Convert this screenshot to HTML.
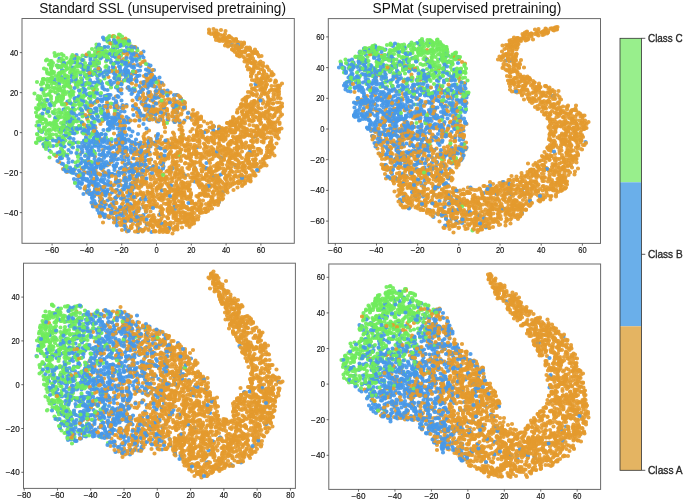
<!DOCTYPE html><html><head><meta charset="utf-8"><style>html,body{margin:0;padding:0;background:#fff;width:685px;height:500px;overflow:hidden}.w{position:relative;width:685px;height:500px}</style></head><body><div class="w"><svg width="685" height="500" viewBox="0 0 1370 1000" style="position:absolute;left:0;top:0"><style>.G{stroke:#70ec5c}.B{stroke:#4698e8}.O{stroke:#e49a2e}path{fill:none;stroke-linecap:round;stroke-width:8.4;stroke-opacity:0.92}</style><defs><clipPath id="cTL"><rect x="44" y="37" width="544.6" height="449.6"/></clipPath><clipPath id="cTR"><rect x="656.6" y="37.2" width="544.4" height="449.6"/></clipPath><clipPath id="cBL"><rect x="47" y="526.4" width="543.8" height="450.4"/></clipPath><clipPath id="cBR"><rect x="657.6" y="528" width="543.6" height="450.4"/></clipPath></defs><g clip-path="url(#cTL)">
<path class="O" d="M245 391h0M396 350h0M403 424h0M320 204h0M231 234h0M425 385h0M504 329h0M426 384h0M336 385h0M343 277h0M467 364h0M362 283h0M533 259h0M320 296h0M543 245h0M495 319h0M323 273h0M272 298h0M520 335h0M538 140h0M385 328h0M366 217h0M525 139h0M353 388h0M345 290h0M424 349h0M411 383h0M301 164h0M219 369h0M346 265h0M457 287h0M278 349h0M491 296h0M401 424h0M312 188h0M202 415h0M479 326h0M274 390h0M341 342h0M298 135h0M385 280h0M292 342h0M366 369h0M313 378h0M379 369h0M418 66h0M511 311h0M509 221h0M279 326h0M527 175h0M266 448h0M402 351h0M521 334h0M429 286h0M390 440h0M502 170h0M432 403h0M456 335h0M349 389h0M526 272h0M198 96h0M340 340h0M373 279h0M484 94h0M273 438h0M531 237h0M340 349h0M176 384h0M232 193h0M335 233h0M221 169h0M325 286h0M518 217h0M493 228h0M309 341h0M479 235h0M319 358h0M367 374h0M354 221h0M281 384h0M424 371h0M362 367h0M521 232h0M311 236h0M335 280h0M374 290h0M396 255h0M334 298h0M453 369h0M312 299h0M233 206h0M426 284h0M534 304h0M517 342h0M329 388h0M432 365h0M267 395h0M557 277h0M289 214h0M388 341h0M532 223h0M528 185h0M461 372h0M402 387h0M501 215h0M506 276h0M494 267h0M278 331h0M225 73h0M501 117h0M254 242h0M322 357h0M542 276h0M208 374h0M542 284h0M542 275h0M246 344h0M379 370h0M507 228h0M297 389h0M338 383h0M350 413h0M152 161h0M431 67h0M341 350h0M334 464h0M413 278h0M450 68h0M247 118h0M376 373h0M300 231h0M332 218h0M321 360h0M298 396h0M537 300h0M551 161h0M392 407h0M506 319h0"/>
<path class="G" d="M147 163h0M243 123h0M123 258h0M96 171h0M246 106h0M252 82h0M94 144h0M98 247h0M135 153h0M73 286h0M121 147h0M178 176h0M143 148h0M118 162h0M91 211h0M259 86h0M168 256h0M158 203h0M131 281h0M233 107h0M239 90h0M132 340h0M242 111h0M113 240h0M118 165h0M120 179h0M75 244h0M171 203h0M141 194h0M167 120h0M158 217h0M132 207h0M88 214h0M229 86h0M166 230h0M174 140h0M230 98h0M75 219h0M144 245h0M209 157h0M102 193h0M215 83h0M140 255h0M113 291h0M167 132h0M193 89h0M118 180h0M178 232h0M192 272h0M155 300h0M105 278h0M167 143h0"/>
<path class="B" d="M289 124h0M242 276h0M276 218h0M202 427h0M275 339h0M211 391h0M218 354h0M351 202h0M154 285h0M165 209h0M263 388h0M228 438h0M201 117h0M96 174h0M258 131h0M252 305h0M194 201h0M191 285h0M268 425h0M262 295h0M238 297h0M187 369h0M197 200h0M84 208h0M186 342h0M186 412h0M183 342h0M281 307h0M381 236h0M202 427h0M221 370h0M215 401h0M296 129h0M318 223h0M193 350h0M244 335h0M350 418h0M232 359h0M234 287h0M260 408h0M160 345h0M390 336h0M95 287h0M217 135h0M267 332h0M348 234h0M230 150h0M194 151h0M276 190h0M126 157h0M250 399h0M223 283h0M249 90h0M299 305h0M198 301h0M265 185h0M287 115h0M190 239h0M205 110h0M182 364h0"/>
<path class="O" d="M403 308h0M308 410h0M203 321h0M412 296h0M304 410h0M447 337h0M251 370h0M278 404h0M250 449h0M520 239h0M261 326h0M443 270h0M459 260h0M357 383h0M306 332h0M174 385h0M280 336h0M440 337h0M344 363h0M497 224h0M428 382h0M547 245h0M500 118h0M363 260h0M376 375h0M447 294h0M330 284h0M450 340h0M326 297h0M340 450h0M291 392h0M352 441h0M299 404h0M467 84h0M291 362h0M558 188h0M402 238h0M447 282h0M435 335h0M351 427h0M227 250h0M381 406h0M547 187h0M187 410h0M496 184h0M328 181h0M168 292h0M271 241h0M327 348h0M300 184h0M482 292h0M334 218h0M313 364h0M551 273h0M434 304h0M163 305h0M337 309h0M414 351h0M203 420h0M316 359h0M492 318h0M418 381h0M345 225h0M126 192h0M367 415h0M321 342h0M410 339h0M371 374h0M278 377h0M362 197h0M200 429h0M440 82h0M281 227h0M434 308h0M471 92h0M289 368h0M508 127h0M298 147h0M264 301h0M456 289h0M383 449h0M399 324h0M526 132h0M376 350h0M505 147h0M390 416h0M252 364h0M408 298h0M329 200h0M495 127h0M362 229h0M513 328h0M517 202h0M536 292h0M416 262h0M338 412h0M449 262h0M484 240h0M286 187h0M396 347h0M282 373h0M331 445h0M246 450h0M373 441h0M272 369h0M415 247h0M465 316h0M503 204h0M277 438h0M480 251h0M408 334h0M265 316h0M516 340h0M530 313h0M275 359h0M307 203h0M304 213h0M336 464h0M293 306h0M330 444h0M291 456h0M416 338h0M419 418h0M482 296h0M505 310h0M463 244h0M274 351h0M270 106h0M511 319h0M443 384h0M320 397h0M423 395h0M337 240h0M304 166h0M205 311h0M359 251h0M477 367h0M348 397h0M500 298h0M353 395h0M212 385h0M320 279h0M488 274h0M225 238h0M547 149h0M498 310h0M228 267h0M363 384h0M314 207h0M475 297h0M550 182h0M370 443h0M466 78h0M406 380h0"/>
<path class="G" d="M134 164h0M143 293h0M124 197h0M194 113h0M89 191h0M253 145h0M161 117h0M96 220h0M138 168h0M143 288h0M96 291h0M127 160h0M143 119h0M88 217h0M256 80h0M158 252h0M211 105h0M173 112h0M127 111h0M139 260h0M117 147h0M166 201h0M217 108h0M165 265h0M244 73h0M74 164h0M201 97h0M154 125h0M86 158h0M242 78h0M81 235h0M87 181h0M91 219h0M129 232h0"/>
<path class="B" d="M126 328h0M270 364h0M171 322h0M123 154h0M145 209h0M271 442h0M272 279h0M217 297h0M231 308h0M226 96h0M196 285h0M193 349h0M214 331h0M230 241h0M207 113h0M90 286h0M107 226h0M394 295h0M305 338h0M118 168h0M209 192h0M257 383h0M303 464h0M311 189h0M95 172h0M233 229h0M132 156h0M161 149h0M88 218h0M170 191h0M206 364h0M287 306h0M345 291h0M165 293h0M308 153h0M145 323h0M173 328h0M165 304h0M169 292h0M174 382h0M389 363h0M193 335h0M158 341h0M185 131h0M188 127h0M181 350h0M177 372h0M171 166h0M187 260h0M161 294h0M267 177h0M292 154h0M241 278h0M234 300h0M201 146h0M257 320h0M198 426h0M219 299h0M216 305h0M185 393h0M110 310h0M129 308h0"/>
<path class="B" d="M246 268h0M282 369h0M270 147h0M324 233h0M211 280h0M233 213h0M146 215h0M304 169h0M428 253h0M245 84h0M271 340h0M369 241h0M266 143h0M155 359h0M183 256h0M126 293h0M330 227h0M124 316h0M138 231h0M186 348h0M341 289h0M250 354h0M206 307h0M237 181h0M219 284h0M163 134h0M300 146h0M236 155h0M193 128h0M263 394h0M190 252h0M280 195h0M134 227h0M142 305h0M172 274h0M249 79h0M165 130h0M191 280h0M208 309h0M247 280h0M232 404h0M250 347h0M183 165h0M281 321h0M288 170h0M130 333h0M217 243h0M238 293h0M203 147h0M213 199h0M228 331h0M182 220h0M246 372h0M224 348h0M275 199h0M235 171h0M236 125h0M224 112h0M199 111h0M145 258h0M202 163h0M183 171h0M176 345h0M123 327h0M167 340h0M201 96h0M244 102h0M308 173h0M189 205h0M200 395h0M181 120h0"/>
<path class="G" d="M84 261h0M122 257h0M143 345h0M135 184h0M99 271h0M100 246h0M178 149h0M200 167h0M186 129h0M148 154h0M92 294h0M109 227h0M244 129h0M101 183h0M147 343h0M225 102h0M104 154h0M76 277h0M115 239h0M162 243h0M169 261h0M117 284h0M73 251h0M99 190h0M121 177h0M139 275h0M177 109h0M190 103h0M145 209h0M279 118h0M138 154h0M216 141h0M136 242h0M225 108h0M99 129h0M193 171h0M142 127h0"/>
<path class="O" d="M397 418h0M260 161h0M364 455h0M442 60h0M557 216h0M272 375h0M215 220h0M498 336h0M494 310h0M409 336h0M462 282h0M330 451h0M509 133h0M535 313h0M338 420h0M506 234h0M517 298h0M269 404h0M428 332h0M331 285h0M242 236h0M344 356h0M349 399h0M311 462h0M306 229h0M482 214h0M389 408h0M494 268h0M524 187h0M351 396h0M212 409h0M293 335h0M498 241h0M531 186h0M403 408h0M326 213h0M447 316h0M510 99h0M307 158h0M218 329h0M258 399h0M516 109h0M366 404h0M518 260h0M385 308h0M271 370h0M526 207h0M243 121h0M353 233h0M544 218h0M385 258h0M428 280h0M447 268h0M510 125h0M206 300h0M355 439h0M397 363h0M484 287h0M448 78h0M522 245h0M141 174h0M248 356h0M356 284h0M433 377h0M394 365h0M330 365h0M452 351h0M394 351h0M268 130h0M485 289h0M314 182h0M527 285h0M378 381h0M322 352h0M429 366h0M250 279h0M327 218h0M473 287h0M473 93h0M436 294h0M485 354h0M232 438h0M499 351h0M425 318h0M375 441h0M429 409h0M276 454h0M512 172h0M437 351h0M328 360h0M540 181h0M396 439h0M434 265h0M274 225h0M404 313h0M506 209h0M448 318h0M477 335h0M457 307h0M396 438h0M516 266h0M302 450h0M458 320h0M320 346h0M451 77h0M381 355h0M294 156h0M474 294h0M523 274h0M315 377h0M338 428h0M298 283h0M264 335h0M273 387h0M345 233h0M363 209h0M284 360h0M422 355h0M474 106h0M374 316h0M441 258h0M438 385h0M507 122h0M223 408h0M478 273h0M521 238h0M537 210h0M400 426h0M286 353h0M326 464h0M384 308h0M509 102h0M324 326h0M393 240h0M342 296h0M398 280h0M204 427h0M287 386h0M339 307h0M503 126h0M427 403h0M493 216h0"/>
<path class="G" d="M75 198h0M124 300h0M130 227h0M78 210h0M153 258h0M136 216h0M116 188h0M114 290h0M101 276h0M211 102h0M184 98h0M214 116h0M148 136h0M211 104h0M141 133h0M152 166h0M122 297h0M233 89h0M145 139h0M146 234h0M176 212h0M251 142h0M216 197h0M217 168h0M154 118h0M151 325h0M105 269h0"/>
<path class="B" d="M302 144h0M167 388h0M135 255h0M196 240h0M186 361h0M255 141h0M189 402h0M207 302h0M248 379h0M224 371h0M173 326h0M233 160h0M173 361h0M235 278h0M216 208h0M140 228h0M292 139h0M176 318h0M208 430h0M217 348h0M230 227h0M287 430h0M189 303h0M163 286h0M235 106h0M289 394h0M184 386h0M158 192h0M246 432h0M239 363h0M197 135h0M231 333h0M190 140h0M132 238h0M232 445h0M206 283h0M237 318h0M270 430h0M204 398h0M190 273h0M261 241h0M201 289h0M272 111h0M187 344h0M279 294h0M286 462h0M128 173h0M200 402h0M176 385h0M177 168h0M275 423h0M463 90h0M308 157h0M205 173h0M184 235h0M137 275h0M251 285h0M243 201h0M323 189h0M446 384h0M110 165h0M209 179h0M273 108h0M239 264h0M205 199h0M205 351h0M213 79h0M146 259h0M257 237h0M231 381h0M137 318h0M278 115h0M318 373h0M153 242h0M216 259h0M208 316h0M216 248h0M173 297h0"/>
<path class="O" d="M361 425h0M448 78h0M311 183h0M126 338h0M479 113h0M347 428h0M543 280h0M374 398h0M319 451h0M368 425h0M512 106h0M368 391h0M429 370h0M217 154h0M484 316h0M419 63h0M293 412h0M313 241h0M264 93h0M473 279h0M244 290h0M241 150h0M418 311h0M138 341h0M535 226h0M418 309h0M252 454h0M244 284h0M551 245h0M179 384h0M336 391h0M433 329h0M364 376h0M543 299h0M384 240h0M542 301h0M347 408h0M361 404h0M446 71h0M461 261h0M469 238h0M348 330h0M477 323h0M506 178h0M367 347h0M323 188h0M464 282h0M346 226h0M454 246h0M285 409h0M348 197h0M329 247h0M500 240h0M174 254h0M374 375h0M514 257h0M315 185h0M304 385h0M504 160h0M331 360h0M328 227h0M559 205h0M460 318h0M457 350h0M147 342h0M532 230h0M401 327h0M534 209h0M403 268h0M358 387h0M559 258h0M284 362h0M480 95h0M134 344h0M288 359h0M417 345h0M307 389h0M543 149h0M518 113h0M521 248h0M333 353h0M270 111h0M443 392h0M244 164h0M324 369h0M351 206h0M422 401h0M485 326h0M306 288h0M307 441h0M394 271h0M379 293h0M330 380h0M465 246h0M486 294h0M370 352h0M244 428h0M450 356h0M557 192h0M403 410h0M494 95h0M410 374h0M490 338h0M438 286h0M301 415h0M309 365h0M481 354h0M396 393h0M401 261h0M442 78h0M216 432h0M251 341h0M316 314h0M513 104h0M285 308h0M533 331h0M381 320h0M429 287h0M337 186h0M509 207h0M376 293h0M290 357h0M336 437h0M308 463h0M476 298h0M463 333h0M403 263h0M522 163h0M322 219h0M501 125h0M459 333h0M240 268h0M351 454h0M554 269h0M348 372h0M439 372h0M328 398h0M504 304h0M506 117h0M447 316h0M331 294h0M539 232h0M474 258h0M312 286h0M377 381h0"/>
<path class="G" d="M130 131h0M87 288h0M154 265h0M143 142h0M190 188h0M208 230h0M157 285h0M109 207h0M112 176h0M170 126h0M75 218h0M111 185h0M121 288h0M189 261h0M133 229h0M152 170h0M139 205h0M216 261h0M209 103h0M86 210h0M79 236h0M198 124h0M226 92h0M203 104h0M150 203h0M86 167h0M124 124h0M79 242h0M203 111h0M87 259h0"/>
<path class="O" d="M325 459h0M304 149h0M381 394h0M205 279h0M468 312h0M501 184h0M459 345h0M415 392h0M532 171h0M451 358h0M328 407h0M246 399h0M520 230h0M555 242h0M518 262h0M219 396h0M345 325h0M490 333h0M553 222h0M478 362h0M350 432h0M271 337h0M335 418h0M488 235h0M297 276h0M296 305h0M422 393h0M521 123h0M506 333h0M437 312h0M385 277h0M367 245h0M513 131h0M438 256h0M384 435h0M384 362h0M325 235h0M379 316h0M471 319h0M293 448h0M353 206h0M413 421h0M388 338h0M495 262h0M340 305h0M284 397h0M253 442h0M517 136h0M296 375h0M353 335h0M339 346h0M444 269h0M348 268h0M272 428h0M385 434h0M461 358h0M538 256h0M451 276h0M483 105h0M319 464h0M307 222h0M352 328h0M317 310h0M335 384h0M375 336h0M519 226h0M335 283h0M555 196h0M452 382h0M378 419h0M555 274h0M314 394h0M451 62h0M332 408h0M296 446h0M405 332h0M543 249h0M431 275h0M475 292h0M247 438h0M393 305h0M288 152h0M454 299h0M418 364h0M468 80h0M349 214h0M453 265h0M430 306h0M390 249h0M411 278h0M469 265h0M266 219h0M414 416h0M435 388h0M394 268h0M274 304h0M417 309h0M454 81h0M329 318h0M247 239h0M378 309h0M497 293h0M336 406h0M217 348h0M368 311h0M232 332h0M318 295h0M447 390h0M320 430h0M455 385h0M189 390h0M502 260h0M411 293h0M439 364h0M327 170h0M516 172h0M518 146h0M421 280h0M520 262h0M355 383h0M402 264h0M345 311h0M372 301h0M382 442h0M319 448h0M283 346h0M353 238h0M164 355h0M377 225h0M339 408h0M351 329h0M418 59h0M190 313h0M271 432h0M528 233h0M144 341h0M331 356h0M535 204h0"/>
<path class="B" d="M115 131h0M328 207h0M221 291h0M243 415h0M259 149h0M199 309h0M252 300h0M184 305h0M118 307h0M190 377h0M243 272h0M370 433h0M356 378h0M295 198h0M192 263h0M185 176h0M177 107h0M150 338h0M245 210h0M291 163h0M295 176h0M148 358h0M189 290h0M121 225h0M293 302h0M301 167h0M227 404h0M181 116h0M119 117h0M223 86h0M275 450h0M139 343h0M211 349h0M140 335h0M160 354h0M285 345h0M262 305h0M197 380h0M184 150h0M314 195h0M269 360h0M302 319h0M186 302h0M289 332h0M224 372h0M178 188h0M202 222h0M178 258h0M208 344h0M170 287h0M190 413h0M213 191h0M187 256h0M244 427h0M246 149h0M261 116h0M301 142h0M176 335h0M201 191h0M134 334h0M216 235h0M208 293h0M157 194h0M310 159h0M173 216h0M165 321h0M164 299h0M238 246h0M252 155h0M206 307h0M230 238h0M197 295h0M255 131h0M220 349h0M204 203h0M182 294h0M174 235h0M248 160h0M280 226h0M349 414h0M335 239h0M236 289h0"/>
<path class="B" d="M210 331h0M160 228h0M206 240h0M214 198h0M175 216h0M267 375h0M145 218h0M261 356h0M253 270h0M235 306h0M307 238h0M125 281h0M132 341h0M198 371h0M263 111h0M162 197h0M186 341h0M150 365h0M275 152h0M221 243h0M124 132h0M205 384h0M187 409h0M210 107h0M190 348h0M181 113h0M232 115h0M226 208h0M307 333h0M278 184h0M184 296h0M335 229h0M227 146h0M164 246h0M214 215h0M231 214h0M300 169h0M171 267h0M170 376h0M316 294h0M218 81h0M177 347h0M209 358h0M87 289h0M231 142h0M231 349h0M280 132h0M198 89h0M252 427h0M290 232h0M194 278h0M160 309h0M197 368h0M129 257h0M189 318h0M290 314h0M281 132h0M216 379h0M153 110h0M181 223h0M216 190h0M121 282h0M237 109h0M237 194h0M187 307h0M270 301h0M292 149h0M214 230h0M203 97h0M217 190h0M236 229h0M234 159h0M221 120h0M268 317h0M144 149h0"/>
<path class="O" d="M233 380h0M353 340h0M458 72h0M558 177h0M416 294h0M384 422h0M316 351h0M524 165h0M296 187h0M542 244h0M195 389h0M536 194h0M537 222h0M399 400h0M419 372h0M488 198h0M149 113h0M477 331h0M326 392h0M287 404h0M320 415h0M382 386h0M492 208h0M430 265h0M280 128h0M384 426h0M384 229h0M370 213h0M284 181h0M343 420h0M535 236h0M336 436h0M206 389h0M423 309h0M460 325h0M401 413h0M504 243h0M530 277h0M318 344h0M304 171h0M550 251h0M250 283h0M351 217h0M231 144h0M369 444h0M481 364h0M543 179h0M330 388h0M371 301h0M529 257h0M498 335h0M526 132h0M506 284h0M332 315h0M412 348h0M556 260h0M313 329h0M361 417h0M313 376h0M393 315h0M314 221h0M318 430h0M404 370h0M309 435h0M294 333h0M445 276h0M352 314h0M317 195h0M369 389h0M527 320h0M477 259h0M455 306h0M546 207h0M497 237h0M350 406h0M310 193h0M292 234h0M320 233h0M472 90h0M369 211h0M281 386h0M263 454h0M312 412h0M474 365h0M537 153h0M295 305h0M271 407h0M366 408h0M483 91h0M322 308h0M372 315h0M360 386h0M413 294h0M369 437h0M118 324h0M469 263h0M343 344h0M563 257h0M276 111h0M396 394h0M270 439h0M450 299h0M368 290h0M509 132h0M228 445h0M524 157h0M289 268h0M527 282h0M529 269h0M174 268h0M461 289h0M431 74h0M258 104h0M441 275h0M513 136h0M307 400h0M250 426h0M475 375h0M245 306h0M359 349h0M465 243h0M528 142h0M505 216h0M435 333h0M203 398h0M242 282h0M488 85h0M531 161h0M506 285h0M488 342h0M486 360h0M475 295h0"/>
<path class="G" d="M130 152h0M94 119h0M118 308h0M191 205h0M155 122h0M121 255h0M113 241h0M164 121h0M126 250h0M153 260h0M193 128h0M255 123h0M123 108h0M76 219h0M74 268h0M107 147h0M203 268h0M127 173h0M197 106h0M83 279h0M84 177h0M77 210h0M87 186h0M165 245h0M96 224h0M95 172h0M103 142h0M235 119h0M106 163h0M112 152h0M79 199h0M188 143h0M110 220h0M364 271h0M190 109h0M91 178h0M222 207h0M165 248h0M144 188h0M238 81h0M137 237h0M99 315h0M119 273h0"/>
<path class="G" d="M162 196h0M123 262h0M141 120h0M217 109h0M270 118h0M190 118h0M189 225h0M170 323h0M167 141h0M117 275h0M113 248h0M77 280h0M158 332h0M175 165h0M108 256h0M112 204h0M183 131h0M112 244h0M234 82h0M138 206h0M85 238h0M171 190h0M113 242h0M252 127h0M184 235h0M228 80h0M123 308h0M134 227h0M126 197h0M103 205h0M74 233h0M360 305h0M133 134h0M140 145h0M243 167h0M199 100h0"/>
<path class="B" d="M228 165h0M264 386h0M272 156h0M267 133h0M186 252h0M207 284h0M353 241h0M190 292h0M239 288h0M297 282h0M203 424h0M240 92h0M259 180h0M281 232h0M188 262h0M211 296h0M193 329h0M181 195h0M145 343h0M147 256h0M259 355h0M229 335h0M287 103h0M428 354h0M161 327h0M207 415h0M99 301h0M255 107h0M324 166h0M118 233h0M191 347h0M222 421h0M179 253h0M281 285h0M195 378h0M256 327h0M287 248h0M213 324h0M247 307h0M205 282h0M155 256h0M188 276h0M239 301h0M413 336h0M164 245h0M235 257h0M249 321h0M196 103h0M174 345h0M246 262h0M238 104h0M296 141h0M233 319h0M209 375h0M209 347h0M261 165h0M203 268h0M301 293h0M229 127h0M171 112h0M206 75h0M377 406h0M176 261h0M280 310h0M273 328h0M146 135h0"/>
<path class="O" d="M456 323h0M350 406h0M547 193h0M354 312h0M248 350h0M321 395h0M385 415h0M447 375h0M461 338h0M487 220h0M500 223h0M244 444h0M263 304h0M410 263h0M365 261h0M507 143h0M425 257h0M319 286h0M508 322h0M218 286h0M447 378h0M450 373h0M311 463h0M558 259h0M493 260h0M544 147h0M438 253h0M252 440h0M349 295h0M533 149h0M373 376h0M259 127h0M424 397h0M336 399h0M547 219h0M277 445h0M474 309h0M245 325h0M458 74h0M390 324h0M337 372h0M486 369h0M296 320h0M519 197h0M279 401h0M476 363h0M321 371h0M378 429h0M312 272h0M394 292h0M519 298h0M364 336h0M451 272h0M540 289h0M486 326h0M484 90h0M344 232h0M261 128h0M495 100h0M495 310h0M398 253h0M321 388h0M467 264h0M408 243h0M363 445h0M391 338h0M489 331h0M384 347h0M359 356h0M226 306h0M405 425h0M185 209h0M263 432h0M447 343h0M441 278h0M262 369h0M501 361h0M521 272h0M211 346h0M261 383h0M550 179h0M482 209h0M486 209h0M226 435h0M302 386h0M535 135h0M505 127h0M531 257h0M324 358h0M451 279h0M297 458h0M255 375h0M521 139h0M324 328h0M480 351h0M507 240h0M461 358h0M353 414h0M386 439h0M336 285h0M449 74h0M326 241h0M504 350h0M336 341h0M487 331h0M230 397h0M235 305h0M300 451h0M498 119h0M341 445h0M469 367h0M300 449h0M513 253h0M501 270h0M504 282h0M545 180h0M266 393h0M336 314h0M508 263h0M525 149h0M458 289h0M401 425h0M398 275h0M244 460h0M398 238h0M323 167h0M441 70h0M448 320h0M394 420h0M502 146h0M545 235h0M227 72h0M506 106h0M506 343h0M469 297h0M323 380h0M363 363h0M347 220h0M447 78h0M357 212h0M291 215h0M236 425h0M324 417h0M388 247h0M444 256h0M342 337h0M352 386h0M489 365h0"/>
<path class="G" d="M147 184h0M156 115h0M142 235h0M104 175h0M130 141h0M127 311h0M120 203h0M106 246h0M128 277h0M250 121h0M104 132h0M93 203h0M102 260h0M150 197h0M134 138h0M167 177h0M85 247h0M133 170h0M174 206h0M166 348h0M172 215h0M110 248h0M101 148h0M196 233h0M88 255h0M93 262h0M129 174h0M141 264h0M301 234h0M154 146h0M88 293h0M155 174h0M169 148h0M105 224h0M81 193h0"/>
<path class="O" d="M545 296h0M549 232h0M356 216h0M402 233h0M471 96h0M285 124h0M432 351h0M285 344h0M308 413h0M375 278h0M289 287h0M355 411h0M116 283h0M436 410h0M328 244h0M363 289h0M440 380h0M514 309h0M341 451h0M486 269h0M454 353h0M288 239h0M539 248h0M426 298h0M230 136h0M437 356h0M532 164h0M175 239h0M543 172h0M353 438h0M363 394h0M177 327h0M392 302h0M541 284h0M529 326h0M394 247h0M232 218h0M504 291h0M446 77h0M548 295h0M364 385h0M499 296h0M308 450h0M347 432h0M337 387h0M470 352h0M185 408h0M499 310h0M385 433h0M389 355h0M404 272h0M273 340h0M422 338h0M210 232h0M188 371h0M339 201h0M363 354h0M521 323h0M286 390h0M171 373h0M460 317h0M334 368h0M276 448h0M321 423h0M494 133h0M364 204h0M528 168h0M405 331h0M550 171h0M560 224h0M381 331h0M407 333h0M504 177h0M500 110h0M370 206h0M260 439h0M251 147h0M520 233h0M425 396h0M339 455h0M471 335h0M498 136h0M389 426h0M521 178h0M498 193h0M520 128h0M298 158h0M238 278h0M506 138h0M201 278h0M504 310h0M515 253h0M495 193h0M370 217h0M401 331h0M276 345h0M331 455h0M498 292h0M352 283h0M292 413h0M291 211h0M330 255h0M522 326h0M267 416h0M311 444h0M381 289h0M451 375h0M240 361h0M393 325h0M482 85h0M552 189h0M277 422h0M509 202h0M490 242h0M516 158h0M514 255h0M402 252h0M538 239h0M413 304h0M537 220h0M441 315h0M315 341h0M255 411h0M437 330h0M224 291h0M366 365h0M330 445h0M361 379h0M503 229h0M427 403h0M360 345h0M388 280h0M244 386h0M380 379h0M231 396h0M514 223h0M298 261h0M436 339h0M443 324h0M361 431h0M302 282h0M550 165h0M438 378h0"/>
<path class="B" d="M331 281h0M368 204h0M275 152h0M193 410h0M242 303h0M257 338h0M186 413h0M204 228h0M245 82h0M296 295h0M238 159h0M189 175h0M251 418h0M128 271h0M293 150h0M172 333h0M180 323h0M167 203h0M289 209h0M245 379h0M248 254h0M267 109h0M266 146h0M230 242h0M236 177h0M198 318h0M413 326h0M229 156h0M147 278h0M470 330h0M210 429h0M197 329h0M195 157h0M188 264h0M264 370h0M230 213h0M369 351h0M156 258h0M164 366h0M226 427h0M258 146h0M79 281h0M157 238h0M317 336h0M179 388h0M200 282h0M287 414h0M245 417h0M193 335h0M235 95h0M225 252h0M184 149h0M205 329h0M185 398h0M195 291h0M180 143h0M256 313h0M235 219h0M166 351h0M137 300h0M137 325h0M204 167h0M217 280h0M153 349h0M193 355h0M306 169h0M185 304h0M327 333h0M240 337h0M190 113h0M177 280h0M237 285h0"/>
<path class="B" d="M276 464h0M187 340h0M79 262h0M203 220h0M198 386h0M295 310h0M255 87h0M279 417h0M239 256h0M220 251h0M226 139h0M262 353h0M182 270h0M262 93h0M279 444h0M214 227h0M243 215h0M427 261h0M256 415h0M257 244h0M245 143h0M185 388h0M195 386h0M180 219h0M242 397h0M226 132h0M164 159h0M265 118h0M269 211h0M229 246h0M245 246h0M318 194h0M178 141h0M194 268h0M297 190h0M78 251h0M135 203h0M149 117h0M218 436h0M201 361h0M262 272h0M128 251h0M129 293h0M165 264h0M254 298h0M162 326h0M307 213h0M139 165h0M248 241h0M357 214h0M147 346h0M291 203h0M261 382h0M193 360h0M192 345h0M185 306h0M192 373h0M252 126h0M231 395h0M192 369h0M229 332h0M202 408h0M241 290h0M321 165h0M251 335h0M310 285h0M202 199h0M109 159h0M94 294h0M246 143h0M302 229h0M256 102h0M229 216h0M181 301h0M201 349h0M185 340h0M175 359h0M121 311h0M219 351h0M187 186h0"/>
<path class="O" d="M232 360h0M240 427h0M485 200h0M295 228h0M371 374h0M509 333h0M477 295h0M497 316h0M452 265h0M274 325h0M378 437h0M548 199h0M379 451h0M358 425h0M307 204h0M507 178h0M509 351h0M540 229h0M457 375h0M294 212h0M194 415h0M277 332h0M393 260h0M421 405h0M483 111h0M436 67h0M492 231h0M326 459h0M452 358h0M313 306h0M358 313h0M402 235h0M368 380h0M475 225h0M520 130h0M347 313h0M355 225h0M314 243h0M241 382h0M291 349h0M427 306h0M407 387h0M456 93h0M368 383h0M378 281h0M476 306h0M548 268h0M432 311h0M408 287h0M301 216h0M432 359h0M509 261h0M241 370h0M503 307h0M508 212h0M490 105h0M433 67h0M430 374h0M340 295h0M345 467h0M316 316h0M509 206h0M264 350h0M465 98h0M532 174h0M248 277h0M362 322h0M528 145h0M408 355h0M498 225h0M177 312h0M516 214h0M390 279h0M281 440h0M275 360h0M368 216h0M509 178h0M269 341h0M363 227h0M412 354h0M433 336h0M543 256h0M509 303h0M339 447h0M488 263h0M481 363h0M259 422h0M268 306h0M492 344h0M288 414h0M202 410h0M503 340h0M452 381h0M250 298h0M348 392h0M378 305h0M426 386h0M461 326h0M419 340h0M430 73h0M557 237h0M236 227h0M282 320h0M329 445h0M365 279h0M340 199h0M285 330h0M347 209h0M355 440h0M529 188h0M275 232h0M468 276h0M438 351h0M462 327h0M472 330h0M322 341h0M297 385h0M483 208h0M510 263h0M327 390h0M435 337h0M422 68h0M214 205h0M416 389h0M483 110h0M474 300h0M249 314h0M273 418h0M331 356h0M335 407h0M318 398h0M447 368h0M322 362h0"/>
<path class="G" d="M186 192h0M103 122h0M80 204h0M165 225h0M95 158h0M126 125h0M177 132h0M116 180h0M150 210h0M131 216h0M134 152h0M155 309h0M140 138h0M77 280h0M93 139h0M156 133h0M210 94h0M114 253h0M116 236h0M108 144h0M88 137h0M195 142h0M223 278h0M134 272h0M222 175h0M131 244h0M117 122h0M125 185h0M193 166h0M187 183h0M156 322h0M136 172h0M124 286h0M238 69h0M138 124h0M227 86h0M164 192h0"/>
<path class="G" d="M357 310h0M269 177h0M150 201h0M119 235h0M196 151h0M230 141h0M135 309h0M219 86h0M133 127h0M178 196h0M236 85h0M107 248h0M74 232h0M138 287h0M84 164h0M152 156h0M109 106h0M207 105h0M200 115h0M121 180h0M126 255h0M246 91h0M132 162h0M169 181h0M334 246h0M69 187h0M160 186h0M95 287h0M253 86h0M185 189h0M124 157h0M167 267h0M177 291h0M148 150h0M178 153h0M80 216h0M238 159h0M122 246h0M133 237h0M119 263h0M129 237h0M160 211h0M247 86h0"/>
<path class="B" d="M187 263h0M240 245h0M283 206h0M256 104h0M293 357h0M301 131h0M239 182h0M187 279h0M202 293h0M234 432h0M275 327h0M243 178h0M292 173h0M320 179h0M280 312h0M438 404h0M192 203h0M251 459h0M251 413h0M183 247h0M177 363h0M173 136h0M84 264h0M245 299h0M117 191h0M244 273h0M202 362h0M143 251h0M320 239h0M276 348h0M249 279h0M169 282h0M162 167h0M269 329h0M348 190h0M134 312h0M274 97h0M309 160h0M240 134h0M221 399h0M177 315h0M254 404h0M265 330h0M287 341h0M263 441h0M353 225h0M203 415h0M194 230h0M195 198h0M511 168h0M224 246h0M235 214h0M173 233h0M153 306h0M321 313h0M283 204h0M141 237h0M282 296h0M168 185h0M220 412h0M263 159h0M155 351h0M228 80h0M265 379h0M190 367h0M216 387h0M106 281h0M257 245h0M215 295h0M284 353h0M282 177h0M141 185h0M243 284h0"/>
<path class="O" d="M348 222h0M260 382h0M466 273h0M507 241h0M268 144h0M502 282h0M311 207h0M239 237h0M409 304h0M517 302h0M293 265h0M474 300h0M465 369h0M385 232h0M357 420h0M450 91h0M504 112h0M459 314h0M517 239h0M187 179h0M347 396h0M338 425h0M223 422h0M298 411h0M391 409h0M173 109h0M203 376h0M350 350h0M554 182h0M375 279h0M337 236h0M472 307h0M492 202h0M546 217h0M241 419h0M259 439h0M287 390h0M429 408h0M338 386h0M314 281h0M393 392h0M305 338h0M400 294h0M236 344h0M317 219h0M342 395h0M444 386h0M419 305h0M546 295h0M301 201h0M270 159h0M431 404h0M252 356h0M501 356h0M265 387h0M496 232h0M508 202h0M289 365h0M458 91h0M467 380h0M552 225h0M535 154h0M497 322h0M347 424h0M364 277h0M320 373h0M503 265h0M528 277h0M216 225h0M347 380h0M470 265h0M422 275h0M439 279h0M479 112h0M310 289h0M291 209h0M372 426h0M235 391h0M266 438h0M313 340h0M492 285h0M236 75h0M552 163h0M366 269h0M302 400h0M325 311h0M313 347h0M334 206h0M317 222h0M348 313h0M499 210h0M210 434h0M518 268h0M534 133h0M475 220h0M491 195h0M502 221h0M414 377h0M317 453h0M399 388h0M361 247h0M480 274h0M372 414h0M399 282h0M379 454h0M489 354h0M407 373h0M401 371h0M342 415h0M315 441h0M301 354h0M304 438h0M288 284h0M471 249h0M211 370h0M454 353h0M474 244h0M352 225h0M258 460h0M388 415h0M357 441h0M514 235h0M310 289h0M445 329h0M244 409h0M222 377h0M267 357h0M352 366h0M511 351h0M426 282h0M503 268h0M451 257h0M431 351h0M378 300h0"/>
<path class="B" d="M200 328h0M240 245h0M242 168h0M209 94h0M203 388h0M244 123h0M258 413h0M241 430h0M326 337h0M259 359h0M165 359h0M260 439h0M232 215h0M207 260h0M207 145h0M191 370h0M296 219h0M250 246h0M252 146h0M180 160h0M204 280h0M324 381h0M291 196h0M249 303h0M182 326h0M268 136h0M251 282h0M296 287h0M115 322h0M200 328h0M171 180h0M282 398h0M146 295h0M221 190h0M208 226h0M235 228h0M232 288h0M312 174h0M210 351h0M243 277h0M218 196h0M261 157h0M197 139h0M314 277h0M115 306h0M298 223h0M193 184h0M205 430h0M135 245h0M225 416h0M293 257h0M297 184h0M160 253h0M264 411h0M143 161h0M162 367h0M162 218h0M152 333h0M281 184h0M277 350h0M188 363h0M124 140h0M188 123h0M106 292h0M141 206h0M299 240h0M208 282h0M234 152h0M255 360h0M255 176h0"/>
<path class="O" d="M451 341h0M306 455h0M466 265h0M454 330h0M361 411h0M544 290h0M305 219h0M445 365h0M421 370h0M199 379h0M180 345h0M526 267h0M339 404h0M329 380h0M327 324h0M289 122h0M323 437h0M492 96h0M426 359h0M277 415h0M346 321h0M397 433h0M355 448h0M394 432h0M466 234h0M307 352h0M391 229h0M378 428h0M418 305h0M301 386h0M351 454h0M480 312h0M288 232h0M353 380h0M533 313h0M556 183h0M452 311h0M446 397h0M453 256h0M421 374h0M322 321h0M461 311h0M517 126h0M344 287h0M218 434h0M301 404h0M523 283h0M277 462h0M473 311h0M404 343h0M394 362h0M201 393h0M443 363h0M298 192h0M323 418h0M542 266h0M534 209h0M401 320h0M253 419h0M527 272h0M438 261h0M326 193h0M371 326h0M426 251h0M457 294h0M351 287h0M251 416h0M476 276h0M132 208h0M526 318h0M290 289h0M471 250h0M391 435h0M490 213h0M355 237h0M270 290h0M405 275h0M534 169h0M264 149h0M262 452h0M408 390h0M456 327h0M499 250h0M331 459h0M356 372h0M504 186h0M347 241h0M488 88h0M265 399h0M288 277h0M539 305h0M351 327h0M298 214h0M247 212h0M266 349h0M545 298h0M471 350h0M412 261h0M354 370h0M524 178h0M411 424h0M534 157h0M430 342h0M315 226h0M454 380h0M319 223h0M371 435h0M491 101h0M263 456h0M533 224h0M254 385h0M337 229h0M400 375h0M378 328h0M432 80h0M481 280h0M423 349h0M502 152h0M239 419h0M420 411h0M452 369h0M266 348h0M397 412h0M365 424h0M425 302h0M495 231h0M283 339h0M522 192h0M313 382h0M265 415h0M523 217h0M320 441h0M440 277h0M499 326h0M477 99h0M396 236h0M360 341h0M308 439h0M427 299h0M406 380h0M301 223h0M347 382h0M280 308h0M521 160h0M428 69h0"/>
<path class="G" d="M128 209h0M196 101h0M103 127h0M143 243h0M86 210h0M137 251h0M125 164h0M103 130h0M102 304h0M120 145h0M79 236h0M100 249h0M133 332h0M127 121h0M139 190h0M139 174h0M193 228h0M269 94h0M213 145h0M104 157h0M119 264h0M182 131h0M177 243h0M140 175h0M139 232h0M115 201h0M112 269h0M168 171h0M201 99h0M194 121h0M219 72h0M120 308h0M201 215h0M102 135h0M98 277h0"/>
<path class="G" d="M120 161h0M102 137h0M155 128h0M145 184h0M92 121h0M94 170h0M124 200h0M211 79h0M186 302h0M116 234h0M125 121h0M171 169h0M87 159h0M199 100h0M92 245h0M86 165h0M131 337h0M128 304h0M86 278h0M130 131h0M97 261h0M175 132h0M193 220h0M150 124h0M146 244h0M145 266h0M147 224h0M112 241h0M80 243h0M126 193h0M230 102h0M187 267h0M183 144h0M95 147h0M125 289h0M101 163h0M110 237h0M141 220h0M133 116h0M88 208h0M173 137h0M86 238h0M78 278h0M236 83h0M119 148h0"/>
<path class="B" d="M232 86h0M203 358h0M210 409h0M189 360h0M226 134h0M253 210h0M259 259h0M511 273h0M442 349h0M227 197h0M250 295h0M149 267h0M202 269h0M148 285h0M213 383h0M197 271h0M190 217h0M278 331h0M268 146h0M122 290h0M168 261h0M326 327h0M266 212h0M166 230h0M167 177h0M154 165h0M227 331h0M249 342h0M219 164h0M220 256h0M206 403h0M291 219h0M261 301h0M280 291h0M235 392h0M252 367h0M227 85h0M166 348h0M158 168h0M111 235h0M204 98h0M272 364h0M122 259h0M209 415h0M167 139h0M269 285h0M175 251h0M229 424h0M305 285h0M253 420h0M317 243h0M219 107h0M160 354h0M288 291h0M185 266h0M264 134h0M328 215h0M189 326h0M183 361h0"/>
<path class="O" d="M435 356h0M279 432h0M370 367h0M328 449h0M446 261h0M363 346h0M385 420h0M512 181h0M493 224h0M495 210h0M499 223h0M418 321h0M322 400h0M453 306h0M317 168h0M414 282h0M263 375h0M283 293h0M456 368h0M347 446h0M527 254h0M198 411h0M467 101h0M471 262h0M248 106h0M383 438h0M434 68h0M469 286h0M553 262h0M479 108h0M535 275h0M525 258h0M429 374h0M291 419h0M313 343h0M171 230h0M350 244h0M339 335h0M255 108h0M222 398h0M379 331h0M350 293h0M302 359h0M485 255h0M364 312h0M339 413h0M489 103h0M337 186h0M296 449h0M462 265h0M437 264h0M512 281h0M456 271h0M459 284h0M527 232h0M357 377h0M479 309h0M290 196h0M504 273h0M319 368h0M322 309h0M454 263h0M309 358h0M484 303h0M413 264h0M275 303h0M276 217h0M395 240h0M338 460h0M482 104h0M495 194h0M380 393h0M357 402h0M325 331h0M247 442h0M293 365h0M556 171h0M392 309h0M471 352h0M439 335h0M470 245h0M293 217h0M323 391h0M475 336h0M263 441h0M561 232h0M455 75h0M480 247h0M509 134h0M363 254h0M513 151h0M459 73h0M196 283h0M559 248h0M488 211h0M505 293h0M536 243h0M392 340h0M315 389h0M485 262h0M439 255h0M471 285h0M513 333h0M183 368h0M530 251h0M232 285h0M324 401h0M419 409h0M257 379h0M261 456h0M377 370h0M474 239h0M475 243h0M491 258h0M389 338h0M336 418h0M221 87h0M442 322h0M437 81h0M180 228h0M333 343h0M284 432h0M461 243h0M354 238h0M451 297h0M293 212h0M477 256h0M300 168h0M356 339h0M300 348h0M361 274h0M474 84h0M288 325h0M490 265h0M274 450h0M239 157h0M270 94h0M233 366h0M469 329h0M479 216h0M370 294h0M291 217h0M555 176h0M385 324h0M409 358h0M310 366h0"/>
<path class="O" d="M356 204h0M178 324h0M205 242h0M462 341h0M535 191h0M528 253h0M253 329h0M478 100h0M290 436h0M497 111h0M289 443h0M515 309h0M434 70h0M240 251h0M531 214h0M465 326h0M335 189h0M461 261h0M358 390h0M493 313h0M475 294h0M344 288h0M388 447h0M532 254h0M497 355h0M475 354h0M391 236h0M239 301h0M262 391h0M490 235h0M437 402h0M564 207h0M397 269h0M488 230h0M411 309h0M421 300h0M371 430h0M530 177h0M221 214h0M254 431h0M345 315h0M506 190h0M223 410h0M265 396h0M265 201h0M274 434h0M485 333h0M302 441h0M169 345h0M545 254h0M354 354h0M538 303h0M290 279h0M288 460h0M514 105h0M291 220h0M316 373h0M290 438h0M481 252h0M557 173h0M382 417h0M412 424h0M370 327h0M305 436h0M556 221h0M387 442h0M375 446h0M420 344h0M514 284h0M284 313h0M496 361h0M206 445h0M308 172h0M287 273h0M353 431h0M539 251h0M465 313h0M412 351h0M539 206h0M492 268h0M191 341h0M553 287h0M251 303h0M383 322h0M408 312h0M269 410h0M509 161h0M356 203h0M191 256h0M525 179h0M296 433h0M384 406h0M187 357h0M245 80h0M261 426h0M426 344h0M518 165h0M441 279h0M343 332h0M459 252h0M403 368h0M345 417h0M388 231h0M360 275h0M381 436h0M484 357h0M483 213h0M258 341h0M417 338h0M457 246h0M420 326h0M346 457h0M455 246h0M537 198h0M197 106h0M447 345h0M466 344h0M365 220h0M483 244h0M321 182h0M244 252h0M403 339h0M294 418h0M330 264h0M260 442h0M290 172h0M523 176h0M334 434h0M473 286h0M388 303h0M349 279h0M341 403h0M342 303h0M472 93h0M436 367h0M440 306h0M508 106h0M201 403h0M291 412h0M515 225h0M355 453h0M542 199h0M253 113h0"/>
<path class="G" d="M211 111h0M153 161h0M180 209h0M185 111h0M165 111h0M179 252h0M160 255h0M90 239h0M135 267h0M88 201h0M172 309h0M243 85h0M72 225h0M136 159h0M97 188h0M207 108h0M213 132h0M178 105h0M116 135h0M149 237h0M175 149h0M124 301h0M101 146h0M152 334h0M83 263h0M366 202h0M113 281h0M81 230h0M156 167h0M155 141h0M140 126h0M160 350h0M115 273h0M122 134h0M143 181h0M254 152h0M76 192h0M191 286h0M114 200h0"/>
<path class="B" d="M127 219h0M222 235h0M272 423h0M121 317h0M211 269h0M229 231h0M294 449h0M261 342h0M233 239h0M244 292h0M209 434h0M232 175h0M193 279h0M193 331h0M200 413h0M276 268h0M256 142h0M217 75h0M249 223h0M321 428h0M202 320h0M438 259h0M300 336h0M216 259h0M234 380h0M303 162h0M192 217h0M215 180h0M149 176h0M235 192h0M219 144h0M262 153h0M148 125h0M181 302h0M246 216h0M232 332h0M152 202h0M280 305h0M234 249h0M308 194h0M195 126h0M189 336h0M191 263h0M204 378h0M335 181h0M204 335h0M368 215h0M162 317h0M227 256h0M441 315h0M264 123h0M262 441h0M141 266h0M83 179h0M267 230h0M184 395h0M190 146h0M260 130h0M239 115h0M219 249h0M188 311h0M299 213h0M257 279h0M160 256h0M250 375h0M144 245h0M301 278h0M214 383h0"/>
<path class="G" d="M212 123h0M116 153h0M137 164h0M130 167h0M119 194h0M234 173h0M188 111h0M137 246h0M169 191h0M229 73h0M230 222h0M159 252h0M115 232h0M150 256h0M94 250h0M115 159h0M72 285h0M92 199h0M105 156h0M234 93h0M158 163h0M99 286h0M189 194h0M214 103h0M130 166h0M95 163h0M181 199h0M250 161h0M153 152h0M162 180h0M121 197h0M97 175h0M142 124h0M108 166h0M85 231h0M194 179h0M326 350h0M180 138h0M124 206h0M117 153h0M238 152h0M208 153h0M200 163h0M124 261h0M230 156h0M113 131h0M87 213h0M222 125h0M140 188h0M192 173h0"/>
<path class="O" d="M363 299h0M401 390h0M322 212h0M377 434h0M244 439h0M337 387h0M445 308h0M390 295h0M476 97h0M479 366h0M544 247h0M465 91h0M445 301h0M265 96h0M483 349h0M345 425h0M476 84h0M370 356h0M492 203h0M260 413h0M322 458h0M520 180h0M427 253h0M337 358h0M249 395h0M112 312h0M409 374h0M284 370h0M484 224h0M483 241h0M461 247h0M308 394h0M288 210h0M164 337h0M358 281h0M401 420h0M363 432h0M473 274h0M400 315h0M285 460h0M549 260h0M437 313h0M478 102h0M384 402h0M435 327h0M353 190h0M336 188h0M315 451h0M223 142h0M446 82h0M545 306h0M330 210h0M271 208h0M299 326h0M355 307h0M564 167h0M272 412h0M500 219h0M485 103h0M277 287h0M508 304h0M275 390h0M541 263h0M404 343h0M521 231h0M271 440h0M232 354h0M369 204h0M320 174h0M539 314h0M356 232h0M363 283h0M387 347h0M399 405h0M513 254h0M312 218h0M361 385h0M314 305h0M320 372h0M468 353h0M324 289h0M366 372h0M472 253h0M494 258h0M286 396h0M283 176h0M496 213h0M431 403h0M250 252h0M466 239h0M266 342h0M495 111h0M398 403h0M446 277h0M335 448h0M322 461h0M276 459h0M424 344h0M369 386h0M437 406h0M236 215h0M441 292h0M398 252h0M518 199h0M305 379h0M507 105h0M367 245h0M195 203h0M274 355h0M191 412h0M411 278h0M416 302h0M509 346h0M473 245h0M349 391h0M321 212h0M502 153h0M483 286h0M261 385h0M326 206h0M362 436h0M454 363h0M337 317h0M428 65h0M474 110h0M489 123h0M497 122h0M373 393h0M368 411h0M321 191h0M396 357h0M514 328h0M439 398h0M448 306h0M513 252h0M448 345h0M532 310h0M223 314h0M447 274h0M285 294h0M474 225h0M295 383h0M391 243h0M220 389h0M410 418h0"/>
<path class="B" d="M195 267h0M188 286h0M170 378h0M168 281h0M254 95h0M239 230h0M219 347h0M194 285h0M340 205h0M176 150h0M174 188h0M253 295h0M196 325h0M241 91h0M280 141h0M209 382h0M345 337h0M155 372h0M315 271h0M476 90h0M225 348h0M259 282h0M296 239h0M224 385h0M207 324h0M180 191h0M186 337h0M304 346h0M261 97h0M275 130h0M246 286h0M227 426h0M188 265h0M191 324h0M186 365h0M304 158h0M232 205h0M182 302h0M182 330h0M322 328h0M231 365h0M273 353h0M434 303h0M311 196h0M237 372h0M260 387h0M243 187h0M234 420h0M218 327h0M178 308h0M279 172h0M255 401h0M198 275h0M249 257h0M213 212h0"/>
<path class="B" d="M259 352h0M201 333h0M218 367h0M210 367h0M247 394h0M338 456h0M209 389h0M223 125h0M262 290h0M176 135h0M295 162h0M209 384h0M179 368h0M290 321h0M248 361h0M224 310h0M330 302h0M177 372h0M298 292h0M205 387h0M204 405h0M176 141h0M130 262h0M153 257h0M264 338h0M199 138h0M144 154h0M184 233h0M187 251h0M303 165h0M223 169h0M261 368h0M191 381h0M250 128h0M376 226h0M183 282h0M205 363h0M274 434h0M118 133h0M216 245h0M229 156h0M205 428h0M218 190h0M135 257h0M289 211h0M361 197h0M172 278h0M248 286h0M253 314h0M327 186h0M179 346h0M207 335h0M142 339h0M252 135h0M308 140h0M112 282h0M408 265h0M240 236h0M237 362h0M260 384h0M195 187h0M199 211h0M229 294h0M258 327h0M249 277h0M210 230h0M305 200h0M175 285h0M178 380h0M233 395h0M179 288h0"/>
<path class="G" d="M87 158h0M141 221h0M111 260h0M133 170h0M156 314h0M94 226h0M148 227h0M198 108h0M92 277h0M163 221h0M128 181h0M99 267h0M194 277h0M179 167h0M128 185h0M72 216h0M119 157h0M115 259h0M170 134h0M180 186h0M169 335h0M104 143h0M235 121h0M118 219h0M171 215h0M240 70h0M292 128h0M117 179h0M114 195h0M137 225h0M125 143h0M275 101h0M91 286h0M190 307h0M243 101h0M136 238h0M127 244h0M136 271h0"/>
<path class="O" d="M384 446h0M493 121h0M368 443h0M534 298h0M314 225h0M324 317h0M335 422h0M346 294h0M222 428h0M531 156h0M318 240h0M231 384h0M374 414h0M396 307h0M426 309h0M367 367h0M498 111h0M227 411h0M513 157h0M498 323h0M497 270h0M341 185h0M303 190h0M274 423h0M419 354h0M352 336h0M450 311h0M295 386h0M302 194h0M369 292h0M351 309h0M406 272h0M514 271h0M287 200h0M358 286h0M387 271h0M324 424h0M303 150h0M336 198h0M478 328h0M157 352h0M349 274h0M353 388h0M399 287h0M351 348h0M360 194h0M300 292h0M500 208h0M336 291h0M522 170h0M465 260h0M296 340h0M248 339h0M374 430h0M355 304h0M285 319h0M345 283h0M479 343h0M461 366h0M523 264h0M309 220h0M477 237h0M205 340h0M342 382h0M475 92h0M471 316h0M561 213h0M201 248h0M483 360h0M542 309h0M249 422h0M307 430h0M387 444h0M347 436h0M280 447h0M384 404h0M297 403h0M386 220h0M281 317h0M463 343h0M246 217h0M462 251h0M541 302h0M229 228h0M490 247h0M361 300h0M490 272h0M537 248h0M275 406h0M559 245h0M394 269h0M253 213h0M297 299h0M514 164h0M299 239h0M523 112h0M327 448h0M318 342h0M447 346h0M354 323h0M501 363h0M507 177h0M389 290h0M281 300h0M303 392h0M539 161h0M469 251h0M398 371h0M378 419h0M264 167h0M341 377h0M353 314h0M348 460h0M424 266h0M225 380h0M506 208h0M283 363h0M515 298h0M534 295h0M556 216h0M540 285h0M377 373h0M536 207h0M527 327h0M487 332h0M412 408h0M521 229h0M413 370h0M269 241h0M495 326h0M298 431h0M310 324h0M394 232h0M282 329h0M444 329h0M528 228h0M481 269h0M449 298h0M412 316h0M540 216h0M344 358h0"/>
<path class="O" d="M501 139h0M464 265h0M256 159h0M272 364h0M522 301h0M538 292h0M229 315h0M312 335h0M334 458h0M440 263h0M426 402h0M259 433h0M291 292h0M527 262h0M422 412h0M355 389h0M231 438h0M326 226h0M427 272h0M284 364h0M320 460h0M468 306h0M316 162h0M513 192h0M265 365h0M542 291h0M527 203h0M374 417h0M358 216h0M416 422h0M279 197h0M426 357h0M422 319h0M244 260h0M272 170h0M549 311h0M491 321h0M473 281h0M331 357h0M383 430h0M434 402h0M460 299h0M301 373h0M409 386h0M301 423h0M465 302h0M302 232h0M467 358h0M555 181h0M484 223h0M353 362h0M424 417h0M525 200h0M347 202h0M487 114h0M500 97h0M437 326h0M450 80h0M494 357h0M368 276h0M324 428h0M423 294h0M230 426h0M440 360h0M427 403h0M247 417h0M323 372h0M242 180h0M543 144h0M400 308h0M530 179h0M397 421h0M536 206h0M461 306h0M490 362h0M438 78h0M475 111h0M261 336h0M564 229h0M277 408h0M302 414h0M442 279h0M338 366h0M254 463h0M340 369h0M382 314h0M437 394h0M358 295h0M262 382h0M434 381h0M301 278h0M395 283h0M255 310h0M418 405h0M305 140h0M378 338h0M393 359h0M454 85h0M376 299h0M493 353h0M472 79h0M460 84h0M348 206h0M538 304h0M309 307h0M355 459h0M399 416h0M322 412h0M386 228h0M355 292h0M344 421h0M473 278h0M427 58h0M395 226h0M494 225h0M424 275h0M330 392h0M294 172h0M363 416h0M348 401h0M473 343h0M246 420h0M451 382h0M375 235h0M351 345h0M381 263h0M238 114h0M279 238h0M363 344h0M379 394h0M314 448h0M301 319h0M304 432h0M301 368h0M265 375h0M247 391h0M551 217h0M552 262h0"/>
<path class="G" d="M203 97h0M134 258h0M132 133h0M221 100h0M161 169h0M108 309h0M353 212h0M184 147h0M89 159h0M240 81h0M96 217h0M75 269h0M183 324h0M212 194h0M121 134h0M163 170h0M124 209h0M122 227h0M100 122h0M109 176h0M124 257h0M94 281h0M130 221h0M173 264h0M216 117h0M153 161h0M238 102h0M141 222h0M150 144h0M125 276h0M113 111h0M145 124h0M101 157h0M82 263h0M121 180h0M198 127h0"/>
<path class="B" d="M199 150h0M226 322h0M208 79h0M147 339h0M128 126h0M244 319h0M230 146h0M250 356h0M146 266h0M223 318h0M275 142h0M231 125h0M151 159h0M124 281h0M323 447h0M279 151h0M265 263h0M236 126h0M214 311h0M194 368h0M282 436h0M147 227h0M251 371h0M146 241h0M222 426h0M273 308h0M182 354h0M514 340h0M292 424h0M127 284h0M211 142h0M176 293h0M164 164h0M187 237h0M258 257h0M280 458h0M204 334h0M186 225h0M239 270h0M231 311h0M180 224h0M179 338h0M283 329h0M240 139h0M249 423h0M193 217h0M244 266h0M139 288h0M164 200h0M205 237h0M140 276h0M253 116h0M184 245h0M273 195h0M359 244h0M215 236h0M242 90h0M257 462h0M183 405h0M279 241h0M234 327h0M243 313h0M202 310h0M132 270h0M120 316h0M283 301h0M200 165h0M181 149h0M222 314h0M238 351h0M250 329h0M263 188h0M172 328h0M189 165h0M268 95h0M303 171h0"/>
<path class="O" d="M297 460h0M179 146h0M221 365h0M512 271h0M406 357h0M222 324h0M327 432h0M328 452h0M445 79h0M556 172h0M302 444h0M304 286h0M355 412h0M521 246h0M295 371h0M320 453h0M541 200h0M554 205h0M510 322h0M498 328h0M352 425h0M390 229h0M363 387h0M418 359h0M537 185h0M228 370h0M436 266h0M314 408h0M501 101h0M364 398h0M373 450h0M300 309h0M507 140h0M333 186h0M535 265h0M460 258h0M480 250h0M482 263h0M318 444h0M285 209h0M386 354h0M369 430h0M270 182h0M283 437h0M308 406h0M298 403h0M348 395h0M420 372h0M442 299h0M441 316h0M428 313h0M277 373h0M560 218h0M447 259h0M360 305h0M419 255h0M429 269h0M515 256h0M436 270h0M251 438h0M333 448h0M246 406h0M558 264h0M496 139h0M232 406h0M358 358h0M561 197h0M355 348h0M282 460h0M365 342h0M325 397h0M424 361h0M498 271h0M357 441h0M522 306h0M237 391h0M352 280h0M437 287h0M364 372h0M538 305h0M331 319h0M371 396h0M382 389h0M277 419h0M391 351h0M239 294h0M527 331h0M438 361h0M531 316h0M415 389h0M448 301h0M271 395h0M441 375h0M350 325h0M460 351h0M528 251h0M270 405h0M455 336h0M393 310h0M352 295h0M231 416h0M196 326h0M433 264h0M347 425h0M484 336h0M261 241h0M334 221h0M442 390h0M433 341h0M224 352h0M428 390h0M326 230h0M507 328h0M410 392h0M364 412h0M518 146h0M394 265h0M457 83h0M305 384h0M441 291h0M376 445h0M319 376h0M433 61h0M313 292h0"/>
<path class="G" d="M104 252h0M151 134h0M200 142h0M152 200h0M257 99h0M153 132h0M98 129h0M143 114h0M122 266h0M192 124h0M99 217h0M212 275h0M137 170h0M100 274h0M101 292h0M124 145h0M186 125h0M102 198h0M89 277h0M192 96h0M129 148h0M118 192h0M146 190h0M139 201h0M147 244h0M202 226h0M108 211h0M106 126h0M136 236h0M239 146h0M82 197h0M142 251h0M204 239h0M132 265h0M145 248h0M112 168h0M128 183h0M334 189h0M150 219h0M78 257h0M165 233h0M148 138h0M206 112h0M118 173h0"/>
<path class="B" d="M182 388h0M163 368h0M273 161h0M484 356h0M209 197h0M273 122h0M245 258h0M217 342h0M252 145h0M94 279h0M214 120h0M354 190h0M521 201h0M210 329h0M194 272h0M177 255h0M249 102h0M182 285h0M217 229h0M269 180h0M211 269h0M159 364h0M253 234h0M258 344h0M228 317h0M250 442h0M189 343h0M173 218h0M244 283h0M352 211h0M219 259h0M211 212h0M297 172h0M293 439h0M286 167h0M169 357h0M195 233h0M85 227h0M96 223h0M180 308h0M175 303h0M144 286h0M272 288h0M193 265h0M302 166h0M241 285h0M268 394h0M149 197h0M235 212h0M207 212h0M216 370h0M295 166h0M221 162h0M180 127h0M209 234h0M311 163h0M194 386h0M170 312h0M189 257h0M128 339h0M184 331h0M205 176h0M90 293h0M312 182h0M269 297h0M235 438h0M319 155h0M188 393h0M311 229h0M238 234h0M207 153h0M322 225h0M160 376h0M263 333h0M499 304h0M180 388h0M101 211h0M258 82h0M264 305h0M291 329h0M161 257h0M198 272h0"/>
<path class="B" d="M232 202h0M210 312h0M211 238h0M184 207h0M256 392h0M266 345h0M164 221h0M216 94h0M297 211h0M284 111h0M167 348h0M239 386h0M99 208h0M194 357h0M234 451h0M230 108h0M215 197h0M193 222h0M166 335h0M417 372h0M229 340h0M165 120h0M196 321h0M242 223h0M335 191h0M251 127h0M204 374h0M175 296h0M243 169h0M174 358h0M170 153h0M265 119h0M139 243h0M273 163h0M178 327h0M169 260h0M349 244h0M311 157h0M312 207h0M143 224h0M249 452h0M206 219h0M296 339h0M278 221h0M229 407h0M266 106h0M342 371h0M190 381h0M239 144h0M272 217h0M152 196h0M214 149h0M202 336h0M244 285h0M347 214h0M243 346h0M95 200h0M340 392h0M238 158h0M195 95h0M181 204h0M216 362h0M171 332h0M225 238h0M200 139h0M257 159h0M280 110h0"/>
<path class="O" d="M353 457h0M404 265h0M402 418h0M394 263h0M205 388h0M361 318h0M414 379h0M290 303h0M484 372h0M507 251h0M387 294h0M310 402h0M541 160h0M472 78h0M177 222h0M496 317h0M303 339h0M383 309h0M546 207h0M327 212h0M385 356h0M381 332h0M544 151h0M342 377h0M549 229h0M357 331h0M511 272h0M391 309h0M253 437h0M169 377h0M410 290h0M511 318h0M379 365h0M255 409h0M509 330h0M547 261h0M282 106h0M501 334h0M305 453h0M272 342h0M351 348h0M403 358h0M476 275h0M511 234h0M233 406h0M422 245h0M302 441h0M197 137h0M503 188h0M440 276h0M334 221h0M168 249h0M397 369h0M367 351h0M290 164h0M472 257h0M563 213h0M359 259h0M464 251h0M539 241h0M295 448h0M534 315h0M520 169h0M485 340h0M437 399h0M425 405h0M314 413h0M298 321h0M487 245h0M437 387h0M331 463h0M319 353h0M405 316h0M433 338h0M324 183h0M391 273h0M382 428h0M353 438h0M234 143h0M301 154h0M442 265h0M265 418h0M328 249h0M250 339h0M515 279h0M463 282h0M380 399h0M518 241h0M492 346h0M462 302h0M415 275h0M308 224h0M460 83h0M560 171h0M527 152h0M464 285h0M491 290h0M474 279h0M233 212h0M389 296h0M359 241h0M409 390h0M306 371h0M485 229h0M437 402h0M526 126h0M388 330h0M298 321h0M412 374h0M470 104h0M285 463h0M502 224h0M523 156h0M256 438h0M433 361h0M558 183h0M522 333h0M393 344h0M399 362h0M211 213h0M504 104h0M464 99h0M309 443h0M251 77h0M366 436h0M504 216h0M375 365h0M401 389h0M481 95h0M312 308h0M484 351h0M378 299h0M507 189h0M339 376h0M345 211h0M360 207h0M503 141h0"/>
<path class="G" d="M248 82h0M108 258h0M199 162h0M197 97h0M172 151h0M145 110h0M110 253h0M162 156h0M154 243h0M134 137h0M181 111h0M96 276h0M127 286h0M127 130h0M227 85h0M257 89h0M123 117h0M225 102h0M105 145h0M123 192h0M92 268h0M82 169h0M151 242h0M103 168h0M140 284h0M81 276h0M146 112h0M235 105h0M117 132h0M131 188h0M157 208h0M323 201h0M90 255h0M128 131h0M180 274h0M125 274h0M179 187h0M215 115h0M109 242h0M116 225h0M183 269h0M149 145h0M185 265h0M107 182h0M214 166h0M174 157h0"/>
<path class="O" d="M197 347h0M457 301h0M302 374h0M417 411h0M526 156h0M488 255h0M548 231h0M200 349h0M240 243h0M336 422h0M475 320h0M204 419h0M268 309h0M238 436h0M465 310h0M542 293h0M462 75h0M493 119h0M200 433h0M274 318h0M454 297h0M262 429h0M526 226h0M389 336h0M284 355h0M500 241h0M270 463h0M435 298h0M250 264h0M421 334h0M193 379h0M513 266h0M250 423h0M463 249h0M439 302h0M482 284h0M364 283h0M236 166h0M351 241h0M511 224h0M244 233h0M520 269h0M499 95h0M493 197h0M406 401h0M490 367h0M182 211h0M435 74h0M292 423h0M363 266h0M308 462h0M445 270h0M353 295h0M264 286h0M357 191h0M525 181h0M237 364h0M433 375h0M245 285h0M320 325h0M350 312h0M272 463h0M209 404h0M541 215h0M295 161h0M388 297h0M514 188h0M360 445h0M471 98h0M278 252h0M381 390h0M491 271h0M239 445h0M534 255h0M423 255h0M282 389h0M354 378h0M321 441h0M375 287h0M349 355h0M304 223h0M286 192h0M530 256h0M514 205h0M564 213h0M337 311h0M274 308h0M305 393h0M490 117h0M516 209h0M365 391h0M291 209h0M443 260h0M272 210h0M395 244h0M427 267h0M349 379h0M423 346h0M510 220h0M389 356h0M271 144h0M294 342h0M216 419h0M359 441h0M317 283h0M417 285h0M256 175h0M374 313h0M365 406h0M259 419h0M499 308h0M539 265h0M280 364h0M483 274h0M367 353h0M507 295h0M416 281h0M286 439h0M343 337h0M551 257h0M385 296h0M449 345h0M477 282h0M241 450h0M378 274h0M282 165h0M337 372h0M503 219h0M444 399h0M483 250h0"/>
<path class="B" d="M238 345h0M316 268h0M226 295h0M256 162h0M245 270h0M157 366h0M118 277h0M209 276h0M263 341h0M230 310h0M218 246h0M196 163h0M223 244h0M301 164h0M287 231h0M202 337h0M214 286h0M329 311h0M172 262h0M250 139h0M286 179h0M285 341h0M268 343h0M210 386h0M229 113h0M179 302h0M257 174h0M218 142h0M251 125h0M132 343h0M236 271h0M169 335h0M219 306h0M279 289h0M261 105h0M183 310h0M165 169h0M142 339h0M191 407h0M155 331h0M222 321h0M321 297h0M177 267h0M231 237h0M161 128h0M188 384h0M202 115h0M306 416h0M272 119h0M262 179h0M176 264h0M156 293h0M238 133h0M171 212h0M292 211h0M170 324h0M158 181h0M231 280h0M287 164h0M195 420h0M119 304h0M219 412h0M198 242h0M236 363h0M181 337h0M324 183h0M144 345h0M166 357h0M264 284h0M185 309h0M257 374h0M222 297h0M291 399h0"/>
<path class="G" d="M134 233h0M248 88h0M99 232h0M150 366h0M99 148h0M162 164h0M188 148h0M227 128h0M153 169h0M101 161h0M160 132h0M139 268h0M101 182h0M203 222h0M119 149h0M92 298h0M114 198h0M143 185h0M181 222h0M148 155h0M93 190h0M185 177h0M214 77h0M100 159h0M232 109h0M161 145h0M189 244h0M264 101h0M122 234h0M146 287h0M313 165h0M200 112h0M155 199h0M80 275h0M163 208h0M98 259h0M110 112h0M191 132h0M166 195h0M128 252h0M123 132h0M217 75h0M114 254h0M211 134h0M123 234h0M266 143h0M92 241h0"/>
<path class="O" d="M305 239h0M414 361h0M510 123h0M496 307h0M410 417h0M326 419h0M355 375h0M188 262h0M207 374h0M437 274h0M452 87h0M325 358h0"/>
<path class="G" d="M92 292h0M123 225h0M202 186h0M172 281h0M117 109h0"/>
<path class="B" d="M240 414h0M153 231h0M168 359h0M230 84h0M252 151h0"/>
</g>
<g clip-path="url(#cTR)">
<path class="G" d="M887 184h0M758 95h0M784 101h0M841 82h0M913 169h0M754 102h0M811 97h0M838 110h0M813 109h0M787 146h0M907 116h0M744 107h0M743 103h0M766 136h0M960 410h0M749 114h0M848 154h0M893 145h0M917 148h0M863 139h0M805 103h0M824 162h0M786 122h0M907 110h0M757 109h0M774 173h0M781 87h0M843 81h0M856 106h0"/>
<path class="B" d="M807 100h0M781 278h0M753 221h0M768 131h0M903 127h0M798 189h0M892 226h0M860 227h0M843 224h0M897 195h0M773 283h0M758 126h0M715 114h0M839 278h0M862 194h0M811 235h0M877 162h0M874 180h0M742 227h0M734 199h0M896 370h0M833 198h0M824 247h0M809 94h0M823 270h0M702 164h0M755 287h0M1023 389h0M825 277h0M787 227h0M736 178h0M763 250h0M735 225h0M802 277h0M777 313h0M713 208h0M854 293h0M889 186h0M927 261h0M759 307h0M774 238h0M842 288h0M861 225h0M787 193h0M867 133h0M764 223h0M730 194h0M890 187h0M727 219h0M760 247h0M752 162h0M930 246h0M817 255h0M798 229h0M742 185h0M874 353h0M779 137h0M738 229h0M799 123h0M748 208h0M804 252h0M734 227h0M754 260h0M732 204h0M828 293h0M918 156h0M762 265h0"/>
<path class="O" d="M1022 110h0M816 374h0M1137 302h0M1050 354h0M889 404h0M1035 370h0M1053 367h0M1120 368h0M1097 358h0M854 233h0M902 407h0M791 317h0M1093 386h0M1026 379h0M906 378h0M1029 170h0M900 443h0M803 365h0M1124 249h0M1107 267h0M1011 444h0M940 386h0M888 347h0M847 420h0M873 297h0M1023 436h0M1106 269h0M1160 227h0M852 340h0M824 393h0M1049 393h0M838 409h0M889 329h0M1127 317h0M954 380h0M1057 78h0M1005 371h0M1012 404h0M885 308h0M1031 93h0M1050 395h0M977 421h0M787 361h0M1102 302h0M921 202h0M799 389h0M818 302h0M1024 380h0M1065 376h0M915 237h0M818 203h0M1152 311h0M881 345h0M927 192h0M901 443h0M1032 411h0M910 377h0M1131 341h0M790 290h0M774 203h0M1088 202h0M986 400h0M829 254h0M894 372h0M1024 183h0M855 397h0M1116 295h0M1128 257h0M985 419h0M803 181h0M1123 284h0M935 429h0M1125 364h0M874 395h0M1115 206h0M1036 413h0M800 351h0M747 219h0M831 381h0M825 390h0M1112 290h0M883 356h0M855 405h0M906 386h0M801 329h0M842 269h0M1102 248h0M895 449h0M800 356h0M1150 343h0M847 294h0M925 196h0M867 375h0M1044 191h0M806 188h0M962 397h0M850 184h0M805 377h0M1088 229h0M1087 185h0M1121 363h0M845 305h0M936 375h0M864 340h0M842 406h0M971 419h0M1005 364h0M899 458h0M1036 429h0M1028 129h0M865 352h0M1101 399h0M1020 386h0M1050 408h0M825 275h0M1177 244h0M1114 250h0M921 420h0M1137 350h0M1035 153h0M1113 226h0M1106 293h0M1094 67h0M754 286h0M1095 237h0M980 428h0M1091 227h0M939 413h0M1108 317h0M1100 227h0M821 373h0M986 386h0M808 397h0M912 382h0M921 409h0M784 326h0M931 299h0M868 236h0M808 362h0M977 449h0M1086 314h0M765 199h0M840 243h0M918 455h0M744 272h0M1146 320h0M1036 153h0M1074 67h0M1085 381h0M897 194h0M1033 143h0M1109 239h0M799 258h0M1127 334h0"/>
<path class="G" d="M888 105h0M732 121h0M850 115h0M804 177h0M907 113h0M706 127h0M918 158h0M749 103h0M835 168h0M691 119h0M740 140h0M850 114h0M914 187h0M935 161h0M837 101h0M825 106h0M904 171h0M844 107h0M843 98h0M795 103h0M798 112h0M741 104h0M876 119h0M768 118h0M893 112h0M781 90h0M889 144h0M928 181h0M878 86h0M823 139h0"/>
<path class="O" d="M1126 213h0M1020 377h0M1087 320h0M802 313h0M1145 317h0M1113 234h0M741 226h0M1058 348h0M1148 255h0M892 433h0M830 342h0M853 390h0M1055 380h0M800 358h0M864 384h0M1168 251h0M801 306h0M1141 288h0M1051 81h0M879 315h0M1071 383h0M889 308h0M927 253h0M1019 120h0M1163 246h0M919 396h0M794 217h0M875 313h0M956 430h0M1125 359h0M767 268h0M1166 250h0M1130 330h0M1017 360h0M1067 166h0M834 277h0M810 368h0M1019 133h0M1109 253h0M872 281h0M898 419h0M874 358h0M1077 335h0M892 409h0M993 389h0M864 274h0M967 372h0M860 267h0M1023 369h0M1047 72h0M914 395h0M976 405h0M789 354h0M1109 350h0M824 132h0M1141 274h0M769 332h0M850 400h0M1032 121h0M1048 199h0M977 429h0M1093 336h0M1075 333h0M1030 419h0M1134 306h0M1094 316h0M809 387h0M913 422h0M893 184h0M885 417h0M1103 392h0M1039 394h0M892 341h0M1024 92h0M735 236h0M821 357h0M1069 68h0M894 374h0M1043 390h0M986 418h0M906 376h0M832 330h0M1009 387h0M793 310h0M805 379h0M1164 255h0M1084 223h0M1124 315h0M811 317h0M1026 408h0M1054 63h0M1015 91h0M1045 179h0M994 372h0M890 328h0M1165 231h0M1027 162h0M992 388h0M928 388h0M1100 267h0M903 428h0M1147 220h0M899 425h0M877 348h0M852 277h0M893 352h0M1042 416h0M763 329h0M1116 384h0M1154 273h0M1046 400h0M935 386h0M1008 400h0M1136 234h0M884 379h0M893 426h0M1124 267h0M1114 365h0M1122 253h0M987 418h0M969 429h0M771 339h0M1110 216h0M1038 78h0M1101 341h0M868 257h0M1157 292h0M1114 234h0M1132 278h0M1018 109h0M1030 434h0M1132 332h0M1013 108h0M1034 182h0M1097 61h0M1036 420h0M795 299h0"/>
<path class="B" d="M760 143h0M757 260h0M863 215h0M1012 121h0M746 250h0M782 324h0M772 227h0M763 168h0M879 290h0M723 176h0M777 188h0M903 264h0M817 226h0M784 244h0M847 292h0M870 354h0M889 244h0M768 115h0M925 316h0M714 159h0M806 367h0M802 278h0M873 174h0M770 243h0M864 315h0M767 138h0M871 144h0M1007 364h0M784 182h0M798 327h0M910 274h0M815 203h0M776 205h0M771 309h0M863 204h0M798 207h0M916 126h0M761 147h0M849 356h0M715 152h0M887 136h0M839 262h0M724 232h0M712 165h0M845 83h0M906 247h0M774 163h0M746 183h0M867 434h0M708 231h0M814 162h0M848 371h0M817 307h0M736 200h0M856 283h0M932 220h0M761 281h0M858 237h0M931 213h0M879 402h0M896 195h0M720 103h0M854 186h0M817 220h0M782 139h0M864 198h0M811 193h0M968 386h0M823 255h0M1171 284h0M815 171h0M813 352h0M850 208h0M764 199h0M749 286h0M726 165h0M813 339h0M783 285h0M804 351h0M691 179h0M894 214h0M891 265h0M862 187h0"/>
<path class="B" d="M883 272h0M785 264h0M831 393h0M858 86h0M784 256h0M930 167h0M687 137h0M844 146h0M847 155h0M857 248h0M923 217h0M740 242h0M867 224h0M726 238h0M782 115h0M746 187h0M828 190h0M793 147h0M823 203h0M923 301h0M779 271h0M688 138h0M730 126h0M701 183h0M914 181h0M789 242h0M857 205h0M846 393h0M905 198h0M742 262h0M758 266h0M858 265h0M877 202h0M872 200h0M759 125h0M761 221h0M839 309h0M903 220h0M722 136h0M932 204h0M766 292h0M753 165h0M752 155h0M847 375h0M914 409h0M912 210h0M759 189h0M888 248h0M861 237h0M727 125h0M858 241h0M779 223h0M806 139h0M796 240h0M763 311h0M829 98h0M742 193h0M914 231h0M724 175h0M772 176h0M729 234h0M888 161h0M801 238h0M794 260h0M775 305h0M891 349h0M800 304h0M803 319h0M893 272h0"/>
<path class="G" d="M852 161h0M809 175h0M878 97h0M887 122h0M866 100h0M749 94h0M879 108h0M741 100h0M910 143h0M834 135h0M918 115h0M918 118h0M904 140h0M837 107h0M823 160h0M911 144h0M740 103h0M892 94h0M912 117h0M916 116h0M861 162h0M875 99h0M905 127h0M906 152h0M845 141h0M818 106h0M875 79h0M861 151h0M777 133h0M864 83h0M871 140h0"/>
<path class="O" d="M843 325h0M892 437h0M854 354h0M1036 418h0M761 312h0M928 166h0M1065 196h0M1119 196h0M1140 276h0M828 382h0M946 458h0M1059 71h0M999 404h0M853 256h0M1060 159h0M1134 219h0M785 268h0M1094 203h0M1029 405h0M1021 398h0M975 427h0M811 325h0M947 443h0M847 340h0M1115 365h0M1113 336h0M1041 182h0M909 327h0M1028 165h0M1031 156h0M824 310h0M1011 426h0M933 248h0M754 240h0M716 202h0M825 345h0M1021 93h0M969 436h0M926 296h0M928 420h0M844 326h0M1125 279h0M905 252h0M962 448h0M880 408h0M1027 419h0M1004 103h0M818 403h0M906 420h0M1099 319h0M1119 194h0M953 449h0M924 303h0M866 336h0M1022 89h0M1044 157h0M1129 287h0M836 324h0M852 279h0M837 308h0M948 416h0M1147 301h0M1024 162h0M794 362h0M1029 95h0M1020 153h0M1084 312h0M1111 316h0M769 260h0M923 426h0M806 415h0M956 405h0M1125 351h0M820 335h0M1101 393h0M1149 279h0M811 332h0M1105 379h0M998 422h0M1140 226h0M1156 258h0M1095 296h0M1122 370h0M976 443h0M1154 252h0M1156 292h0M804 355h0M1135 283h0M906 247h0M966 443h0M1090 229h0M827 353h0M816 326h0M1057 388h0M867 383h0M1040 364h0M1024 410h0M1019 360h0M1135 298h0M857 290h0M910 452h0M815 355h0M813 400h0M786 219h0M927 379h0M1073 356h0M891 347h0M913 297h0M921 296h0M1061 343h0M817 416h0M755 297h0M810 328h0M980 424h0M810 413h0M903 343h0M821 284h0M1071 345h0M842 386h0M850 411h0M1069 165h0M1056 77h0M1058 198h0M1064 370h0M1049 163h0M1136 262h0M1117 334h0M1087 207h0M1043 154h0M770 348h0M917 423h0M1033 401h0M1109 189h0M938 386h0M852 247h0M1062 70h0M839 325h0M938 428h0M1110 210h0M1042 156h0M1054 407h0M1121 227h0M966 409h0M1153 318h0M1149 316h0M926 258h0M1075 372h0M1044 380h0M949 445h0M804 251h0"/>
<path class="O" d="M851 379h0M930 127h0M1121 252h0M929 443h0M877 421h0M920 381h0M929 452h0M1113 55h0M864 406h0M833 413h0M814 318h0M1030 120h0M804 196h0M1020 430h0M1076 391h0M867 359h0M1127 235h0M1085 362h0M1096 233h0M896 452h0M895 260h0M1130 280h0M998 450h0M1000 449h0M1090 379h0M1136 332h0M1107 272h0M1049 69h0M1019 81h0M861 292h0M841 346h0M772 275h0M811 355h0M1119 272h0M1134 245h0M984 444h0M907 465h0M991 375h0M1051 181h0M1065 169h0M888 320h0M1025 106h0M799 331h0M965 433h0M1132 375h0M817 396h0M1152 221h0M992 400h0M797 335h0M891 385h0M766 337h0M1043 182h0M1130 377h0M1111 259h0M1072 388h0M1085 373h0M806 351h0M1125 339h0M1050 419h0M805 371h0M934 401h0M880 250h0M1107 372h0M1053 65h0M826 369h0M997 434h0M1152 295h0M1100 226h0M1018 139h0M1069 351h0M1098 342h0M833 366h0M832 357h0M890 333h0M836 384h0M1035 144h0M889 383h0M1073 65h0M1001 380h0M1152 211h0M823 349h0M1133 261h0M1015 368h0M907 425h0M870 412h0M789 259h0M1055 181h0M1076 342h0M1054 166h0M1144 237h0M1042 392h0M931 436h0M1047 157h0M1041 380h0M831 382h0M1162 279h0M901 404h0M926 272h0M1104 57h0M1080 378h0M1130 226h0M910 280h0M1112 393h0M1117 357h0M1152 318h0M855 301h0M1075 333h0M905 432h0M988 380h0M950 395h0M1142 225h0M899 408h0M1074 69h0M1093 312h0M1142 248h0M1047 187h0M1036 172h0M1041 381h0M799 262h0M963 434h0M825 377h0M872 408h0M921 405h0M1024 93h0M1011 110h0M771 176h0M1129 248h0M1017 120h0M779 297h0M1044 188h0M777 354h0M1071 179h0M1120 360h0M787 228h0M1100 290h0M1152 268h0M774 280h0M795 321h0M1103 312h0M1023 162h0M1100 238h0M1134 369h0M963 384h0M808 399h0"/>
<path class="B" d="M852 163h0M898 270h0M720 240h0M746 203h0M815 204h0M751 293h0M791 208h0M838 389h0M745 137h0M793 155h0M742 141h0M784 342h0M837 222h0M930 224h0M696 182h0M834 227h0M832 229h0M781 297h0M994 388h0M900 230h0M916 419h0M844 158h0M743 142h0M808 266h0M821 226h0M882 209h0M813 188h0M824 232h0M750 137h0M764 189h0M752 99h0M880 203h0M836 305h0M905 181h0M731 120h0M868 390h0M809 137h0M778 242h0M715 232h0M972 455h0M817 265h0M740 249h0M766 165h0M799 280h0M850 242h0M832 321h0M936 188h0M732 140h0M798 229h0M800 228h0M746 259h0M772 196h0M828 268h0M791 191h0M763 158h0M717 142h0M782 133h0M810 221h0M848 223h0M733 124h0M727 180h0M707 125h0M919 223h0M880 194h0M784 134h0M907 219h0M834 184h0M718 205h0M863 298h0M835 168h0M923 319h0M800 181h0M729 202h0"/>
<path class="G" d="M733 168h0M734 136h0M778 117h0M860 80h0M907 152h0M882 88h0M750 158h0M916 217h0M750 104h0M733 102h0M929 132h0M736 151h0M710 160h0M747 110h0M770 110h0M688 145h0M846 130h0M782 132h0M782 118h0M877 141h0M848 94h0M924 165h0M823 117h0M878 170h0M810 139h0M911 219h0M718 133h0M879 145h0M851 246h0M862 101h0M841 99h0M784 115h0M833 246h0"/>
<path class="O" d="M1020 179h0M892 264h0M1118 204h0M1140 237h0M1033 129h0M1076 383h0M844 344h0M1099 379h0M1044 362h0M1021 439h0M865 432h0M1051 168h0M1161 248h0M1018 120h0M996 389h0M1042 407h0M1008 390h0M999 366h0M764 111h0M1001 416h0M781 358h0M1149 349h0M835 368h0M805 259h0M1093 225h0M1054 179h0M765 309h0M1113 254h0M1000 385h0M1040 80h0M1020 173h0M1164 245h0M1034 185h0M1106 380h0M1017 141h0M1066 349h0M1005 91h0M825 252h0M1096 294h0M923 307h0M838 340h0M1021 447h0M1029 400h0M1086 187h0M932 285h0M904 218h0M1095 295h0M898 357h0M1042 355h0M1078 197h0M1118 214h0M1151 265h0M1033 402h0M1034 435h0M1074 349h0M813 261h0M997 378h0M992 409h0M831 389h0M1027 127h0M996 119h0M1058 197h0M1028 116h0M1090 226h0M944 446h0M1025 85h0M839 383h0M977 412h0M1110 198h0M1153 284h0M885 249h0M806 316h0M1063 73h0M995 444h0M1075 218h0M782 340h0M1010 379h0M882 283h0M1039 393h0M801 198h0M844 346h0M1021 375h0M1026 143h0M1080 403h0M1048 75h0M837 360h0M930 286h0M1127 316h0M1095 205h0M1019 88h0M796 336h0M885 379h0M1039 409h0M1071 346h0M1064 206h0M1035 77h0M773 214h0M1121 372h0M898 410h0M810 414h0M825 156h0M892 264h0M1102 300h0M1145 277h0M921 235h0M959 377h0M1022 84h0M1165 235h0M1027 424h0M963 458h0M1028 75h0M1127 281h0M941 439h0M1052 389h0M831 195h0M1033 108h0M826 359h0M855 289h0M1109 183h0M723 199h0M884 432h0M979 424h0M830 338h0M799 286h0M772 357h0M981 436h0M765 282h0M878 428h0M1114 219h0M757 307h0M828 378h0M981 377h0M752 161h0"/>
<path class="G" d="M863 107h0M805 115h0M718 121h0M804 116h0M784 110h0M840 82h0M902 155h0M899 208h0M848 89h0M891 129h0M877 158h0M898 122h0M859 145h0M824 135h0M700 176h0M874 89h0M711 114h0M780 100h0M770 165h0M797 109h0M833 120h0M885 114h0M914 137h0M863 120h0M733 97h0M798 95h0M846 186h0M798 91h0M814 118h0M904 159h0M772 117h0M747 136h0M796 89h0M905 113h0"/>
<path class="B" d="M752 243h0M911 227h0M811 272h0M897 252h0M710 176h0M800 263h0M767 265h0M716 196h0M809 263h0M752 145h0M919 266h0M837 322h0M920 242h0M804 273h0M728 193h0M891 399h0M837 270h0M875 249h0M727 185h0M921 232h0M754 211h0M888 165h0M771 260h0M844 155h0M834 338h0M748 153h0M755 278h0M865 191h0M919 273h0M1044 426h0M813 287h0M877 235h0M831 233h0M821 290h0M707 128h0M791 226h0M715 197h0M842 259h0M781 231h0M900 398h0M776 259h0M808 160h0M716 166h0M899 304h0M857 281h0M837 224h0M895 237h0M797 277h0M800 207h0M808 120h0M833 123h0M775 229h0M780 356h0M702 169h0M806 213h0M909 276h0M814 267h0M873 193h0M769 232h0M828 173h0M791 223h0M875 250h0M916 245h0M819 186h0M766 129h0M813 184h0M824 384h0M820 202h0M723 137h0M909 139h0M718 181h0M902 394h0M824 247h0M856 191h0M780 144h0M889 414h0M807 238h0M921 259h0M889 333h0M927 197h0M922 320h0M775 336h0M794 315h0"/>
<path class="G" d="M887 99h0M864 123h0M765 172h0M690 143h0M932 218h0M836 154h0M841 209h0M865 89h0M806 98h0M798 214h0M818 121h0M880 177h0M922 137h0M750 91h0M867 156h0M837 97h0M794 127h0M857 125h0M702 139h0M848 148h0M849 106h0M839 91h0M916 117h0M876 124h0M799 148h0M908 146h0M854 86h0M864 116h0M874 97h0M844 104h0M891 115h0M862 99h0M751 150h0M739 151h0M864 132h0M776 136h0M853 105h0M874 85h0M892 267h0M817 134h0M873 102h0"/>
<path class="O" d="M1050 158h0M984 409h0M918 118h0M1135 214h0M750 191h0M1118 366h0M1078 323h0M862 403h0M1154 258h0M1031 380h0M827 329h0M792 182h0M957 437h0M1067 340h0M1114 228h0M835 315h0M1131 240h0M1070 59h0M840 240h0M1121 378h0M1065 186h0M1085 191h0M1004 372h0M774 297h0M1109 291h0M874 373h0M1092 58h0M1054 80h0M1089 304h0M913 393h0M854 342h0M1038 135h0M809 358h0M977 438h0M798 306h0M867 373h0M816 273h0M1023 109h0M1108 267h0M845 410h0M1111 264h0M1108 270h0M763 199h0M1056 327h0M1095 65h0M1133 227h0M1063 67h0M822 323h0M1066 348h0M1009 392h0M1039 433h0M734 192h0M982 394h0M764 318h0M878 417h0M868 377h0M804 308h0M1097 203h0M1156 311h0M803 289h0M1061 367h0M831 360h0M1121 278h0M956 417h0M811 389h0M866 307h0M808 313h0M1007 382h0M1045 172h0M1076 382h0M901 422h0M1004 115h0M1054 382h0M875 412h0M1144 220h0M1104 222h0M952 438h0M1019 162h0M898 348h0M808 293h0M1059 396h0M908 256h0M1044 428h0M986 368h0M969 441h0M1077 401h0M1142 292h0M1137 331h0M879 421h0M1100 374h0M879 389h0M1082 65h0M817 404h0M805 403h0M890 338h0M1034 414h0M850 354h0M846 382h0M1071 348h0M806 250h0M1062 171h0M1173 256h0M1151 233h0M980 364h0M1130 289h0M1017 418h0M761 283h0M1094 338h0M1076 62h0M1112 59h0M791 355h0M1139 282h0M1105 328h0M1130 377h0M1103 183h0M1117 342h0M1163 281h0M981 428h0M1078 181h0M921 419h0M854 423h0M799 386h0M898 325h0M1075 352h0M898 424h0M1155 297h0M865 394h0M920 163h0M870 406h0M979 456h0"/>
<path class="B" d="M746 105h0M876 309h0M885 267h0M816 333h0M723 208h0M894 124h0M795 163h0M743 177h0M846 290h0M790 319h0M755 249h0M714 153h0M764 168h0M786 287h0M820 291h0M807 175h0M718 165h0M904 296h0M781 320h0M781 181h0M870 219h0M905 190h0M880 261h0M825 302h0M770 118h0M730 228h0M688 171h0M745 272h0M913 400h0M726 225h0M784 232h0M793 357h0M883 111h0M734 255h0M849 362h0M739 256h0M790 100h0M796 210h0M718 155h0M882 176h0M927 289h0M769 141h0M732 230h0M772 176h0M735 143h0M703 147h0M776 339h0M756 143h0M910 258h0M818 212h0M777 139h0M763 224h0M754 196h0M678 135h0M692 174h0M803 294h0M864 252h0M804 170h0M834 292h0M806 268h0M775 117h0M716 162h0M885 236h0M784 348h0M892 203h0M830 183h0M787 118h0M900 178h0M806 290h0M918 205h0M918 237h0M860 250h0M700 131h0M757 142h0M813 233h0M800 399h0M923 165h0M859 189h0M806 214h0"/>
<path class="O" d="M869 409h0M996 382h0M1048 386h0M857 331h0M815 376h0M910 320h0M892 395h0M882 395h0M828 384h0M835 267h0M834 311h0M915 427h0M1022 144h0M962 448h0M1040 185h0M1074 176h0M1066 162h0M1105 243h0M850 401h0M793 155h0M1050 170h0M833 306h0M889 456h0M878 136h0M856 378h0M1069 351h0M775 289h0M1030 387h0M1119 318h0M1153 281h0M780 235h0M1136 229h0M1091 315h0M1017 428h0M829 318h0M1082 193h0M847 348h0M1078 171h0M837 398h0M1122 362h0M881 356h0M1121 222h0M1090 395h0M891 371h0M1020 423h0M1073 202h0M1040 149h0M881 304h0M996 435h0M1063 376h0M1136 211h0M1011 139h0M980 378h0M1077 335h0M1092 217h0M837 311h0M1028 138h0M973 452h0M913 201h0M1161 285h0M880 356h0M888 456h0M1045 68h0M862 347h0M810 415h0M1097 299h0M1150 262h0M1083 65h0M1123 301h0M1035 165h0M773 314h0M922 296h0M1106 209h0M924 124h0M821 398h0M1027 168h0M812 338h0M923 268h0M1019 120h0M1001 371h0M780 251h0M1099 231h0M899 160h0M820 265h0M814 369h0M947 412h0M886 251h0M1133 305h0M801 386h0M772 336h0M1085 70h0M904 343h0M1003 115h0M949 452h0M845 316h0M1109 225h0M917 409h0M881 174h0M1111 342h0M851 410h0M798 370h0M1057 410h0M867 373h0M1036 76h0M818 373h0M786 362h0M1020 421h0M1053 74h0M810 353h0M1099 175h0M1132 326h0M1115 190h0M1114 59h0M1052 72h0M990 413h0M795 237h0M1060 159h0M1153 325h0M789 323h0M781 318h0M903 361h0M1016 161h0M848 300h0M1060 400h0M869 426h0M1085 214h0M1053 386h0M817 406h0M808 279h0M986 412h0"/>
<path class="B" d="M735 142h0M797 236h0M856 148h0M884 258h0M933 195h0M895 192h0M715 175h0M909 150h0M812 232h0M749 257h0M830 303h0M890 430h0M703 158h0M692 143h0M732 150h0M831 237h0M704 159h0M762 285h0M803 238h0M765 202h0M863 242h0M724 184h0M743 180h0M858 303h0M844 304h0M781 225h0M732 110h0M716 234h0M685 134h0M886 145h0M913 252h0M968 437h0M913 186h0M798 231h0M777 195h0M744 166h0M890 451h0M886 202h0M810 188h0M792 135h0M767 226h0M839 269h0M803 215h0M805 199h0M750 263h0M836 178h0M816 178h0M770 242h0M711 223h0M817 274h0M889 269h0M860 420h0M864 325h0M922 239h0M910 161h0M802 156h0M1047 377h0M698 121h0M858 220h0M751 163h0M873 325h0M780 228h0M769 281h0M756 225h0M841 89h0M823 215h0M833 160h0M721 208h0M802 232h0M893 106h0M821 269h0M855 291h0M742 245h0M805 208h0M741 130h0M834 328h0M970 452h0M750 181h0M900 271h0M728 188h0M838 237h0M726 232h0M842 203h0M826 116h0M853 235h0M903 437h0M800 222h0M897 304h0M763 285h0"/>
<path class="G" d="M867 102h0M911 115h0M865 215h0M856 156h0M817 92h0M854 118h0M778 106h0M803 90h0M682 126h0M884 137h0M903 206h0M843 100h0M806 141h0M926 299h0M711 131h0M890 132h0M910 119h0M840 152h0M916 150h0M718 112h0M796 90h0M862 82h0M789 99h0M887 125h0M786 127h0M765 97h0M855 105h0M894 99h0M875 98h0M807 104h0M931 146h0"/>
<path class="O" d="M1014 141h0M821 223h0M933 206h0M861 250h0M1005 421h0M1031 110h0M1034 360h0M925 311h0M1155 288h0M906 384h0M1109 196h0M1048 373h0M728 208h0M771 220h0M948 404h0M1026 430h0M834 399h0M800 371h0M870 274h0M998 436h0M1166 274h0M872 344h0M917 456h0M782 345h0M766 303h0M1111 366h0M802 379h0M821 414h0M1032 387h0M945 398h0M905 417h0M1014 439h0M1093 374h0M1027 79h0M1028 124h0M806 336h0M1072 363h0M1098 300h0M798 313h0M1141 311h0M860 338h0M869 197h0M1003 416h0M1153 247h0M832 318h0M910 113h0M1061 342h0M967 443h0M894 383h0M774 340h0M984 377h0M821 372h0M919 444h0M860 422h0M884 206h0M915 175h0M832 303h0M1091 229h0M862 384h0M1069 165h0M1032 82h0M869 375h0M1012 378h0M992 439h0M1084 185h0M870 229h0M1047 388h0M1092 172h0M1037 172h0M837 390h0M762 310h0M961 411h0M995 396h0M966 423h0M1034 383h0M811 311h0M806 277h0M863 277h0M1055 153h0M762 269h0M900 384h0M943 439h0M1107 365h0M1117 363h0M913 403h0M1144 245h0M862 313h0M873 330h0M1061 410h0M1040 418h0M1072 344h0M839 394h0M998 400h0M1093 337h0M1045 363h0M824 404h0M1020 146h0M1118 350h0M799 324h0M823 335h0M1044 414h0M1170 246h0M1098 341h0M1009 98h0M936 439h0M840 160h0M899 391h0M1122 221h0M984 418h0M1072 367h0M770 330h0M800 316h0M1156 308h0M1096 391h0M1137 321h0M889 301h0M938 413h0M928 389h0M1056 69h0M888 229h0M1028 359h0M1137 310h0M853 393h0M918 258h0M830 276h0M1061 384h0M992 399h0M1150 220h0M1078 177h0M1035 359h0M893 332h0M862 349h0M1074 178h0M1090 376h0M893 220h0M911 307h0M794 271h0M1101 57h0M892 307h0M782 297h0M843 280h0M1132 271h0M1007 128h0M988 396h0M901 272h0M1077 71h0M799 345h0M996 429h0M1023 80h0M1039 386h0M1167 253h0M1128 324h0"/>
<path class="B" d="M922 187h0M884 328h0M836 312h0M721 123h0M781 242h0M856 203h0M790 87h0M741 150h0M755 181h0M876 268h0M773 161h0M704 150h0M804 271h0M772 204h0M722 178h0M874 313h0M774 207h0M766 239h0M719 105h0M882 209h0M715 172h0M934 186h0M777 180h0M724 201h0M829 276h0M737 166h0M750 207h0M812 243h0M843 229h0M697 136h0M875 277h0M922 268h0M720 213h0M750 137h0M787 269h0M896 390h0M975 379h0M760 268h0M726 117h0M853 190h0M735 256h0M941 375h0M868 184h0M919 280h0M731 156h0M896 111h0M820 89h0M826 191h0M831 301h0M815 132h0M730 195h0M799 158h0M885 262h0M768 207h0M835 235h0M786 177h0M771 99h0M786 219h0M745 181h0M737 203h0M820 253h0M816 157h0M800 200h0M921 172h0M751 287h0M925 208h0M874 161h0M826 138h0M818 270h0M749 246h0M772 294h0M810 175h0M827 254h0M854 241h0M691 170h0M690 167h0M838 228h0M785 202h0"/>
<path class="G" d="M814 113h0M753 108h0M905 129h0M885 93h0M802 226h0M852 118h0M705 137h0M926 144h0M779 143h0M805 114h0M822 160h0M901 134h0M761 174h0M907 189h0M859 287h0M928 289h0M891 186h0M853 87h0M936 186h0M895 178h0"/>
<path class="G" d="M744 142h0M865 98h0M801 197h0M737 122h0M746 102h0M876 109h0M865 150h0M724 121h0M800 127h0M749 91h0M886 152h0M903 216h0M761 115h0M907 184h0M879 156h0M855 149h0M864 141h0M783 161h0M790 252h0M793 97h0M809 159h0M694 164h0M836 104h0M795 147h0M729 141h0M869 86h0M797 92h0M753 141h0M771 158h0M788 150h0M861 251h0M911 107h0"/>
<path class="O" d="M824 265h0M982 409h0M1048 135h0M1085 204h0M855 298h0M995 398h0M1035 411h0M1143 319h0M1024 166h0M866 421h0M950 436h0M1007 398h0M760 151h0M847 390h0M889 367h0M1038 172h0M852 324h0M1003 422h0M843 229h0M825 265h0M1055 344h0M1070 173h0M1013 386h0M955 464h0M857 226h0M797 319h0M845 342h0M844 405h0M954 411h0M900 290h0M1004 376h0M813 331h0M1097 178h0M1016 374h0M1124 356h0M1063 343h0M1097 254h0M837 346h0M980 388h0M1134 292h0M865 382h0M1146 324h0M972 438h0M924 304h0M925 269h0M864 301h0M1040 433h0M1122 382h0M1125 288h0M1040 81h0M1063 200h0M1016 376h0M962 455h0M931 430h0M1082 354h0M1031 111h0M1001 411h0M1020 380h0M785 308h0M894 394h0M1051 352h0M1040 129h0M1142 326h0M964 459h0M1091 191h0M850 409h0M1123 271h0M1103 295h0M748 208h0M929 409h0M876 312h0M863 367h0M1007 392h0M1107 377h0M1056 366h0M1143 291h0M817 324h0M789 356h0M819 326h0M1102 191h0M1003 416h0M1020 395h0M909 318h0M1006 368h0M1112 55h0M1113 345h0M865 368h0M968 451h0M775 336h0M1100 310h0M1013 96h0M1108 281h0M907 452h0M1161 233h0M754 222h0M1159 280h0M957 461h0M836 298h0M1147 313h0M935 448h0M1141 268h0M1080 390h0M1058 186h0M818 407h0M1096 377h0M1162 272h0M1020 378h0M857 346h0M903 431h0M943 404h0M1105 344h0M1008 372h0M1172 286h0M1164 270h0M918 155h0M886 409h0M1010 396h0M919 293h0M922 251h0M895 293h0M884 324h0M908 310h0M843 371h0M875 375h0M766 332h0M1114 372h0M1137 254h0M791 254h0M1124 310h0M877 393h0M920 242h0M983 438h0M1044 351h0M816 257h0M917 327h0M830 392h0M916 261h0"/>
<path class="B" d="M889 314h0M928 237h0M892 181h0M844 282h0M851 235h0M814 262h0M867 272h0M919 322h0M932 206h0M842 269h0M755 234h0M850 191h0M799 209h0M788 151h0M819 251h0M911 250h0M844 143h0M764 185h0M773 310h0M859 334h0M826 194h0M852 277h0M749 148h0M835 209h0M922 299h0M935 424h0M694 172h0M872 335h0M768 247h0M800 213h0M885 182h0M854 175h0M884 173h0M762 138h0M829 330h0M805 316h0M793 252h0M746 152h0M799 182h0M688 135h0M870 256h0M855 255h0M839 301h0M740 147h0M740 250h0M822 202h0M922 404h0M912 216h0M793 132h0M793 152h0M919 201h0M792 240h0M806 172h0M928 188h0M887 258h0M840 326h0M785 131h0M753 169h0M786 92h0M770 270h0M760 133h0M751 198h0M731 150h0M864 281h0M894 305h0M751 93h0M750 167h0M754 121h0M796 144h0M709 175h0M872 237h0M723 202h0M894 160h0M821 311h0M778 237h0M723 229h0M729 201h0M736 213h0M710 234h0M737 208h0M876 286h0"/>
<path class="O" d="M1142 231h0M897 444h0M1053 78h0M817 307h0M944 411h0M1126 334h0M849 306h0M997 420h0M913 208h0M819 136h0M1101 268h0M1022 167h0M1062 405h0M981 431h0M805 285h0M909 282h0M1090 62h0M776 266h0M1086 214h0M1116 246h0M920 412h0M908 391h0M1033 353h0M950 406h0M1102 377h0M901 210h0M1029 142h0M1016 109h0M1106 349h0M1154 229h0M1077 175h0M1027 159h0M1037 88h0M936 407h0M884 332h0M1024 387h0M846 263h0M1088 65h0M1020 83h0M1145 232h0M924 429h0M1034 360h0M1159 241h0M860 422h0M1110 284h0M1019 123h0M1001 432h0M1045 359h0M1055 386h0M742 176h0M815 277h0M880 329h0M925 407h0M1134 363h0M1017 387h0M913 329h0M1128 321h0M874 338h0M1139 273h0M810 131h0M860 283h0M1031 405h0M878 312h0M1161 265h0M789 217h0M797 403h0M1029 84h0M817 339h0M1068 203h0M1041 431h0M834 401h0M901 195h0M901 432h0M1105 180h0M878 193h0M910 436h0M1022 377h0M822 156h0M951 422h0M920 321h0M835 381h0M917 251h0M1054 78h0M1030 410h0M1100 187h0M1061 391h0M866 204h0M1016 378h0M1031 80h0M1133 311h0M1053 402h0M1141 294h0M993 419h0M1071 326h0M854 313h0M1006 111h0M917 324h0M885 379h0M777 190h0M825 356h0M1012 90h0M1099 354h0M984 414h0M1125 337h0M859 252h0M883 388h0M1084 330h0M1042 120h0M809 220h0M1150 243h0M962 455h0M850 341h0M1072 382h0M843 355h0M931 458h0M1025 116h0M1127 222h0M1084 357h0M782 308h0M1117 207h0M901 282h0M866 332h0M768 338h0M901 317h0M844 175h0M1099 314h0M1014 152h0M905 415h0M781 295h0M1099 203h0M1101 280h0M851 367h0M1025 429h0M821 349h0M936 424h0M836 288h0M753 290h0M781 284h0M1053 157h0M850 272h0M854 119h0M768 330h0M915 300h0M1046 411h0M1096 65h0"/>
<path class="B" d="M858 239h0M913 220h0M868 250h0M904 327h0M933 295h0M739 218h0M719 172h0M850 266h0M1024 121h0M791 243h0M892 310h0M724 148h0M755 201h0M910 307h0M839 271h0M875 428h0M799 306h0M803 129h0M762 242h0M863 219h0M818 143h0M798 315h0M705 135h0M931 298h0M830 224h0M709 215h0M849 226h0M911 221h0M888 139h0M900 355h0M867 232h0M796 202h0M759 245h0M859 205h0M773 212h0M704 140h0M777 110h0M858 311h0M899 338h0M799 126h0M750 231h0M808 249h0M794 141h0M958 430h0M874 171h0M796 215h0M724 127h0M818 276h0M797 198h0M691 145h0M1017 385h0M909 258h0M833 237h0M726 207h0M843 219h0M843 262h0M906 421h0M744 227h0M906 171h0M884 233h0M980 371h0M1060 402h0M800 149h0"/>
<path class="G" d="M711 113h0M804 102h0M773 131h0M878 94h0M875 93h0M924 413h0M837 87h0M840 100h0M792 97h0M723 109h0M886 138h0M901 287h0M807 124h0M764 153h0M919 176h0M871 134h0M831 113h0M827 188h0M857 124h0M806 135h0M784 138h0M843 110h0M847 165h0M870 153h0M937 185h0M867 92h0M844 87h0M811 134h0M855 80h0M836 140h0M718 166h0M755 125h0M757 98h0M858 81h0M699 137h0M833 120h0M788 108h0M895 104h0M771 149h0M739 96h0M798 92h0M774 118h0"/>
<path class="O" d="M905 453h0M807 305h0M1127 276h0M1095 339h0M835 345h0M826 236h0M789 383h0M1053 376h0M1084 396h0M1038 164h0M1137 263h0M879 387h0M898 406h0M1099 340h0M955 407h0M973 446h0M996 427h0M1152 240h0M973 404h0M1033 99h0M1029 156h0M952 436h0M1138 343h0M883 419h0M1042 163h0M821 288h0M891 211h0M1164 232h0M854 100h0M753 150h0M862 402h0M1025 100h0M1142 299h0M1088 332h0M1112 389h0M757 287h0M955 451h0M906 345h0M1113 382h0M761 196h0M1129 362h0M994 419h0M811 266h0M1086 355h0M905 407h0M1129 348h0M1054 350h0M1125 352h0M909 212h0M1002 438h0M814 404h0M817 315h0M884 312h0M888 269h0M1003 420h0M1106 194h0M1153 266h0M1108 247h0M1048 376h0M805 199h0M1032 113h0M1059 156h0M782 305h0M1091 57h0M1169 231h0M828 294h0M789 293h0M1067 330h0M803 320h0M954 440h0M1100 296h0M857 364h0M834 382h0M1110 256h0M877 429h0M1103 263h0M1140 345h0M819 368h0M970 402h0M825 352h0M1114 253h0M908 401h0M810 317h0M877 279h0M900 396h0M1028 402h0M842 323h0M1062 339h0M1057 194h0M911 439h0M981 397h0M979 456h0M1036 132h0M1147 256h0M924 178h0M974 386h0M818 251h0M1020 430h0M914 265h0M906 232h0M1034 377h0M910 420h0M1119 306h0M818 276h0M1029 183h0M1056 195h0M830 137h0M1109 255h0M1126 270h0M873 253h0M869 352h0M1119 345h0M1122 199h0M950 447h0M1042 370h0M1032 140h0M994 384h0M965 445h0M1032 91h0M835 271h0M726 221h0M1112 382h0M1030 129h0M916 383h0M785 228h0M1094 185h0M855 389h0M808 320h0M978 420h0M1072 343h0M743 259h0M836 231h0M979 448h0M1131 354h0M865 269h0M803 267h0M1108 208h0M1072 191h0M1031 177h0M885 366h0M822 286h0M804 403h0M1129 345h0M1133 214h0M927 310h0M1168 258h0M1087 337h0M1034 76h0M799 371h0M1093 381h0M787 241h0M1059 190h0"/>
<path class="B" d="M704 119h0M812 160h0M824 258h0M707 132h0M902 316h0M871 146h0M818 417h0M824 226h0M748 176h0M771 149h0M916 185h0M767 184h0M853 289h0M894 159h0M732 238h0M881 309h0M798 240h0M924 221h0M783 122h0M922 300h0M887 220h0M727 149h0M728 97h0M748 273h0M927 186h0M744 168h0M882 346h0M874 200h0M825 290h0M927 311h0M817 331h0M740 205h0M810 253h0M807 394h0M716 196h0M794 284h0M880 253h0M883 430h0M797 296h0M724 203h0M755 198h0M767 215h0M807 313h0M742 146h0M924 446h0M830 141h0M803 237h0M782 241h0M916 114h0M864 192h0M840 157h0M909 169h0M852 153h0M897 255h0M740 100h0M906 221h0M752 151h0M783 273h0M895 309h0M871 216h0M731 149h0M801 274h0M1107 192h0M903 161h0M856 183h0M922 203h0"/>
<path class="G" d="M841 145h0M827 96h0M851 129h0M868 168h0M913 140h0M753 124h0M893 98h0M787 149h0M814 162h0M929 129h0M874 80h0M823 85h0M705 125h0M863 114h0M858 103h0M920 215h0M886 91h0M735 114h0M905 109h0M754 130h0M727 101h0M845 84h0M945 461h0M871 114h0M927 194h0M824 103h0M850 103h0M700 132h0M913 241h0M704 159h0M814 180h0M877 151h0"/>
<path class="G" d="M822 98h0M737 145h0M916 140h0M844 151h0M768 140h0M866 90h0M787 127h0M869 130h0M926 188h0M844 93h0M893 125h0M699 162h0M892 124h0M897 187h0M914 147h0M856 92h0M880 89h0M855 150h0M841 128h0M782 89h0M925 156h0M782 103h0M774 90h0M846 145h0M745 94h0M835 120h0M872 130h0"/>
<path class="B" d="M804 286h0M796 197h0M933 191h0M783 196h0M708 205h0M800 281h0M805 402h0M914 199h0M848 228h0M789 239h0M822 158h0M737 212h0M886 425h0M736 159h0M782 314h0M812 231h0M757 267h0M763 199h0M856 298h0M882 118h0M718 127h0M688 138h0M924 200h0M885 281h0M720 177h0M718 241h0M863 208h0M921 177h0M721 204h0M874 324h0M839 302h0M789 178h0M820 108h0M770 188h0M863 228h0M710 175h0M809 322h0M803 260h0M931 177h0M710 227h0M742 218h0M859 258h0M737 230h0M775 224h0M738 205h0M880 261h0M911 191h0M878 373h0M930 212h0M848 153h0M810 332h0M758 285h0M738 173h0M927 208h0M759 283h0M790 253h0M821 305h0M766 173h0M779 267h0M741 229h0M695 128h0M772 155h0M797 358h0M738 239h0M853 319h0M898 150h0M824 193h0M875 215h0M889 213h0M803 276h0M868 227h0M781 161h0M852 300h0M779 210h0M722 139h0M700 152h0M882 300h0M747 260h0M926 303h0M814 108h0"/>
<path class="O" d="M871 405h0M1088 191h0M825 410h0M1099 195h0M1035 95h0M1121 340h0M1107 381h0M1115 358h0M1106 290h0M1028 404h0M1017 378h0M928 272h0M911 292h0M882 417h0M892 433h0M804 307h0M946 392h0M1054 189h0M1099 269h0M932 410h0M950 399h0M860 251h0M865 352h0M935 403h0M1146 260h0M941 430h0M1145 239h0M1048 77h0M1159 269h0M809 244h0M798 336h0M1028 90h0M983 387h0M1024 417h0M1052 367h0M1074 178h0M904 275h0M1042 425h0M905 449h0M884 274h0M1086 330h0M820 404h0M969 372h0M842 290h0M1067 184h0M801 351h0M986 454h0M887 455h0M1099 320h0M903 355h0M988 383h0M789 287h0M1011 451h0M1150 272h0M1119 277h0M1073 365h0M820 346h0M869 222h0M1018 103h0M1080 186h0M1149 313h0M879 363h0M866 227h0M815 253h0M864 400h0M1014 416h0M1049 174h0M1027 114h0M1023 161h0M884 268h0M882 179h0M779 301h0M1002 120h0M1156 337h0M1006 398h0M1088 391h0M856 319h0M902 341h0M1082 186h0M962 441h0M1135 301h0M869 374h0M768 246h0M1032 132h0M885 361h0M760 250h0M910 407h0M773 282h0M857 360h0M1017 131h0M802 373h0M1163 272h0M1090 172h0M1097 201h0M1107 288h0M848 408h0M1013 426h0M952 429h0M917 412h0M1035 86h0M922 443h0M1097 185h0M949 398h0M820 213h0M839 340h0M886 424h0M1084 204h0M817 335h0M965 396h0M930 202h0M1102 369h0M1138 284h0M931 295h0M1099 357h0M1125 225h0M919 402h0M828 364h0M804 281h0M1064 339h0M914 306h0M855 419h0M900 271h0M799 279h0M751 264h0M808 400h0M822 272h0M815 265h0M820 327h0M900 245h0M898 322h0M1076 351h0M852 405h0M883 390h0M1091 324h0M1067 339h0M984 381h0M816 401h0M709 184h0M910 283h0M1064 380h0M1086 390h0M1080 209h0M1169 290h0"/>
<path class="O" d="M805 273h0M1115 275h0M1110 263h0M1150 263h0M1108 287h0M917 446h0M1108 292h0M879 443h0M1042 381h0M905 358h0M950 394h0M953 446h0M977 397h0M1077 58h0M933 402h0M956 403h0M913 425h0M1141 311h0M1081 204h0M1090 215h0M985 440h0M874 309h0M1139 287h0M1113 320h0M1138 254h0M1004 391h0M887 423h0M862 298h0M1145 278h0M957 460h0M801 333h0M949 390h0M1016 117h0M1019 97h0M950 417h0M1127 364h0M777 196h0M1068 363h0M1088 331h0M834 391h0M950 451h0M1042 419h0M981 431h0M822 377h0M1086 189h0M861 429h0M1122 290h0M1007 114h0M844 338h0M1144 335h0M1044 416h0M1013 129h0M858 281h0M811 352h0M1103 312h0M770 318h0M1120 227h0M879 355h0M1031 118h0M988 406h0M1032 431h0M814 362h0M842 417h0M854 426h0M773 282h0M882 332h0M1153 247h0M1120 356h0M1074 329h0M1086 398h0M1051 164h0M1164 299h0M917 330h0M876 341h0M775 230h0M1128 243h0M950 415h0M1104 360h0M1137 246h0M1045 385h0M838 199h0M1121 216h0M1090 355h0M961 417h0M1007 417h0M1104 213h0M837 304h0M844 384h0M1061 341h0M1060 203h0M1066 176h0M973 382h0M706 168h0M1115 318h0M761 277h0M965 394h0M935 457h0M1038 136h0M811 340h0M821 368h0M1110 343h0M908 239h0M1162 298h0M800 365h0M1066 79h0M1016 365h0M1042 82h0M923 400h0M1080 396h0M848 310h0M1072 182h0M989 442h0M1026 392h0M1126 363h0M1045 176h0M829 354h0M1117 182h0M892 387h0M1099 239h0M914 408h0M1162 281h0M874 257h0M955 460h0M1131 366h0M1052 155h0M1079 198h0M1018 380h0M850 348h0M814 413h0M926 387h0M1045 412h0M1015 423h0M1123 325h0M1047 71h0M1026 412h0M1028 371h0M975 374h0M1163 260h0M871 378h0M1036 377h0M1048 153h0M926 441h0M1146 238h0M1018 99h0M974 384h0M924 438h0M913 335h0M1061 364h0M1013 388h0M1170 241h0M1042 77h0M1093 192h0"/>
<path class="B" d="M843 249h0M796 291h0M883 250h0M840 289h0M865 407h0M918 175h0M874 231h0M810 313h0M791 248h0M816 159h0M774 234h0M835 279h0M762 200h0M753 178h0M793 220h0M812 138h0M845 318h0M718 174h0M820 233h0M765 209h0M835 263h0M708 156h0M921 256h0M854 254h0M888 369h0M912 438h0M857 348h0M715 134h0M837 296h0M870 235h0M728 216h0M816 185h0M845 211h0M870 248h0M828 293h0M816 306h0M778 187h0M905 224h0M855 171h0M913 445h0M751 260h0M824 231h0M745 212h0M874 237h0M901 313h0M783 204h0M791 269h0M749 114h0M906 206h0M907 301h0M857 158h0M797 157h0M793 301h0M860 134h0M883 342h0M890 111h0M837 147h0M720 114h0M910 305h0M740 222h0M902 209h0M790 235h0M787 153h0M860 224h0M763 211h0M811 256h0M730 133h0"/>
<path class="G" d="M868 106h0M829 209h0M866 88h0M930 143h0M934 185h0M807 126h0M867 148h0M788 101h0M877 135h0M912 105h0M748 101h0M745 152h0M879 99h0M808 89h0M922 184h0M819 91h0M880 84h0M778 121h0M720 152h0M930 145h0M809 115h0M756 148h0M820 133h0M869 125h0M769 100h0M878 181h0M833 99h0M818 128h0M745 107h0M921 149h0M887 115h0"/>
<path class="B" d="M1094 338h0M919 177h0M760 149h0M916 251h0M793 298h0M856 125h0M767 230h0M769 144h0M794 326h0M711 206h0M887 194h0M840 168h0M750 250h0M864 194h0M806 347h0M802 200h0M812 165h0M869 215h0M729 139h0M731 195h0M898 197h0M764 153h0M932 247h0M730 103h0M913 381h0M896 357h0M861 192h0M741 210h0M866 337h0M735 168h0M848 157h0M869 300h0M810 134h0M838 254h0M779 227h0M783 268h0M841 168h0M753 162h0M758 274h0M752 186h0M776 300h0M905 247h0M885 214h0M883 255h0M812 218h0M929 172h0M1080 392h0M786 263h0M705 148h0M905 212h0M856 190h0M719 171h0M828 169h0M803 126h0M776 189h0M1006 417h0M747 276h0M849 335h0M899 174h0M788 221h0M750 142h0M813 304h0M693 165h0M843 202h0M905 218h0M841 214h0M843 181h0M817 200h0M824 183h0M895 183h0M714 229h0M924 273h0M796 173h0"/>
<path class="O" d="M892 306h0M947 426h0M1027 412h0M1039 164h0M1110 308h0M1026 123h0M1065 388h0M1078 217h0M788 333h0M1039 126h0M980 404h0M889 393h0M980 429h0M796 302h0M1052 420h0M770 241h0M1088 69h0M1141 311h0M1120 243h0M1128 251h0M1173 248h0M1041 365h0M800 355h0M1080 400h0M1130 283h0M1158 227h0M1043 415h0M1107 294h0M830 233h0M1115 54h0M1104 290h0M836 341h0M865 424h0M877 360h0M970 453h0M1114 218h0M954 440h0M1028 165h0M907 404h0M820 407h0M1042 379h0M794 316h0M1101 208h0M912 319h0M796 203h0M959 407h0M1168 258h0M814 393h0M1084 339h0M1123 282h0M841 254h0M1072 180h0M1075 212h0M1150 280h0M919 252h0M1004 372h0M899 451h0M914 435h0M1043 346h0M1108 291h0M856 283h0M1088 354h0M788 267h0M906 308h0M1157 225h0M787 281h0M863 298h0M828 399h0M1103 239h0M1034 82h0M1092 210h0M1032 90h0M882 333h0M747 273h0M956 395h0M1133 256h0M992 375h0M1088 62h0M820 342h0M999 113h0M938 451h0M841 302h0M1050 65h0M1149 273h0M920 416h0M1058 165h0M774 280h0M876 426h0M1029 93h0M803 385h0M1142 303h0M912 251h0M1107 332h0M996 444h0M946 398h0M922 271h0M1036 438h0M941 378h0M1102 363h0M734 208h0M1023 352h0M1146 266h0M1035 90h0M1120 371h0M1105 376h0M879 356h0M1139 316h0M851 412h0M999 426h0M978 385h0M734 214h0M993 381h0M1113 58h0M1119 327h0M938 419h0M1142 222h0M841 420h0M850 277h0M829 371h0M1017 401h0M988 444h0M1077 369h0M1038 406h0M1126 234h0M1029 82h0M1098 279h0M948 459h0M936 384h0M1057 198h0M1034 158h0M762 290h0M930 428h0M920 185h0M1099 185h0M1016 117h0M749 274h0M1088 340h0M1142 257h0M1066 371h0"/>
<path class="G" d="M885 172h0M752 108h0M769 117h0M746 94h0M883 240h0M805 96h0M931 191h0M761 96h0M904 123h0M826 131h0M848 101h0M763 114h0M844 78h0M921 138h0M800 130h0M744 97h0M741 108h0M829 99h0M787 120h0M824 91h0M791 135h0M850 119h0M861 128h0M758 96h0M856 181h0M819 184h0M827 117h0M799 146h0M862 102h0M889 109h0M839 98h0M912 316h0M887 112h0M681 123h0M727 127h0M754 133h0M915 139h0M854 230h0"/>
<path class="G" d="M884 121h0M798 92h0M915 256h0M714 145h0M742 107h0M898 146h0M894 144h0M885 110h0M882 102h0M763 143h0M779 111h0M720 114h0M926 144h0M719 119h0M828 188h0M884 318h0M853 122h0M866 110h0M881 103h0M834 114h0M812 138h0M910 106h0M813 167h0M862 102h0M854 138h0M898 124h0M798 183h0M738 130h0M905 324h0M814 105h0M914 113h0M797 96h0M857 91h0M859 159h0M825 183h0"/>
<path class="B" d="M798 237h0M926 279h0M896 189h0M788 270h0M746 204h0M755 228h0M719 219h0M812 260h0M885 256h0M752 255h0M793 184h0M892 366h0M884 284h0M842 294h0M833 219h0M834 196h0M755 239h0M876 186h0M879 253h0M761 281h0M744 192h0M816 250h0M770 251h0M743 132h0M792 263h0M871 374h0M797 171h0M884 185h0M811 236h0M843 253h0M930 243h0M841 236h0M890 225h0M735 204h0M810 240h0M870 186h0M774 211h0M838 220h0M811 107h0M782 275h0M780 218h0M847 179h0M772 203h0M785 172h0M812 215h0M785 211h0M905 308h0M758 119h0M793 244h0M847 277h0M790 331h0M707 135h0M822 213h0M840 190h0M728 129h0M811 210h0M909 235h0M743 199h0M1019 368h0M849 180h0M889 129h0M851 155h0M759 168h0M786 158h0M739 257h0M698 163h0M909 158h0M917 297h0M772 330h0M758 219h0M772 192h0M692 146h0M789 133h0M718 226h0"/>
<path class="O" d="M928 423h0M1116 227h0M1054 372h0M1048 171h0M929 429h0M969 401h0M1057 355h0M961 431h0M1062 392h0M931 405h0M902 307h0M1129 355h0M795 392h0M827 357h0M1099 349h0M910 323h0M1125 380h0M876 279h0M1033 108h0M951 404h0M1132 245h0M962 424h0M1024 402h0M803 295h0M985 417h0M955 438h0M912 447h0M1087 347h0M890 424h0M1111 325h0M1149 247h0M1112 244h0M1010 418h0M866 213h0M892 272h0M813 244h0M1068 363h0M1023 369h0M838 351h0M860 329h0M1012 108h0M960 379h0M856 394h0M794 347h0M831 375h0M910 298h0M911 236h0M1021 95h0M808 370h0M808 397h0M1154 251h0M860 262h0M1021 417h0M924 388h0M1069 376h0M1130 286h0M1050 362h0M1027 133h0M895 304h0M1107 215h0M921 251h0M1018 167h0M911 271h0M937 405h0M1118 335h0M1081 174h0M1025 371h0M1004 413h0M1110 321h0M1064 406h0M956 399h0M1051 171h0M809 321h0M992 408h0M1084 347h0M907 316h0M989 438h0M782 319h0M922 260h0M765 236h0M1011 367h0M908 428h0M1152 274h0M1021 118h0M915 222h0M777 262h0M798 362h0M1130 271h0M1077 332h0M1062 361h0M1005 136h0M974 424h0M774 333h0M1018 398h0M928 397h0M1133 319h0M1062 67h0M781 325h0M807 163h0M1108 57h0M867 353h0M1151 217h0M965 390h0M1052 419h0M1129 233h0M774 316h0M1088 342h0M900 311h0M1101 280h0M765 297h0M887 350h0M1044 421h0M879 242h0M851 204h0M808 400h0M808 314h0M840 404h0M893 385h0M1111 327h0M825 338h0M902 343h0M842 357h0M878 369h0M836 417h0M1070 199h0M1065 351h0M1018 421h0M1104 57h0M1103 283h0M827 178h0M1100 243h0M875 409h0M871 337h0M1082 321h0M1093 309h0M896 424h0M904 399h0M911 436h0M937 430h0M1108 61h0M1026 364h0"/>
<path class="O" d="M1045 77h0M1060 378h0M1017 410h0M1057 159h0M969 396h0M1073 380h0M866 320h0M1104 368h0M1060 390h0M817 261h0M1037 374h0M1024 84h0M857 420h0M740 109h0M981 381h0M854 359h0M954 426h0M1101 229h0M799 287h0M851 351h0M1130 324h0M881 338h0M1118 232h0M1008 109h0M1154 304h0M1035 181h0M1021 153h0M950 439h0M1011 430h0M883 359h0M757 257h0M828 305h0M973 407h0M1024 412h0M1131 248h0M1015 386h0M1014 441h0M780 193h0M1020 384h0M810 344h0M1166 290h0M801 261h0M801 409h0M1158 256h0M1012 110h0M975 386h0M834 291h0M1009 122h0M964 388h0M872 324h0M884 261h0M945 379h0M846 270h0M823 309h0M816 404h0M768 336h0M1106 60h0M986 377h0M805 388h0M987 427h0M926 402h0M806 318h0M928 270h0M1157 276h0M817 319h0M831 415h0M886 315h0M887 359h0M1017 404h0M1108 192h0M1092 173h0M786 355h0M1105 255h0M1131 267h0M870 317h0M1139 304h0M1088 362h0M1130 268h0M1072 186h0M868 389h0M1112 329h0M849 344h0M896 257h0M927 275h0M900 419h0M895 348h0M1098 256h0M740 230h0M823 149h0M1132 364h0M1111 369h0M1123 246h0M1029 419h0M908 305h0M1062 354h0M901 243h0M949 380h0M757 270h0M848 347h0M789 322h0M942 405h0M1012 421h0M922 389h0M823 246h0M797 358h0M783 335h0M1024 406h0M1008 399h0M1031 401h0M872 348h0M938 405h0M1035 147h0M1144 241h0M1101 261h0M861 337h0M1079 338h0M1106 339h0M1060 367h0M1027 428h0M1126 335h0M829 362h0M902 300h0M1130 246h0M875 359h0M998 413h0M856 389h0M1138 291h0M1028 118h0M1093 316h0M858 359h0M1003 408h0M1007 133h0"/>
<path class="B" d="M759 269h0M1108 303h0M894 133h0M739 150h0M747 161h0M788 229h0M940 424h0M794 164h0M786 339h0M902 181h0M825 253h0M825 279h0M908 192h0M736 258h0M960 447h0M756 112h0M731 162h0M904 154h0M738 241h0M794 242h0M775 353h0M899 206h0M898 407h0M708 232h0M717 161h0M916 307h0M849 149h0M922 182h0M761 184h0M823 346h0M887 226h0M852 119h0M826 182h0M912 175h0M847 141h0M836 254h0M834 86h0M840 189h0M904 171h0M757 195h0M775 285h0M730 235h0M827 277h0M783 113h0M786 249h0M748 116h0M743 103h0M881 155h0M894 147h0M799 218h0M751 217h0M768 194h0M815 124h0M708 230h0M842 366h0M777 268h0M861 175h0M796 304h0M872 275h0M815 252h0M786 235h0M682 129h0M826 170h0M701 140h0M792 201h0M795 224h0M801 327h0M828 370h0M750 156h0M806 179h0M772 270h0M852 156h0M814 199h0M857 153h0M1032 183h0M714 221h0M784 172h0"/>
<path class="G" d="M866 130h0M883 97h0M864 186h0M737 104h0M780 105h0M901 114h0M916 143h0M887 200h0M790 132h0M759 98h0M932 137h0M879 131h0M847 118h0M785 172h0M914 153h0M885 151h0M717 161h0M917 232h0M841 156h0M752 109h0M913 193h0M741 103h0M828 96h0M744 96h0M848 177h0M882 110h0M761 127h0M890 118h0M920 114h0M893 94h0M884 201h0M888 102h0M829 88h0M864 90h0M894 160h0M835 161h0M824 155h0M773 138h0M901 124h0M728 106h0M839 174h0"/>
<path class="O" d="M868 302h0M1139 257h0M1043 160h0M902 326h0M1142 276h0M1020 360h0M781 336h0M942 428h0M1099 275h0M803 411h0M828 313h0M873 390h0M840 365h0M1132 367h0M1087 218h0M1133 306h0M976 398h0M1100 214h0M1042 411h0M905 437h0M1013 437h0M1119 351h0M846 420h0M1078 167h0M950 424h0M1060 340h0M896 442h0M1043 153h0M775 135h0M849 291h0M878 358h0M879 349h0M1110 55h0M1055 374h0M896 223h0M982 416h0M897 169h0M1086 399h0M1087 372h0M1049 178h0M896 396h0M1165 241h0M925 435h0M1101 182h0M1142 331h0M1112 379h0M1096 363h0M846 336h0M788 367h0M1069 349h0M888 295h0M908 314h0M935 439h0M934 383h0M781 294h0M949 425h0M940 448h0M1070 373h0M1108 378h0M1126 373h0M1070 364h0M808 351h0M872 362h0M1100 250h0M895 354h0M860 423h0M1119 301h0M1104 210h0M1020 153h0M797 380h0M1016 113h0M1129 337h0M1075 333h0M1074 174h0M767 285h0M1104 334h0M1052 157h0M905 404h0M1130 358h0M1110 330h0M1068 197h0M1138 325h0M887 386h0M916 394h0M1086 63h0M834 217h0M1131 260h0M848 212h0M1122 379h0M1059 412h0M1080 175h0M890 375h0M848 375h0M837 411h0M872 410h0M862 175h0M1060 68h0M1106 198h0M856 340h0M1122 295h0M1018 90h0M900 268h0M974 397h0M745 279h0M965 395h0M1171 256h0M897 298h0M882 186h0M848 384h0M784 206h0M891 398h0M922 318h0M1057 156h0M973 409h0M847 293h0M1132 267h0M895 193h0M1127 281h0M898 373h0M920 271h0M1136 341h0M1023 139h0M1025 101h0M1047 372h0M1070 214h0"/>
<path class="B" d="M870 377h0M853 239h0M716 154h0M801 262h0M850 299h0M844 408h0M717 123h0M814 119h0M777 203h0M863 194h0M836 359h0M794 272h0M734 201h0M859 132h0M813 271h0M923 288h0M697 155h0M703 129h0M815 195h0M801 211h0M763 104h0M781 257h0M975 378h0M847 168h0M740 138h0M768 156h0M891 273h0M865 255h0M850 327h0M827 209h0M767 255h0M893 229h0M788 290h0M759 142h0M734 229h0M920 144h0M832 123h0M731 207h0M909 170h0M841 205h0M824 175h0M892 270h0M882 224h0M815 245h0M798 104h0M925 439h0M908 244h0M755 145h0M841 177h0M892 438h0M851 259h0M731 135h0M820 255h0"/>
<path class="G" d="M921 225h0M848 345h0M748 102h0M702 155h0M685 136h0M930 155h0M797 97h0M753 106h0M884 116h0M895 110h0M769 110h0M730 96h0M765 122h0M745 92h0M738 163h0M692 126h0M720 104h0M858 188h0M725 115h0M912 117h0M760 147h0M725 137h0M818 122h0M810 147h0M819 119h0M896 180h0M740 181h0M793 119h0M781 166h0M726 118h0M857 122h0"/>
</g>
<g clip-path="url(#cBL)">
<path class="B" d="M190 631h0M226 829h0M151 687h0M299 722h0M132 643h0M258 648h0M218 699h0M397 746h0M312 718h0M283 751h0M157 707h0M292 736h0M221 730h0M138 805h0M186 696h0M143 763h0M201 667h0M258 794h0M124 829h0M88 728h0M295 776h0M176 804h0M259 739h0M291 713h0M328 807h0M159 636h0M157 726h0M149 627h0M125 754h0M194 661h0M277 768h0M216 636h0M186 629h0M212 825h0M252 649h0M164 835h0M211 621h0M129 831h0M356 686h0M195 695h0M301 732h0M322 706h0M182 707h0M73 712h0M240 866h0M163 640h0M153 769h0M167 855h0M98 763h0M141 756h0M339 878h0M199 731h0M247 901h0M166 714h0M233 692h0M258 732h0M253 667h0M187 649h0M369 750h0M159 868h0M236 707h0M198 855h0M189 730h0M149 868h0M262 659h0M173 693h0M203 710h0M127 747h0M287 850h0M203 851h0M142 831h0M239 842h0"/>
<path class="G" d="M121 642h0M160 730h0M168 867h0M79 683h0M85 688h0M133 753h0M156 863h0M134 742h0M121 772h0M116 798h0M195 812h0M119 790h0M282 707h0M116 839h0M173 822h0M88 769h0M197 656h0M79 663h0M89 683h0M106 768h0M177 644h0M113 774h0M95 767h0M149 754h0M159 812h0M137 792h0M113 662h0M80 691h0"/>
<path class="O" d="M404 814h0M503 730h0M496 689h0M540 731h0M542 847h0M502 778h0M361 712h0M358 720h0M489 876h0M509 806h0M195 747h0M386 734h0M470 895h0M523 770h0M530 849h0M477 796h0M477 612h0M446 843h0M360 836h0M542 828h0M213 799h0M412 769h0M364 712h0M397 753h0M446 895h0M556 786h0M304 743h0M436 922h0M330 781h0M374 741h0M531 789h0M424 910h0M287 730h0M332 719h0M299 737h0M302 766h0M362 765h0M485 698h0M400 768h0M486 816h0M535 799h0M283 898h0M515 847h0M438 866h0M427 900h0M427 915h0M513 695h0M472 822h0M318 835h0M398 807h0M517 675h0M309 873h0M407 758h0M364 904h0M392 863h0M361 699h0M370 809h0M360 727h0M422 851h0M390 896h0M283 689h0M286 890h0M345 733h0M369 912h0M360 715h0M512 822h0M337 837h0M249 624h0M356 772h0M322 705h0M361 759h0M381 918h0M452 562h0M310 679h0M234 835h0M488 868h0M468 831h0M496 868h0M296 840h0M508 866h0M501 640h0M413 793h0M477 808h0M385 897h0M460 651h0M508 755h0M408 920h0M227 823h0M366 858h0M452 609h0M282 670h0M472 890h0M483 864h0M454 897h0M213 823h0M493 654h0M408 932h0M330 731h0M332 807h0M296 681h0M405 914h0M492 908h0M415 870h0M312 697h0M409 762h0M337 841h0M315 846h0M337 779h0M245 914h0M323 798h0M267 668h0M469 804h0M514 717h0M254 805h0M365 915h0M473 889h0M511 808h0M273 784h0M336 731h0M291 669h0M227 884h0M506 646h0M406 779h0M392 728h0M411 909h0M433 579h0M350 791h0M377 724h0M242 629h0M480 616h0M525 758h0M262 662h0M540 837h0M384 897h0M340 733h0M476 801h0M363 913h0M508 791h0M379 851h0M491 787h0M347 902h0M533 782h0M341 884h0M404 849h0M386 810h0M383 791h0M489 672h0M482 852h0M286 707h0M246 646h0"/>
<path class="O" d="M491 704h0M483 640h0M443 918h0M422 855h0M336 797h0M513 826h0M410 785h0M333 822h0M417 924h0M441 875h0M274 816h0M306 705h0M197 741h0M336 862h0M508 854h0M482 673h0M158 802h0M433 551h0M512 814h0M509 803h0M305 779h0M359 879h0M369 883h0M375 776h0M491 816h0M371 760h0M513 655h0M276 686h0M544 825h0M315 857h0M370 732h0M286 766h0M300 860h0M420 790h0M533 784h0M334 734h0M412 773h0M408 829h0M333 829h0M373 802h0M414 867h0M387 906h0M437 575h0M415 814h0M217 671h0M470 881h0M265 700h0M360 833h0M474 613h0M539 777h0M435 901h0M269 899h0M440 924h0M355 691h0M469 921h0M273 744h0M345 856h0M463 884h0M394 947h0M306 846h0M384 856h0M529 689h0M462 889h0M256 839h0M372 712h0M254 867h0M300 673h0M293 764h0M364 890h0M520 756h0M314 815h0M346 899h0M510 791h0M420 865h0M378 931h0M295 837h0M285 857h0M474 814h0M390 812h0M302 808h0M453 844h0M318 737h0M436 813h0M351 770h0M400 748h0M311 856h0M461 911h0M350 708h0M306 712h0M342 815h0M493 838h0M387 789h0M390 917h0M214 665h0M371 878h0M541 845h0M358 871h0M265 691h0M469 869h0M365 709h0M504 767h0M227 750h0M483 808h0M401 783h0M258 844h0M343 682h0M510 881h0M433 863h0M470 618h0M291 861h0M514 792h0M345 829h0M300 787h0M503 694h0M374 713h0M505 737h0M534 752h0M509 719h0M332 699h0M341 745h0M319 829h0M340 694h0M365 881h0M531 796h0M502 638h0M403 769h0M280 751h0M526 836h0M190 683h0M475 873h0M469 839h0M382 914h0M471 668h0M421 839h0M394 782h0M524 773h0M327 754h0M369 717h0M382 801h0M339 746h0M407 941h0"/>
<path class="G" d="M124 781h0M90 657h0M128 664h0M91 793h0M84 681h0M140 631h0M138 660h0M126 779h0M149 874h0M157 800h0M91 623h0M115 839h0M137 643h0M123 642h0M82 659h0M209 812h0M105 801h0M83 656h0M101 701h0M150 653h0M147 775h0M144 679h0M151 656h0M78 676h0M143 619h0M136 869h0M195 621h0M95 640h0M136 863h0M159 653h0M97 741h0M112 652h0M79 747h0M177 801h0M112 837h0M97 731h0M187 757h0M110 655h0M105 815h0M219 696h0M87 648h0M120 852h0M144 863h0M186 648h0"/>
<path class="B" d="M190 839h0M189 736h0M224 746h0M123 816h0M209 719h0M94 716h0M284 728h0M289 846h0M290 823h0M129 724h0M279 676h0M253 701h0M96 757h0M266 669h0M283 723h0M260 909h0M362 736h0M233 839h0M411 915h0M147 679h0M331 849h0M157 746h0M192 695h0M166 866h0M248 653h0M255 741h0M229 842h0M259 815h0M266 771h0M127 692h0M219 730h0M248 639h0M180 776h0M203 677h0M108 807h0M152 813h0M167 630h0M152 714h0M171 794h0M220 862h0M206 801h0M129 851h0M154 713h0M219 685h0M302 747h0M176 863h0M217 679h0M218 658h0M179 697h0M172 741h0M205 678h0M219 768h0M248 792h0M274 631h0M183 735h0M256 717h0M190 833h0M326 745h0M183 661h0M257 782h0M117 816h0M143 632h0M176 835h0M82 706h0M207 633h0"/>
<path class="B" d="M214 781h0M211 661h0M171 814h0M397 805h0M177 802h0M174 832h0M167 761h0M153 840h0M101 667h0M170 746h0M255 799h0M278 704h0M173 726h0M201 728h0M248 828h0M153 882h0M156 657h0M177 795h0M312 752h0M284 835h0M304 879h0M195 744h0M132 808h0M279 781h0M193 683h0M142 800h0M165 808h0M205 707h0M165 830h0M245 733h0M250 705h0M349 754h0M321 663h0M168 758h0M149 796h0M183 630h0M245 796h0M182 739h0M255 719h0M166 793h0M259 767h0M161 862h0M204 867h0M103 778h0M202 827h0M260 694h0M151 855h0M314 668h0M215 649h0M142 758h0M275 782h0M218 644h0M179 645h0M202 702h0M234 709h0M145 698h0M114 702h0M231 741h0M135 874h0M219 796h0M195 797h0M219 833h0M206 797h0M251 870h0M247 834h0M224 822h0M192 741h0M241 841h0M246 683h0M94 699h0M265 849h0M181 723h0M293 789h0"/>
<path class="O" d="M339 819h0M397 927h0M304 690h0M452 862h0M257 638h0M311 731h0M530 814h0M388 865h0M474 901h0M489 905h0M407 884h0M417 834h0M257 803h0M312 853h0M262 686h0M250 660h0M453 618h0M504 644h0M487 890h0M427 553h0M368 784h0M461 928h0M310 869h0M382 903h0M459 601h0M503 665h0M338 767h0M437 575h0M503 908h0M254 741h0M206 818h0M465 916h0M470 822h0M367 819h0M420 577h0M233 635h0M454 586h0M409 780h0M319 737h0M455 894h0M274 671h0M381 853h0M140 776h0M423 804h0M281 866h0M393 859h0M319 689h0M371 851h0M462 880h0M285 801h0M459 889h0M483 790h0M287 859h0M357 857h0M480 915h0M358 695h0M543 730h0M539 826h0M496 881h0M301 834h0M477 923h0M451 639h0M565 763h0M300 660h0M302 867h0M424 935h0M442 576h0M468 817h0M506 714h0M272 862h0M346 894h0M276 901h0M272 884h0M511 842h0M165 867h0M211 782h0M371 775h0M404 852h0M311 842h0M318 770h0M336 864h0M220 805h0M174 770h0M287 869h0M351 759h0M425 870h0M352 899h0M406 850h0M530 833h0M461 605h0M329 743h0M467 878h0M458 930h0M490 870h0M488 833h0M447 847h0M350 752h0M252 821h0M485 796h0M527 795h0M414 930h0M493 897h0M529 788h0M396 775h0M373 811h0M538 786h0M486 867h0M380 891h0M350 782h0M541 797h0M220 666h0M512 694h0M545 833h0M473 613h0M337 833h0M296 869h0M423 900h0M387 729h0M284 861h0M394 947h0M467 643h0M496 683h0M559 777h0M237 777h0M360 886h0M482 843h0M434 851h0M548 822h0M516 683h0M258 732h0M524 723h0M520 682h0M391 931h0M486 673h0M520 853h0M503 792h0M293 773h0M449 902h0M444 910h0M483 798h0M331 817h0M467 619h0M316 809h0M461 882h0"/>
<path class="G" d="M175 768h0M95 680h0M142 800h0M93 646h0M117 817h0M108 740h0M91 659h0M164 636h0M79 698h0M123 861h0M94 821h0M226 859h0M132 790h0M88 632h0M154 776h0M146 688h0M135 807h0M172 655h0M136 810h0M142 795h0M113 789h0M106 635h0M121 630h0M138 796h0M141 618h0M84 664h0M130 845h0M187 675h0M164 635h0M95 820h0M224 818h0M88 759h0M136 876h0"/>
<path class="B" d="M231 773h0M208 834h0M214 624h0M325 855h0M225 816h0M251 723h0M224 701h0M206 706h0M245 768h0M311 679h0M143 703h0M194 674h0M529 693h0M230 651h0M309 750h0M136 880h0M193 722h0M315 896h0M224 865h0M155 733h0M191 703h0M249 830h0M198 688h0M183 830h0M237 719h0M242 715h0M201 870h0M131 698h0M157 734h0M173 853h0M249 743h0M378 760h0M279 658h0M236 862h0M138 787h0M221 778h0M275 644h0M115 779h0M214 819h0M213 688h0M175 768h0M136 853h0M347 820h0M150 882h0M115 839h0M220 826h0M251 642h0M283 885h0M132 677h0M236 718h0M224 659h0M275 654h0M200 770h0M210 749h0M257 670h0M188 777h0M243 790h0M253 858h0M308 814h0M249 681h0M175 839h0M204 706h0M199 771h0M207 718h0M160 876h0M209 836h0M113 716h0M312 834h0M248 890h0M255 852h0"/>
<path class="G" d="M93 675h0M138 688h0M108 748h0M243 732h0M271 674h0M163 672h0M162 704h0M174 847h0M87 646h0M105 746h0M158 611h0M126 687h0M110 686h0M86 682h0M221 625h0M116 691h0M170 854h0M91 649h0M103 663h0M116 623h0M199 633h0M101 729h0M191 645h0M145 628h0M177 850h0M200 874h0"/>
<path class="O" d="M446 604h0M291 661h0M523 712h0M333 673h0M312 731h0M412 888h0M546 809h0M366 919h0M543 764h0M313 693h0M446 896h0M490 810h0M431 870h0M492 885h0M490 852h0M266 718h0M294 685h0M449 843h0M238 840h0M221 892h0M388 779h0M379 816h0M531 856h0M428 797h0M515 821h0M355 773h0M457 878h0M449 936h0M279 806h0M436 938h0M507 676h0M463 931h0M456 848h0M319 792h0M385 917h0M269 743h0M513 825h0M410 879h0M356 760h0M466 663h0M288 747h0M508 756h0M266 694h0M506 759h0M466 807h0M351 783h0M525 795h0M166 840h0M371 737h0M226 730h0M380 706h0M489 634h0M225 829h0M353 749h0M316 662h0M208 621h0M497 734h0M412 785h0M485 645h0M329 778h0M321 732h0M485 831h0M503 766h0M314 871h0M449 851h0M462 844h0M416 817h0M310 695h0M327 770h0M475 885h0M180 732h0M329 885h0M361 878h0M486 911h0M504 745h0M513 806h0M491 819h0M430 570h0M503 749h0M385 844h0M369 761h0M409 873h0M410 823h0M363 719h0M413 936h0M468 818h0M335 704h0M435 837h0M509 823h0M275 777h0M243 658h0M314 888h0M545 777h0M284 698h0M421 844h0M451 842h0M346 750h0M335 695h0M499 635h0M316 898h0M502 747h0M317 790h0M522 893h0M371 919h0M311 837h0M391 893h0M132 820h0M380 939h0M290 889h0M348 763h0M373 798h0M485 923h0M448 934h0M552 794h0M246 815h0M253 872h0M381 800h0M293 827h0M254 718h0M519 674h0M339 789h0M516 880h0M303 856h0M536 742h0M488 803h0M308 672h0M488 663h0M410 928h0M262 655h0M363 726h0M437 936h0M467 822h0M462 630h0M349 711h0M398 865h0M417 949h0M306 727h0M387 847h0M316 776h0M523 695h0M544 782h0M255 907h0M389 843h0M517 804h0M492 853h0M352 848h0M212 651h0M204 833h0M398 789h0M428 934h0M366 823h0M534 795h0M392 772h0M386 838h0"/>
<path class="B" d="M270 699h0M157 696h0M302 727h0M262 657h0M218 853h0M232 732h0M172 736h0M298 735h0M245 782h0M117 617h0M172 645h0M266 882h0M291 714h0M210 857h0M170 862h0M179 853h0M293 764h0M245 784h0M196 779h0M181 796h0M345 809h0M390 773h0M131 739h0M167 757h0M161 765h0M168 872h0M123 734h0M137 797h0M172 639h0M163 672h0M147 878h0M176 793h0M208 814h0M231 850h0M279 847h0M104 699h0M262 789h0M181 674h0M227 761h0M376 849h0M199 798h0M322 715h0M243 889h0M152 708h0M186 805h0M164 685h0M217 744h0M207 748h0M210 779h0M204 778h0M258 741h0M128 780h0M204 778h0M176 644h0M104 737h0M294 728h0M215 865h0M210 824h0M163 793h0M224 857h0M197 641h0M317 734h0M146 644h0M188 717h0M249 732h0M178 850h0M253 652h0M175 645h0M239 658h0M188 761h0M232 667h0M235 817h0M245 813h0M237 684h0M191 633h0M224 826h0M218 812h0M332 672h0"/>
<path class="O" d="M340 879h0M459 868h0M445 595h0M361 828h0M475 609h0M505 870h0M197 691h0M431 571h0M404 873h0M483 687h0M349 888h0M478 624h0M317 861h0M218 693h0M444 590h0M550 813h0M245 900h0M374 932h0M395 926h0M407 882h0M189 732h0M184 810h0M416 800h0M361 740h0M474 797h0M335 843h0M486 644h0M405 944h0M353 784h0M380 736h0M480 908h0M397 934h0M445 607h0M338 819h0M422 800h0M494 721h0M537 730h0M293 652h0M337 691h0M379 809h0M275 760h0M476 614h0M413 946h0M523 784h0M544 779h0M456 913h0M336 871h0M327 888h0M523 889h0M366 792h0M436 842h0M405 763h0M189 786h0M476 838h0M387 745h0M446 883h0M328 732h0M412 911h0M377 780h0M223 821h0M369 829h0M399 841h0M385 815h0M437 563h0M392 914h0M213 873h0M516 863h0M370 810h0M242 703h0M511 697h0M436 831h0M557 755h0M318 808h0M312 885h0M318 709h0M495 693h0M379 738h0M427 566h0M420 880h0M247 801h0M363 751h0M351 813h0M480 643h0M239 723h0M462 870h0M330 682h0M243 867h0M399 791h0M442 600h0M331 873h0M500 716h0M527 872h0M512 865h0M381 866h0M552 759h0M399 913h0M192 710h0M395 893h0M387 899h0M510 861h0M415 871h0M552 793h0M250 640h0M390 724h0M398 827h0M438 592h0M276 681h0M360 853h0M474 830h0M476 800h0M372 876h0M273 879h0M504 895h0M439 847h0M312 876h0M300 731h0M411 811h0M393 866h0M292 872h0M505 776h0M289 873h0M274 886h0M387 912h0M317 784h0M197 628h0M284 884h0M499 699h0M414 841h0M298 858h0M542 781h0M361 832h0M485 613h0"/>
<path class="G" d="M80 677h0M99 807h0M143 649h0M96 743h0M111 665h0M99 661h0M91 666h0M150 829h0M120 801h0M99 694h0M88 676h0M128 829h0M122 684h0M137 805h0M130 734h0M151 670h0M134 742h0M87 691h0M107 661h0M100 671h0M149 679h0M148 653h0M144 887h0M94 719h0M110 784h0M94 762h0M139 823h0M163 826h0M135 788h0M99 637h0M151 798h0M82 689h0M135 705h0M175 837h0M90 673h0M119 628h0M146 679h0M135 636h0M140 717h0M99 669h0"/>
<path class="O" d="M485 877h0M397 947h0M285 734h0M407 896h0M98 646h0M460 648h0M433 568h0M431 855h0M528 821h0M434 795h0M341 825h0M330 774h0M198 838h0M306 840h0M407 901h0M267 647h0M547 779h0M531 739h0M306 797h0M405 820h0M289 707h0M482 790h0M369 902h0M464 601h0M522 704h0M533 809h0M230 890h0M359 707h0M487 686h0M519 859h0M427 933h0M298 774h0M355 877h0M442 922h0M340 688h0M485 639h0M328 790h0M369 925h0M525 700h0M437 847h0M531 780h0M420 813h0M175 743h0M493 689h0M474 651h0M260 652h0M274 854h0M451 932h0M333 751h0M368 822h0M484 910h0M437 920h0M225 770h0M498 860h0M499 809h0M278 875h0M502 720h0M524 725h0M449 856h0M289 846h0M482 669h0M457 909h0M502 829h0M504 805h0M492 856h0M353 860h0M387 824h0M439 585h0M354 848h0M228 795h0M505 795h0M477 815h0M241 626h0M268 725h0M357 770h0M341 788h0M429 575h0M237 903h0M489 853h0M335 724h0M257 785h0M386 883h0M187 807h0M327 679h0M363 874h0M308 732h0M464 854h0M480 673h0M496 822h0M517 889h0M404 879h0M461 633h0M254 829h0M385 747h0M351 791h0M394 801h0M299 758h0M407 805h0M481 903h0M519 821h0M153 623h0M543 783h0M310 889h0M478 799h0M406 936h0M498 710h0M553 739h0M381 930h0M290 779h0M231 680h0M362 761h0M471 630h0M536 842h0M478 881h0M278 673h0M502 831h0M240 750h0M460 887h0M429 801h0M278 843h0M322 779h0M400 780h0M406 865h0M502 820h0M407 862h0M280 872h0M521 693h0M419 884h0M194 831h0M557 791h0M425 901h0M363 762h0M243 784h0M384 943h0M488 640h0M347 845h0M497 809h0M261 646h0M545 753h0M461 589h0M504 862h0M330 796h0M368 826h0M354 712h0M376 765h0M362 693h0M303 706h0M309 803h0M506 644h0"/>
<path class="B" d="M229 846h0M256 713h0M383 780h0M230 819h0M257 801h0M223 821h0M234 650h0M256 777h0M234 834h0M219 738h0M266 889h0M274 891h0M286 700h0M306 856h0M168 741h0M306 686h0M250 886h0M163 779h0M233 781h0M258 876h0M247 818h0M104 802h0M251 722h0M257 834h0M234 701h0M331 794h0M219 800h0M216 791h0M102 664h0M133 775h0M168 867h0M133 784h0M171 730h0M220 708h0M248 693h0M162 824h0M117 789h0M99 670h0M142 720h0M212 673h0M215 736h0M244 655h0M213 787h0M315 691h0M219 627h0M118 639h0M365 878h0M277 777h0M185 647h0M213 725h0M293 810h0M165 759h0M259 674h0M262 902h0M286 683h0M218 833h0M253 780h0M241 856h0M179 857h0M149 707h0M298 852h0M165 839h0M250 682h0M184 729h0M146 722h0M234 650h0M285 786h0M122 809h0M241 756h0M272 751h0M164 706h0"/>
<path class="G" d="M116 805h0M146 695h0M96 681h0M117 800h0M162 654h0M92 639h0M110 679h0M78 667h0M126 825h0M131 711h0M139 851h0M151 668h0M96 668h0M158 702h0M175 633h0M122 679h0M174 763h0M91 652h0M121 675h0M124 804h0M169 702h0M150 648h0M124 847h0M156 734h0M106 788h0M124 674h0M151 849h0M153 625h0M104 732h0M178 810h0"/>
<path class="O" d="M476 910h0M422 548h0M504 843h0M487 906h0M308 854h0M350 797h0M519 883h0M450 590h0M403 895h0M211 699h0M333 848h0M453 586h0M419 875h0M250 675h0M218 829h0M349 803h0M471 645h0M389 915h0M480 806h0M453 929h0M500 775h0M305 703h0M430 580h0M344 708h0M351 750h0M481 873h0M368 889h0M407 888h0M543 799h0M425 838h0M462 874h0M495 646h0M506 712h0M373 830h0M514 828h0M323 684h0M540 831h0M519 869h0M226 623h0M428 556h0M354 750h0M502 833h0M474 628h0M255 860h0M248 767h0M389 834h0M400 817h0M385 912h0M495 879h0M294 762h0M474 847h0M408 827h0M378 921h0M330 761h0M387 867h0M242 865h0M506 829h0M367 843h0M522 775h0M556 763h0M292 788h0M453 906h0M272 867h0M380 790h0M235 807h0M532 825h0M535 787h0M398 820h0M441 574h0M495 645h0M239 689h0M325 772h0M433 864h0M520 834h0M536 805h0M455 623h0M418 813h0M517 883h0M318 776h0M317 844h0M429 914h0M473 809h0M531 719h0M504 811h0M516 853h0M314 853h0M331 714h0M481 647h0M416 869h0M452 615h0M503 720h0M320 690h0M450 583h0M440 567h0M340 889h0M488 785h0M330 688h0M275 653h0M445 605h0M330 758h0M241 877h0M361 845h0M365 901h0M472 673h0M468 643h0M262 811h0M467 831h0M398 807h0M229 870h0M381 933h0M421 863h0M214 875h0M349 701h0M369 701h0M538 765h0M514 876h0M406 845h0M381 893h0M339 854h0M372 922h0M265 660h0M380 903h0M269 780h0M410 833h0M331 828h0M458 876h0M522 745h0M389 809h0M378 834h0M356 786h0M278 703h0M457 583h0M490 836h0M333 898h0M420 942h0M307 790h0M403 826h0M324 778h0M510 672h0M412 865h0M540 802h0M325 682h0M257 850h0M232 711h0M269 860h0M456 610h0M380 769h0"/>
<path class="G" d="M154 720h0M80 655h0M176 647h0M104 627h0M113 640h0M139 838h0M97 801h0M155 640h0M101 632h0M163 743h0M118 767h0M99 692h0M130 632h0M191 776h0M236 744h0M87 752h0M174 661h0M195 698h0M134 697h0M216 748h0M119 699h0M166 678h0M124 843h0M91 683h0M216 886h0M81 702h0M114 838h0M110 629h0M163 787h0M155 812h0M163 746h0M159 646h0"/>
<path class="B" d="M186 639h0M240 731h0M417 901h0M136 792h0M283 894h0M116 824h0M234 781h0M280 667h0M195 659h0M225 844h0M168 828h0M238 749h0M162 835h0M159 752h0M97 775h0M340 830h0M334 677h0M174 752h0M146 828h0M207 698h0M179 696h0M314 722h0M361 911h0M304 711h0M382 717h0M92 644h0M131 662h0M388 791h0M226 729h0M218 778h0M207 769h0M175 754h0M297 788h0M282 736h0M138 638h0M247 813h0M177 753h0M261 646h0M215 677h0M193 778h0M187 707h0M142 879h0M278 860h0M300 722h0M139 652h0M187 644h0M303 859h0M310 674h0M265 754h0M144 697h0M171 700h0M168 653h0M165 801h0M160 877h0M180 809h0M158 771h0M188 829h0M207 784h0M255 778h0M241 686h0M342 698h0M210 809h0M200 799h0M175 785h0M172 873h0M165 696h0M308 708h0M244 626h0M165 776h0M195 767h0M100 790h0"/>
<path class="O" d="M412 889h0M357 884h0M293 670h0M340 835h0M420 791h0M346 751h0M463 897h0M319 679h0M364 912h0M406 942h0M477 837h0M479 838h0M386 777h0M261 890h0M391 896h0M360 884h0M431 828h0M378 908h0M375 841h0M478 662h0M392 828h0M423 853h0M489 703h0M425 849h0M340 795h0M204 655h0M549 821h0M379 824h0M466 884h0M328 884h0M340 814h0M428 885h0M456 895h0M477 625h0M237 789h0M369 737h0M397 944h0M400 860h0M206 764h0M253 855h0M466 638h0M440 599h0M518 804h0M514 735h0M521 671h0M421 847h0M450 839h0M300 880h0M386 902h0M446 922h0M474 665h0M313 674h0M315 676h0M319 802h0M501 760h0M517 794h0M323 730h0M305 777h0M346 695h0M265 674h0M510 876h0M502 784h0M288 840h0M381 787h0M503 723h0M241 758h0M265 887h0M371 815h0M367 778h0M377 885h0M533 801h0M184 863h0M184 851h0M295 834h0M356 821h0M409 810h0M469 882h0M472 602h0M488 695h0M293 867h0M277 812h0M250 909h0M439 919h0M414 896h0M341 691h0M358 767h0M446 914h0M355 890h0M391 843h0M370 725h0M487 645h0M489 913h0M359 836h0M349 767h0M372 766h0M521 693h0M195 702h0M367 909h0M247 639h0M286 730h0M487 841h0M271 839h0M530 816h0M507 787h0M503 773h0M224 645h0M478 618h0M423 946h0M382 891h0M401 862h0M291 884h0M261 900h0M431 558h0M258 793h0M268 696h0M413 863h0M263 870h0M423 547h0M350 729h0M429 884h0M300 844h0M323 819h0M384 880h0M513 697h0M529 794h0M257 630h0M214 844h0M338 672h0M292 696h0M539 857h0M351 737h0M536 691h0M429 583h0M473 856h0M442 937h0M480 652h0M422 843h0M391 941h0M405 869h0M200 805h0M360 745h0M390 747h0M494 723h0M516 809h0M233 685h0M266 872h0M350 894h0M440 592h0M351 855h0M320 891h0M231 666h0M258 752h0M345 744h0M489 659h0"/>
<path class="B" d="M127 759h0M238 629h0M435 935h0M218 771h0M262 689h0M258 712h0M208 740h0M190 700h0M200 725h0M117 622h0M198 752h0M331 676h0M293 694h0M146 772h0M104 821h0M325 772h0M192 701h0M157 860h0M221 714h0M154 671h0M258 762h0M141 755h0M157 728h0M190 826h0M182 716h0M420 826h0M231 774h0M389 855h0M100 781h0M252 712h0M182 788h0M108 765h0M191 713h0M260 701h0M269 715h0M218 850h0M227 800h0M256 658h0M208 694h0M190 867h0M261 795h0M192 757h0M169 695h0M169 701h0M125 707h0M168 821h0M256 639h0M237 756h0M215 775h0M239 833h0M257 774h0M189 848h0M295 667h0M325 762h0M148 760h0M201 789h0M176 738h0M305 706h0M254 640h0M102 714h0M159 796h0M197 682h0M207 652h0"/>
<path class="G" d="M92 656h0M228 640h0M197 627h0M132 865h0M125 813h0M117 801h0M109 645h0M162 671h0M96 654h0M140 670h0M196 727h0M129 730h0M139 707h0M85 741h0M91 708h0M184 636h0M121 625h0M119 793h0M164 861h0M170 870h0M203 841h0M97 683h0M241 830h0M131 705h0M176 748h0M112 734h0M208 693h0M123 671h0M170 621h0M155 767h0M123 810h0M158 667h0M118 717h0"/>
<path class="B" d="M168 660h0M234 823h0M133 822h0M258 792h0M143 836h0M231 904h0M144 856h0M199 869h0M161 860h0M262 741h0M184 840h0M364 757h0M228 652h0M192 721h0M287 724h0M226 826h0M152 700h0M231 677h0M412 779h0M266 732h0M249 762h0M267 692h0M224 704h0M220 746h0M248 861h0M218 676h0M167 671h0M228 806h0M403 756h0M252 842h0M135 863h0M195 666h0M179 864h0M185 870h0M241 779h0M188 763h0M229 744h0M176 821h0M269 751h0M239 740h0M174 850h0M374 715h0M105 743h0M286 801h0M268 764h0M228 695h0M163 773h0M146 870h0M254 810h0M180 786h0M196 826h0M242 624h0M166 806h0M118 762h0M261 634h0M255 843h0M318 869h0M324 899h0M106 804h0M186 873h0M256 882h0M184 734h0M294 767h0M249 822h0M499 783h0M197 872h0M235 622h0M248 795h0M102 694h0M127 681h0M139 696h0"/>
<path class="G" d="M179 815h0M195 722h0M131 759h0M191 626h0M118 704h0M88 672h0M109 710h0M126 635h0M179 661h0M216 628h0M158 659h0M174 673h0M148 627h0M108 678h0M122 695h0M87 684h0M147 757h0M159 703h0M113 814h0M174 695h0M83 695h0M206 683h0M97 704h0M133 685h0M148 824h0M99 704h0M157 707h0M145 681h0M128 743h0M152 631h0M94 635h0M145 618h0M147 754h0M96 737h0M144 877h0M129 866h0"/>
<path class="O" d="M394 806h0M546 787h0M475 655h0M508 847h0M295 733h0M472 823h0M360 891h0M430 921h0M521 764h0M510 776h0M507 819h0M391 811h0M361 869h0M511 893h0M271 805h0M399 829h0M383 764h0M430 832h0M446 607h0M294 815h0M508 698h0M442 858h0M280 708h0M508 790h0M317 864h0M496 701h0M462 895h0M319 843h0M379 843h0M318 883h0M244 905h0M531 729h0M336 766h0M384 739h0M337 871h0M304 714h0M533 865h0M408 916h0M443 896h0M492 854h0M286 651h0M279 850h0M401 942h0M357 831h0M482 612h0M496 644h0M431 896h0M426 943h0M520 775h0M227 697h0M342 746h0M378 772h0M370 885h0M379 900h0M414 777h0M505 822h0M320 726h0M280 782h0M398 784h0M465 648h0M379 867h0M392 754h0M436 832h0M414 792h0M443 877h0M324 790h0M513 836h0M420 887h0M512 796h0M467 847h0M539 720h0M477 634h0M349 876h0M322 726h0M480 819h0M331 848h0M326 751h0M384 841h0M537 764h0M522 681h0M367 807h0M416 825h0M323 800h0M528 746h0M334 795h0M438 916h0M266 684h0M231 716h0M380 860h0M314 776h0M453 585h0M320 717h0M361 753h0M283 672h0M375 807h0M262 839h0M438 939h0M436 878h0M270 744h0M383 863h0M422 839h0M513 854h0M336 713h0M485 894h0M475 681h0M480 871h0M332 845h0M513 889h0M503 833h0M475 647h0M437 567h0M451 615h0M388 825h0M369 931h0M393 793h0M359 871h0M337 672h0M314 671h0M528 873h0M418 909h0M326 851h0M463 642h0M525 831h0M208 819h0M454 876h0M539 787h0M432 937h0M358 818h0M490 850h0M420 933h0M434 552h0M376 715h0M376 880h0M201 854h0M424 863h0M304 835h0M403 856h0M406 875h0M336 770h0M367 811h0M490 700h0M419 820h0M309 748h0"/>
<path class="B" d="M309 847h0M395 774h0M256 734h0M264 657h0M249 838h0M247 830h0M141 827h0M153 660h0M135 838h0M248 677h0M188 657h0M224 867h0M146 848h0M268 730h0M335 691h0M138 837h0M207 631h0M179 750h0M244 840h0M139 736h0M187 820h0M292 781h0M139 848h0M263 751h0M213 734h0M247 792h0M229 739h0M479 692h0M200 717h0M204 875h0M198 799h0M238 713h0M133 714h0M163 681h0M314 886h0M266 831h0M245 812h0M77 692h0M313 732h0M240 707h0M240 831h0M138 707h0M317 758h0M147 715h0M366 748h0M248 833h0M231 771h0M96 714h0M181 831h0M311 790h0M293 674h0M183 855h0M200 698h0M273 693h0M196 706h0M558 764h0M213 727h0M176 642h0M154 677h0M241 623h0M226 849h0M299 653h0M269 777h0M227 885h0M111 676h0M213 672h0M169 772h0M311 870h0"/>
<path class="O" d="M352 856h0M320 737h0M156 639h0M429 559h0M536 708h0M376 797h0M254 649h0M326 727h0M309 822h0M360 835h0M296 846h0M290 704h0M325 688h0M496 686h0M434 812h0M363 720h0M382 856h0M428 805h0M363 868h0M439 856h0M419 935h0M447 907h0M539 737h0M345 809h0M223 757h0M307 866h0M346 699h0M354 743h0M456 893h0M246 791h0M426 933h0M451 882h0M359 797h0M414 819h0M467 668h0M403 921h0M321 744h0M328 707h0M552 769h0M527 788h0M477 828h0M546 776h0M361 834h0M538 814h0M400 748h0M239 857h0M466 824h0M292 733h0M433 928h0M179 750h0M210 871h0M541 813h0M517 822h0M489 802h0M300 816h0M392 769h0M431 555h0M492 681h0M472 650h0M472 861h0M309 752h0M507 719h0M491 699h0M502 824h0M401 950h0M393 811h0M308 767h0M320 865h0M271 706h0M456 639h0M354 769h0M534 839h0M456 612h0M557 777h0M476 845h0M468 655h0M413 913h0M188 729h0M285 877h0M379 918h0M469 607h0M432 853h0M186 664h0M498 774h0M410 916h0M445 905h0M291 701h0M322 728h0M324 828h0M389 787h0M285 655h0M287 751h0M299 701h0M310 833h0M520 771h0M261 717h0M378 939h0M279 734h0M474 813h0M376 789h0M504 828h0M317 696h0M532 704h0M345 814h0M330 898h0M481 797h0M463 858h0M396 908h0M365 879h0M269 861h0M512 878h0M315 678h0M319 852h0M459 598h0M471 856h0M531 737h0M397 841h0M507 832h0M242 812h0M474 636h0M469 597h0M339 721h0M455 596h0M499 709h0M392 746h0M522 667h0M306 826h0M408 782h0M251 838h0M398 783h0M480 845h0M299 688h0M550 754h0M264 906h0M497 666h0M231 661h0M298 857h0M523 779h0M337 798h0M480 677h0M519 849h0M472 903h0M427 543h0"/>
<path class="G" d="M88 632h0M86 674h0M186 656h0M100 685h0M227 689h0M155 667h0M160 844h0M174 689h0M87 633h0M162 661h0M121 664h0M370 735h0M161 837h0M127 692h0M138 726h0M127 631h0M100 719h0M118 735h0M104 719h0M85 707h0M83 691h0M109 739h0M104 710h0M126 760h0M147 652h0M206 726h0M142 653h0M114 620h0M245 643h0M120 757h0M94 675h0M178 794h0M163 862h0M128 747h0M315 675h0M139 779h0M176 796h0M114 819h0M139 680h0"/>
<path class="G" d="M143 790h0M102 732h0M102 691h0M118 704h0M170 630h0M170 656h0M131 683h0M139 667h0M83 744h0M111 755h0M104 767h0M129 693h0M169 777h0M76 701h0M110 773h0M131 708h0M181 718h0M144 642h0M123 773h0M114 680h0M103 778h0M143 827h0M105 667h0M143 761h0M117 823h0M172 733h0M169 796h0M127 691h0M92 734h0M143 620h0M104 800h0M171 692h0M150 613h0M121 699h0M109 833h0M105 708h0M111 644h0M91 756h0M92 671h0"/>
<path class="B" d="M361 751h0M184 742h0M150 742h0M144 751h0M130 767h0M139 747h0M106 757h0M222 682h0M226 685h0M205 802h0M124 793h0M204 868h0M171 836h0M350 768h0M240 725h0M211 683h0M162 843h0M525 776h0M323 872h0M225 778h0M372 730h0M187 769h0M219 864h0M533 848h0M220 765h0M236 835h0M252 838h0M359 918h0M111 838h0M207 834h0M246 653h0M168 835h0M275 726h0M252 754h0M309 846h0M207 681h0M482 925h0M292 648h0M190 808h0M215 675h0M200 836h0M202 659h0M169 769h0M294 666h0M154 779h0M252 714h0M305 756h0M164 837h0M242 813h0M284 773h0M144 859h0M299 768h0M414 925h0M301 768h0M328 669h0M161 613h0M206 787h0M290 759h0M249 882h0M302 784h0M187 744h0M274 747h0M145 867h0M133 737h0M202 761h0M282 876h0M222 628h0M329 794h0M327 688h0M200 784h0M238 680h0"/>
<path class="O" d="M485 872h0M423 907h0M307 676h0M478 683h0M509 717h0M443 880h0M478 848h0M335 676h0M302 785h0M551 759h0M181 629h0M471 637h0M466 616h0M148 699h0M407 757h0M344 728h0M466 665h0M238 863h0M450 917h0M304 704h0M201 769h0M512 813h0M439 942h0M416 774h0M228 785h0M365 792h0M376 872h0M509 708h0M304 847h0M527 699h0M302 829h0M296 791h0M535 834h0M396 930h0M426 838h0M550 755h0M380 901h0M193 784h0M324 718h0M226 746h0M368 798h0M263 873h0M340 791h0M362 730h0M287 702h0M495 656h0M506 729h0M318 806h0M450 625h0M506 834h0M325 783h0M400 844h0M259 655h0M349 789h0M378 916h0M507 733h0M545 730h0M335 793h0M409 807h0M524 736h0M418 787h0M255 683h0M313 660h0M225 755h0M511 732h0M546 790h0M260 764h0M366 850h0M397 904h0M358 709h0M454 600h0M359 757h0M550 801h0M306 750h0M300 732h0M521 834h0M509 887h0M329 724h0M306 707h0M404 942h0M380 727h0M244 907h0M342 781h0M312 827h0M444 938h0M497 892h0M415 851h0M353 733h0M464 898h0M402 778h0M354 843h0M456 888h0M350 722h0M352 893h0M504 761h0M342 798h0M546 760h0M508 777h0M478 658h0M532 791h0M496 774h0M403 768h0M396 948h0M516 838h0M531 696h0M447 597h0M266 753h0M423 835h0M468 605h0M372 844h0M260 735h0M324 820h0M394 831h0M331 841h0M364 893h0M400 943h0M502 818h0M362 874h0M251 861h0M272 841h0M500 916h0M378 929h0M370 704h0M269 744h0M212 787h0M461 601h0M383 860h0M280 831h0M391 880h0M340 702h0M266 877h0M323 749h0M337 703h0M306 851h0M525 738h0M445 927h0M378 746h0M505 843h0M377 832h0M453 883h0"/>
<path class="B" d="M175 656h0M216 846h0M334 712h0M141 850h0M209 656h0M232 797h0M175 662h0M195 809h0M194 769h0M91 748h0M197 684h0M425 882h0M231 792h0M227 688h0M233 830h0M278 710h0M100 751h0M119 838h0M211 797h0M128 691h0M310 730h0M178 814h0M156 675h0M208 853h0M215 801h0M152 830h0M242 809h0M223 885h0M211 747h0M255 801h0M301 698h0M260 834h0M517 881h0M184 737h0M221 846h0M250 636h0M330 723h0M188 861h0M206 856h0M323 790h0M158 832h0M363 869h0M408 758h0M182 639h0M142 867h0M224 645h0M167 680h0M241 755h0M148 733h0M145 779h0M254 698h0M249 829h0M202 740h0M157 774h0M309 706h0M241 746h0M251 638h0M238 894h0M209 876h0M465 931h0M254 783h0M244 662h0M266 684h0M344 711h0M263 649h0M279 901h0M275 864h0M257 817h0"/>
<path class="O" d="M476 600h0M340 865h0M297 834h0M429 911h0M495 699h0M534 763h0M278 841h0M396 852h0M335 741h0M398 812h0M422 550h0M223 824h0M501 845h0M522 862h0M219 796h0M331 764h0M512 853h0M387 884h0M370 698h0M247 651h0M496 656h0M243 778h0M505 824h0M483 874h0M476 876h0M388 746h0M350 878h0M237 897h0M402 950h0M426 552h0M531 801h0M516 719h0M306 759h0M358 714h0M483 804h0M328 873h0M297 810h0M466 886h0M286 870h0M431 816h0M345 719h0M371 847h0M517 819h0M419 557h0M308 868h0M518 763h0M538 753h0M275 764h0M473 640h0M293 870h0M348 746h0M425 556h0M369 853h0M385 786h0M478 890h0M416 880h0M380 909h0M295 658h0M458 888h0M424 943h0M326 861h0M491 709h0M475 924h0M344 781h0M512 851h0M176 839h0M526 836h0M448 580h0M443 603h0M288 830h0M448 585h0M433 566h0M351 911h0M478 800h0M354 834h0M361 708h0M359 689h0M289 733h0M542 782h0M301 875h0M370 802h0M321 761h0M384 807h0M223 877h0M511 671h0M535 844h0M476 888h0M505 741h0M412 947h0M466 653h0M406 831h0M469 872h0M365 879h0M388 827h0M468 627h0M521 783h0M443 574h0M206 826h0M504 693h0M483 638h0M322 832h0M416 766h0M401 893h0M272 889h0M475 881h0M430 809h0M492 633h0M522 690h0M411 906h0M530 687h0M347 682h0M287 895h0M514 805h0M367 889h0M243 871h0M327 837h0M317 878h0M539 842h0M546 834h0M444 608h0M362 894h0M145 869h0M385 880h0M520 796h0M384 928h0M523 838h0M418 893h0M236 824h0M457 890h0M251 668h0M361 734h0M510 656h0M392 928h0M547 820h0M283 864h0M426 563h0M480 898h0M437 887h0M496 691h0M182 815h0M226 839h0M309 907h0M352 860h0M523 860h0M440 929h0M403 855h0M421 819h0M281 837h0M354 741h0M513 750h0M417 927h0M360 875h0M494 665h0"/>
<path class="G" d="M104 609h0M146 786h0M164 800h0M89 712h0M130 654h0M136 677h0M158 656h0M155 719h0M92 632h0M95 670h0M167 809h0M115 760h0M103 750h0M161 809h0M96 796h0M114 641h0M128 705h0M192 677h0M133 661h0M96 679h0M94 742h0M110 816h0M212 689h0M178 852h0M74 681h0M144 840h0M173 628h0M169 692h0M119 621h0"/>
<path class="O" d="M398 811h0M484 820h0M427 888h0M319 801h0M307 800h0M436 583h0M503 765h0M367 873h0M284 731h0M382 877h0M326 691h0M465 916h0M464 912h0M302 887h0M526 825h0M266 710h0M348 760h0M337 676h0M477 800h0M314 804h0M518 661h0M238 728h0M253 867h0M467 632h0M286 685h0M402 878h0M301 733h0M514 898h0M289 781h0M412 800h0M523 824h0M290 681h0M308 836h0M283 840h0M277 657h0M367 812h0M412 786h0M274 774h0M459 623h0M397 911h0M269 881h0M340 825h0M352 880h0M536 855h0M218 776h0M340 700h0M396 841h0M276 882h0M290 739h0M455 626h0M192 761h0M398 933h0M543 802h0M477 619h0M338 811h0M208 757h0M335 777h0M266 859h0M301 775h0M521 741h0M437 556h0M417 555h0M531 857h0M394 753h0M484 675h0M487 808h0M319 668h0M261 835h0M401 895h0M319 877h0M219 866h0M438 589h0M537 776h0M431 934h0M466 662h0M271 896h0M350 905h0M251 863h0M459 843h0M452 607h0M255 811h0M513 818h0M275 839h0M380 936h0M538 825h0M332 670h0M505 743h0M466 932h0M361 906h0M468 873h0M373 772h0M373 841h0M234 649h0M449 893h0M419 784h0M359 896h0M534 803h0M425 944h0M492 654h0M238 659h0M447 838h0M297 750h0M335 841h0M387 816h0M264 750h0M182 750h0M336 749h0M396 743h0M432 559h0M442 594h0M492 648h0M236 772h0M366 891h0M346 784h0M476 894h0M473 853h0M286 826h0M361 785h0M286 749h0M535 827h0M422 885h0M519 802h0M391 753h0M341 756h0M295 712h0M366 769h0M362 706h0M276 837h0M402 754h0M415 851h0M306 712h0M420 785h0M459 901h0M389 887h0M413 794h0M503 691h0M456 868h0M462 881h0"/>
<path class="G" d="M128 690h0M98 698h0M119 711h0M144 839h0M134 800h0M145 827h0M213 689h0M85 724h0M290 655h0M148 658h0M154 774h0M123 696h0M142 849h0M203 666h0M247 679h0M101 663h0M136 818h0M141 749h0M174 837h0M123 824h0M74 713h0M83 728h0M174 730h0M102 713h0M125 669h0M135 859h0M155 710h0M95 734h0M168 665h0M88 677h0M110 762h0M110 626h0M153 697h0M142 865h0M227 700h0M137 621h0M181 707h0M108 661h0M109 801h0M192 823h0M85 669h0M126 739h0M133 715h0M155 734h0"/>
<path class="B" d="M159 846h0M273 683h0M223 856h0M177 630h0M261 899h0M144 741h0M166 826h0M189 779h0M227 690h0M113 786h0M134 769h0M109 740h0M202 745h0M217 754h0M170 742h0M227 671h0M139 869h0M255 647h0M161 849h0M220 884h0M148 821h0M260 748h0M159 658h0M275 661h0M194 624h0M273 736h0M265 726h0M236 632h0M137 865h0M200 725h0M216 699h0M241 664h0M226 752h0M120 856h0M151 753h0M260 788h0M176 829h0M137 842h0M228 837h0M183 716h0M283 899h0M215 694h0M287 753h0M148 826h0M189 763h0M217 623h0M330 726h0M162 877h0M168 810h0M101 776h0M179 690h0M270 739h0M168 680h0M251 902h0M189 872h0M181 764h0M233 718h0M216 744h0M277 857h0M271 738h0M182 805h0M340 891h0M187 771h0M112 706h0M186 793h0M151 846h0M219 628h0M243 668h0"/>
<path class="O" d="M437 566h0M202 721h0M535 863h0M524 692h0M527 783h0M359 791h0M534 734h0M533 709h0M196 865h0M508 661h0M230 636h0M311 688h0M345 711h0M395 726h0M456 626h0M370 714h0M420 925h0M236 632h0M413 952h0M512 676h0M351 800h0M514 757h0M330 715h0M386 700h0M509 858h0M482 921h0M500 832h0M481 695h0M387 896h0M491 716h0M411 888h0M313 784h0M224 735h0M264 881h0M530 694h0M500 795h0M547 801h0M524 882h0M320 777h0M459 887h0M293 755h0M379 744h0M521 725h0M325 664h0M409 785h0M425 802h0M495 889h0M434 823h0M338 794h0M442 919h0M265 671h0M501 824h0M528 781h0M404 910h0M293 866h0M282 707h0M506 781h0M489 690h0M254 659h0M526 709h0M287 801h0M296 666h0M500 793h0M530 756h0M404 813h0M382 777h0M399 943h0M519 670h0M255 790h0M468 644h0M398 851h0M398 876h0M408 887h0M348 802h0M476 679h0M374 924h0M545 853h0M344 786h0M486 878h0M502 648h0M502 856h0M513 739h0M371 835h0M398 803h0M423 547h0M386 930h0M357 800h0M345 743h0M229 884h0M455 604h0M233 870h0M267 681h0M272 868h0M448 902h0M502 804h0M498 912h0M472 830h0M370 846h0M340 810h0M375 726h0M483 610h0M502 689h0M518 664h0M275 757h0M420 890h0M306 822h0M308 661h0M503 870h0M520 811h0M464 607h0M406 914h0M509 835h0M460 856h0M501 685h0M459 909h0M464 903h0M508 903h0M532 760h0M408 763h0M541 761h0M338 889h0M271 871h0M429 550h0M327 801h0M451 842h0M425 894h0M142 751h0M434 838h0M459 903h0M520 665h0M349 716h0M238 817h0M482 852h0M516 796h0"/>
<path class="G" d="M112 645h0M151 642h0M103 694h0M95 784h0M141 856h0M201 819h0M110 710h0M113 793h0M162 613h0M111 777h0M109 674h0M162 703h0M92 635h0M122 617h0M106 626h0M117 722h0M134 792h0M188 648h0M129 660h0M135 759h0M234 721h0M238 624h0M138 622h0M132 679h0M166 648h0M174 859h0M184 839h0M99 624h0M123 790h0M100 714h0M111 676h0M132 764h0M152 710h0M162 681h0M99 723h0M150 712h0M167 704h0M80 735h0M156 638h0M127 668h0"/>
<path class="B" d="M218 670h0M269 710h0M288 655h0M204 659h0M180 664h0M173 750h0M257 666h0M254 829h0M234 641h0M211 620h0M256 753h0M189 799h0M206 845h0M268 901h0M131 833h0M248 652h0M191 694h0M216 841h0M136 752h0M323 814h0M149 656h0M186 745h0M166 661h0M229 658h0M110 763h0M205 764h0M218 869h0M122 848h0M139 802h0M246 760h0M358 829h0M162 716h0M248 636h0M128 821h0M247 762h0M440 875h0M112 661h0M350 908h0M180 803h0M119 711h0M127 685h0M196 825h0M155 695h0M281 696h0M262 753h0M290 848h0M164 760h0M181 789h0M313 868h0M199 678h0M203 693h0M201 686h0M186 770h0M175 820h0M202 785h0M263 836h0M320 688h0M170 809h0M270 671h0M202 696h0M107 750h0M175 648h0M241 824h0M271 876h0M297 681h0M157 643h0M148 843h0M175 766h0M198 664h0M244 783h0M128 846h0M246 801h0M270 738h0M120 788h0M170 737h0M189 844h0"/>
<path class="G" d="M96 743h0M129 715h0M122 745h0M170 725h0M167 655h0M141 643h0M183 787h0M151 715h0M93 778h0M163 716h0M139 756h0M181 809h0M145 668h0M148 735h0M175 680h0M126 695h0M97 721h0M116 627h0M118 699h0M146 795h0M134 794h0M132 726h0M135 613h0M140 763h0M150 760h0M118 829h0M205 787h0M155 662h0M81 651h0M107 612h0M166 854h0M178 670h0M135 740h0"/>
<path class="B" d="M147 615h0M228 883h0M224 860h0M202 826h0M259 641h0M304 706h0M253 629h0M234 636h0M489 784h0M239 663h0M250 664h0M228 892h0M217 712h0M228 841h0M180 852h0M240 760h0M176 624h0M319 840h0M166 811h0M248 744h0M206 816h0M210 861h0M176 769h0M260 687h0M215 890h0M144 771h0M290 777h0M215 765h0M105 713h0M218 747h0M178 848h0M306 671h0M219 795h0M148 674h0M139 684h0M202 849h0M266 871h0M181 760h0M177 769h0M141 793h0M167 765h0M262 845h0M360 742h0M113 736h0M131 802h0M244 691h0M123 826h0M221 762h0M234 846h0M263 715h0M304 889h0M259 799h0M272 650h0M272 875h0M260 699h0M152 800h0M148 861h0M121 750h0M201 650h0M167 799h0M245 665h0M138 763h0M246 755h0M173 812h0M247 875h0M339 770h0M134 846h0M224 675h0M239 816h0M192 647h0"/>
<path class="O" d="M318 811h0M486 666h0M312 709h0M515 810h0M492 693h0M470 606h0M402 883h0M363 782h0M385 862h0M496 692h0M500 704h0M236 794h0M276 849h0M304 723h0M193 809h0M482 676h0M417 803h0M479 640h0M486 912h0M532 721h0M490 902h0M500 758h0M313 852h0M373 809h0M440 877h0M211 793h0M194 863h0M425 894h0M350 853h0M317 787h0M357 753h0M514 870h0M338 698h0M558 756h0M262 633h0M526 724h0M257 692h0M487 876h0M490 797h0M503 825h0M393 916h0M330 687h0M478 884h0M364 777h0M541 844h0M442 604h0M349 909h0M324 868h0M533 777h0M452 911h0M524 834h0M328 823h0M484 704h0M518 812h0M381 915h0M399 782h0M315 842h0M322 750h0M288 718h0M472 864h0M277 850h0M524 870h0M480 885h0M415 756h0M353 694h0M151 748h0M387 885h0M353 881h0M385 831h0M320 685h0M276 765h0M314 809h0M160 847h0M395 765h0M474 654h0M265 643h0M485 662h0M325 710h0M432 869h0M284 843h0M425 937h0M501 898h0M384 871h0M511 904h0M249 690h0M486 923h0M473 631h0M244 776h0M465 601h0M348 768h0M325 768h0M530 691h0M334 813h0M535 839h0M536 827h0M344 713h0M400 752h0M393 874h0M328 781h0M491 887h0M451 930h0M220 654h0M342 824h0M497 812h0M245 653h0M485 842h0M511 793h0M232 759h0M496 872h0M453 607h0M485 889h0M222 850h0M379 878h0M341 889h0M241 614h0M405 851h0M208 707h0M445 569h0M345 794h0M492 678h0M516 849h0M330 762h0M518 771h0M254 671h0M304 749h0M407 915h0M535 780h0M526 701h0M503 829h0M349 794h0M484 634h0M468 619h0M519 779h0M319 899h0M456 636h0M255 633h0M380 842h0M280 708h0M460 637h0M506 735h0M525 822h0M464 643h0M282 902h0M313 890h0M401 901h0M463 600h0M428 907h0"/>
<path class="O" d="M340 807h0M305 679h0M459 932h0M309 859h0M432 932h0M284 686h0M322 707h0M339 807h0M328 776h0M546 811h0M494 899h0M403 768h0M523 819h0M266 901h0M498 912h0M403 850h0M436 880h0M474 850h0M387 782h0M325 832h0M383 898h0M424 813h0M365 752h0M461 615h0M467 876h0M237 875h0M508 876h0M411 868h0M267 730h0M539 816h0M242 820h0M546 774h0M517 875h0M437 932h0M180 774h0M312 883h0M461 610h0M371 800h0M238 657h0M334 746h0M261 848h0M494 825h0M378 722h0M375 842h0M540 817h0M366 889h0M393 754h0M378 747h0M383 869h0M520 703h0M502 901h0M295 678h0M179 722h0M403 955h0M370 708h0M461 594h0M521 841h0M447 892h0M158 717h0M391 721h0M478 924h0M245 886h0M402 901h0M292 748h0M369 829h0M372 751h0M332 779h0M430 810h0M440 879h0M502 764h0M201 752h0M537 813h0M466 628h0M428 827h0M512 789h0M528 803h0M542 755h0M412 912h0M505 831h0M490 650h0M429 938h0M489 803h0M482 642h0M431 845h0M401 793h0M492 688h0M445 882h0M467 812h0M285 739h0M453 841h0M456 922h0M349 697h0M252 650h0M289 848h0M376 726h0M364 899h0M272 668h0M298 694h0M221 853h0M487 706h0M479 650h0M499 814h0M402 887h0M433 833h0M363 881h0M364 809h0M255 764h0M521 671h0M291 675h0M409 814h0M344 770h0M332 856h0M354 850h0M402 829h0M539 780h0M326 813h0M500 904h0M306 851h0M269 815h0M356 717h0M256 761h0M491 886h0M438 858h0M348 803h0M447 850h0M399 890h0M302 805h0M432 831h0M522 760h0M278 645h0M304 846h0M521 747h0M480 859h0M536 742h0M390 805h0M294 851h0M345 706h0M350 900h0M526 698h0M518 757h0M383 898h0M396 945h0M503 757h0M233 692h0M439 927h0M486 706h0"/>
<path class="G" d="M87 692h0M151 618h0M129 814h0M118 708h0M106 700h0M128 817h0M166 758h0M133 744h0M120 732h0M152 675h0M121 655h0M146 738h0M129 668h0M153 643h0M182 708h0M86 726h0M159 690h0M134 835h0M123 786h0M132 728h0M172 774h0M98 630h0M106 693h0M138 830h0M187 698h0M133 700h0M85 642h0M97 755h0M129 843h0M139 764h0M136 612h0M142 698h0M178 738h0M83 703h0M146 677h0M102 733h0M180 638h0"/>
<path class="B" d="M236 839h0M242 826h0M197 761h0M284 805h0M229 820h0M248 657h0M333 703h0M151 808h0M236 894h0M229 744h0M243 755h0M179 755h0M131 792h0M106 772h0M174 814h0M340 702h0M294 884h0M179 761h0M147 762h0M280 752h0M284 743h0M142 850h0M328 891h0M212 782h0M203 794h0M260 737h0M180 637h0M196 830h0M134 830h0M271 807h0M206 831h0M134 741h0M202 703h0M332 743h0M121 688h0M152 881h0M185 864h0M312 694h0M145 706h0M282 668h0M187 727h0M140 615h0M424 803h0M218 734h0M328 738h0M207 846h0M224 665h0M168 750h0M110 628h0M170 828h0M180 722h0M249 873h0M532 806h0M272 761h0M204 644h0M313 659h0M140 720h0M184 810h0M344 825h0M186 698h0M309 778h0M265 862h0M221 633h0M163 832h0M136 758h0M168 796h0M216 664h0"/>
<path class="G" d="M130 613h0M124 638h0M176 697h0M198 661h0M106 757h0M141 630h0M165 771h0M149 778h0M174 640h0M88 671h0M198 673h0M144 640h0M103 716h0M134 613h0M106 675h0M159 675h0M178 871h0M234 628h0M76 698h0M135 877h0M148 640h0M101 655h0M104 678h0M107 694h0M129 644h0M115 634h0M101 651h0M98 704h0M153 752h0M125 824h0M159 635h0M134 830h0M132 667h0M131 719h0M103 631h0M171 753h0M108 655h0M129 697h0M169 678h0M118 852h0M100 685h0M130 818h0"/>
<path class="B" d="M278 685h0M222 666h0M259 785h0M198 762h0M95 737h0M201 835h0M242 634h0M208 684h0M159 671h0M319 880h0M145 758h0M244 726h0M384 933h0M226 667h0M123 766h0M261 670h0M179 788h0M229 860h0M241 753h0M295 834h0M191 859h0M250 673h0M159 648h0M266 676h0M184 806h0M257 817h0M293 871h0M158 727h0M225 716h0M196 753h0M196 706h0M203 756h0M323 882h0M94 706h0M82 678h0M313 819h0M173 858h0M183 779h0M218 710h0M229 883h0M315 795h0M237 749h0M222 776h0M137 634h0M142 859h0M269 690h0M134 846h0M127 671h0M218 874h0M177 733h0M160 824h0M235 827h0M212 820h0M242 764h0M139 695h0M257 813h0M130 729h0M116 756h0M259 679h0M256 632h0M136 865h0M208 734h0"/>
<path class="O" d="M277 663h0M450 840h0M366 879h0M426 905h0M458 657h0M229 900h0M326 797h0M507 881h0M298 879h0M305 859h0M479 684h0M415 823h0M379 718h0M455 608h0M364 845h0M428 840h0M396 847h0M518 678h0M474 800h0M255 640h0M456 898h0M114 792h0M245 839h0M454 631h0M516 753h0M389 952h0M512 862h0M341 798h0M487 681h0M487 916h0M449 932h0M475 859h0M539 839h0M444 850h0M323 863h0M489 787h0M324 822h0M465 607h0M505 749h0M504 906h0M471 625h0M387 816h0M253 776h0M538 709h0M481 842h0M302 743h0M498 837h0M505 658h0M332 898h0M326 784h0M260 835h0M407 869h0M347 843h0M508 793h0M326 776h0M473 913h0M520 698h0M516 684h0M376 743h0M388 760h0M201 707h0M421 845h0M422 881h0M328 790h0M327 856h0M209 632h0M481 776h0M341 700h0M493 875h0M413 786h0M489 664h0M406 874h0M406 753h0M538 745h0M494 883h0M503 796h0M542 768h0M527 722h0M310 800h0M490 708h0M376 929h0M359 737h0M490 870h0M489 787h0M326 876h0M402 854h0M423 553h0M392 782h0M367 924h0M346 840h0M450 847h0M522 827h0M387 885h0M186 802h0M477 628h0M428 936h0M277 694h0M550 804h0M258 889h0M525 665h0M431 930h0M498 695h0M479 804h0M468 833h0M334 868h0M194 827h0M496 804h0M256 856h0M402 935h0M471 872h0M439 840h0M426 568h0M464 841h0M386 860h0M562 765h0M355 886h0M266 720h0M265 728h0M355 776h0M286 653h0M370 817h0M382 819h0M339 692h0M485 672h0M335 895h0M318 776h0M527 824h0M522 816h0M377 896h0M313 781h0M386 842h0M531 792h0M372 838h0M484 841h0M375 900h0M496 791h0M454 582h0M329 819h0M256 860h0M377 729h0M299 656h0M337 773h0M143 875h0M160 877h0M349 883h0M404 942h0"/>
<path class="G" d="M112 632h0M92 654h0M92 771h0M105 782h0M172 695h0M113 813h0M104 610h0M134 848h0M85 670h0M171 760h0M137 717h0M190 825h0M120 750h0M140 699h0M154 796h0M132 663h0M103 808h0M109 804h0M158 772h0M155 612h0M221 711h0M161 829h0M163 776h0M129 706h0M160 626h0M127 639h0M175 829h0M79 730h0M105 681h0M96 730h0M87 653h0"/>
<path class="O" d="M234 625h0M509 873h0M210 778h0M341 745h0M532 846h0M304 836h0M428 566h0M462 647h0M526 813h0M453 603h0M239 768h0M453 871h0M406 865h0M351 882h0M443 575h0M405 906h0M239 700h0M391 730h0M467 904h0M470 843h0M335 726h0M321 774h0M254 828h0M473 852h0M454 606h0M367 802h0M244 709h0M255 698h0M259 895h0M518 780h0M378 762h0M538 794h0M468 876h0M376 781h0M455 609h0M541 788h0M472 880h0M469 877h0M383 888h0M541 837h0M327 865h0M347 695h0M445 574h0M412 856h0M492 785h0M332 768h0M357 743h0M202 852h0M411 944h0M495 632h0M558 781h0M526 814h0M382 823h0M536 813h0M368 771h0M546 751h0M441 574h0M516 774h0M344 717h0M528 845h0M323 751h0M327 683h0M280 699h0M349 721h0M497 832h0M290 696h0M451 610h0M423 797h0M520 727h0M502 841h0M491 789h0M497 715h0M331 722h0M400 760h0M535 755h0M255 902h0M172 740h0M528 769h0M298 722h0M559 765h0M355 830h0M451 927h0M509 802h0M242 858h0M389 854h0M400 840h0M486 703h0M454 618h0M226 669h0M154 698h0M369 880h0M414 952h0M334 793h0M476 646h0M521 717h0M422 907h0M368 866h0M306 779h0M501 831h0M510 740h0M474 677h0M430 805h0M443 924h0M296 653h0M414 927h0M440 850h0M444 916h0M507 699h0M357 848h0M309 834h0M502 900h0M384 905h0M403 819h0M482 790h0M548 800h0M516 754h0M261 745h0M354 752h0M310 885h0M447 580h0M478 654h0M486 653h0M304 668h0M439 594h0M445 907h0M303 898h0M323 725h0M357 708h0M522 694h0M530 838h0M439 590h0M381 818h0M216 646h0M392 935h0M371 792h0M198 771h0M325 787h0M248 897h0M226 740h0M288 877h0M495 640h0M267 668h0M372 750h0M492 793h0M463 618h0M281 688h0M493 670h0M452 839h0M270 788h0M386 878h0M502 726h0M446 860h0M364 823h0"/>
<path class="B" d="M188 717h0M261 686h0M247 739h0M221 713h0M248 690h0M245 906h0M155 710h0M219 760h0M295 707h0M159 803h0M361 713h0M178 820h0M333 734h0M322 781h0M199 643h0M214 714h0M167 708h0M505 892h0M144 784h0M239 845h0M408 952h0M289 746h0M137 809h0M173 628h0M205 789h0M205 783h0M170 760h0M210 772h0M133 822h0M174 751h0M307 807h0M183 638h0M137 622h0M204 644h0M223 707h0M169 866h0M165 754h0M366 698h0M242 872h0M217 644h0M182 671h0M212 865h0M236 733h0M280 849h0M160 611h0M415 810h0M202 628h0M338 690h0M86 739h0M204 761h0M147 779h0M165 851h0M206 804h0M187 759h0M210 652h0M195 809h0M207 649h0M199 687h0M200 638h0M146 637h0M147 781h0M243 898h0M213 871h0M196 811h0M212 868h0M261 793h0"/>
<path class="O" d="M318 786h0M538 770h0M306 796h0M521 715h0M478 861h0M312 667h0M434 892h0M409 908h0M497 698h0"/>
<path class="B" d="M225 729h0M290 866h0M270 887h0M237 771h0M162 861h0M182 810h0M334 768h0"/>
<path class="G" d="M94 720h0M192 801h0"/>
</g>
<g clip-path="url(#cBR)">
<path class="G" d="M775 594h0M789 606h0M798 668h0M786 677h0M801 724h0M716 687h0M822 684h0M752 610h0M807 616h0M766 627h0M748 730h0M778 588h0M823 629h0M704 716h0M804 735h0M815 650h0M830 680h0M698 765h0M732 748h0M762 608h0M779 573h0M726 641h0M731 654h0M731 766h0M746 675h0M703 693h0M749 655h0M730 749h0M755 736h0M745 693h0"/>
<path class="B" d="M840 806h0M916 842h0M836 766h0M797 714h0M853 867h0M865 818h0M856 679h0M907 868h0M859 746h0M924 913h0M869 763h0M774 788h0M781 838h0M883 768h0M798 730h0M802 758h0M842 637h0M857 822h0M830 697h0M720 737h0M724 652h0M895 881h0M899 703h0M756 714h0M838 700h0M945 783h0M772 824h0M962 905h0M1101 803h0M826 679h0M829 713h0M891 664h0M824 817h0M870 872h0M723 681h0M802 776h0M779 831h0M851 807h0M723 783h0M757 755h0M778 744h0M743 740h0M829 680h0M820 693h0M924 765h0M802 739h0M850 628h0M847 670h0M796 766h0M747 700h0M948 761h0M773 604h0M760 794h0"/>
<path class="O" d="M887 843h0M1153 792h0M791 822h0M980 892h0M956 936h0M951 834h0M972 807h0M795 830h0M825 683h0M1149 818h0M1100 847h0M909 692h0M920 764h0M1154 822h0M942 771h0M934 853h0M899 771h0M889 852h0M873 857h0M955 778h0M1041 617h0M873 777h0M867 693h0M1087 660h0M1106 926h0M1144 792h0M1083 875h0M1092 849h0M896 858h0M922 756h0M1098 681h0M1026 948h0M1118 732h0M1121 765h0M960 870h0M940 866h0M968 791h0M896 691h0M1021 591h0M1068 670h0M1125 896h0M1107 802h0M935 910h0M990 904h0M1122 686h0M762 781h0M1022 941h0M955 759h0M967 897h0M1012 889h0M1161 869h0M899 669h0M965 914h0M1103 821h0M980 548h0M871 875h0M978 558h0M1170 828h0M912 841h0M1147 794h0M851 820h0M756 822h0M983 935h0M1128 863h0M882 863h0M995 582h0M1127 753h0M1172 807h0M884 634h0M1143 788h0M983 831h0M1076 828h0M912 696h0M1151 785h0M1038 604h0M1143 789h0M1096 916h0M869 647h0M1035 877h0M1032 952h0M987 809h0M896 692h0M894 797h0M915 706h0M925 759h0M877 855h0M968 881h0M1101 755h0M1019 906h0M886 763h0M896 705h0M803 734h0M1125 766h0M951 831h0M1083 822h0M923 775h0M1046 873h0M952 769h0M949 901h0M788 834h0M917 848h0M929 844h0M1081 824h0M959 848h0M998 587h0M947 723h0M1035 635h0M1114 793h0M1086 893h0M875 661h0M948 721h0M923 805h0M986 863h0M1020 620h0M992 815h0M972 925h0M982 786h0M1114 797h0M995 859h0M933 703h0M1117 773h0M1149 812h0M1079 909h0M1041 634h0M1035 613h0M826 805h0M1125 672h0M1106 785h0M1152 740h0M1092 904h0M889 723h0M742 762h0M1042 630h0M1147 878h0M1146 743h0M949 747h0M872 798h0M958 842h0M1156 864h0M1126 791h0M1076 697h0M974 768h0M873 619h0M848 836h0M937 794h0M852 726h0M874 890h0M951 746h0M909 679h0M1053 907h0M1067 891h0M880 655h0M1079 914h0M994 861h0M1130 763h0M1023 888h0M1071 660h0M924 751h0M878 735h0M1026 598h0M1026 611h0M1088 670h0M880 639h0M1114 882h0M967 849h0M898 899h0M1114 885h0"/>
<path class="O" d="M1105 675h0M1148 898h0M1134 778h0M810 780h0M817 769h0M1028 637h0M897 760h0M1116 707h0M935 740h0M1106 759h0M1144 733h0M981 566h0M1091 722h0M1108 827h0M1119 802h0M1142 837h0M1020 609h0M1075 922h0M969 943h0M837 769h0M993 874h0M935 861h0M1152 855h0M926 759h0M1057 662h0M996 801h0M1102 704h0M981 549h0M1035 873h0M1102 752h0M1169 798h0M945 763h0M1145 800h0M954 888h0M1102 772h0M1092 816h0M1086 832h0M1007 935h0M910 786h0M810 839h0M1092 852h0M1064 881h0M1065 649h0M953 780h0M994 832h0M995 940h0M1119 768h0M987 791h0M1150 753h0M1150 784h0M1026 602h0M1100 822h0M1131 708h0M1141 807h0M1100 860h0M1030 876h0M955 871h0M792 768h0M770 823h0M1143 800h0M1000 568h0M1155 819h0M920 886h0M762 753h0M1093 688h0M862 633h0M958 781h0M976 893h0M1089 887h0M830 754h0M1014 897h0M942 798h0M961 825h0M960 810h0M864 843h0M927 781h0M862 724h0M1116 742h0M985 924h0M1072 657h0M954 770h0M953 824h0M937 821h0M1022 881h0M1083 656h0M932 796h0M1110 744h0M1150 873h0M1010 903h0M882 755h0M792 786h0M1122 813h0M1027 892h0M1048 884h0M969 912h0M789 815h0M1013 909h0M1093 658h0M1102 923h0M921 768h0M1010 900h0M1030 632h0M939 905h0M1166 865h0M901 774h0M908 876h0M1072 876h0M1058 897h0M956 855h0M1008 868h0M1095 639h0M965 735h0M830 770h0M906 885h0M1008 836h0M1048 910h0M1158 854h0M1150 873h0M999 581h0M1116 847h0M1039 612h0M821 778h0M1038 943h0M1108 871h0M783 748h0M1110 877h0M915 845h0M1151 819h0M982 776h0M1110 911h0M960 814h0M919 777h0M982 863h0M1113 683h0M964 779h0M1047 944h0M1087 824h0M997 906h0M1017 952h0M859 690h0M952 749h0M1058 650h0M836 643h0M943 864h0M1133 737h0M916 854h0M1029 930h0M1067 882h0M828 833h0M907 706h0M924 859h0M902 704h0M1025 628h0M1000 896h0M1043 876h0M936 911h0M954 777h0M967 860h0M940 805h0"/>
<path class="B" d="M876 731h0M748 756h0M834 750h0M876 626h0M800 736h0M876 632h0M868 690h0M781 843h0M784 728h0M865 676h0M823 795h0M906 833h0M796 825h0M800 670h0M866 648h0M834 727h0M711 769h0M896 706h0M847 738h0M811 813h0M811 666h0M827 714h0M1099 775h0M816 757h0M787 654h0M766 745h0M876 869h0M904 785h0M800 770h0M889 678h0M968 754h0M802 588h0M848 748h0M915 779h0M876 883h0M807 761h0M785 743h0M834 736h0M912 692h0M735 779h0M868 856h0M786 741h0M819 787h0M870 761h0M871 876h0M769 710h0M756 668h0M804 729h0M938 866h0M859 638h0M853 660h0M804 734h0M889 806h0M788 791h0M907 715h0M911 898h0M861 666h0M778 805h0M875 723h0M926 870h0M819 619h0M824 738h0M746 703h0M908 741h0M815 839h0M883 794h0M845 708h0M818 655h0"/>
<path class="G" d="M786 594h0M695 748h0M751 672h0M782 615h0M732 621h0M817 628h0M819 684h0M763 683h0M769 655h0M736 695h0M792 586h0M732 647h0M828 616h0M715 763h0M751 656h0M709 763h0M807 599h0M702 708h0M824 625h0M744 703h0M744 651h0M840 675h0M823 600h0"/>
<path class="G" d="M731 639h0M803 583h0M764 696h0M748 609h0M850 633h0M784 756h0M791 625h0M796 619h0M745 636h0M765 597h0M696 760h0M842 606h0M786 650h0M751 745h0M759 658h0M820 586h0M794 651h0M857 665h0M784 646h0M841 615h0M763 599h0M747 615h0M836 726h0M756 718h0M844 700h0M836 703h0M788 611h0M776 703h0M818 626h0M835 610h0M824 603h0M721 693h0M772 620h0M777 617h0M855 657h0M803 612h0"/>
<path class="B" d="M843 683h0M734 779h0M846 763h0M857 645h0M799 800h0M815 687h0M795 764h0M705 764h0M914 689h0M852 866h0M798 629h0M795 837h0M776 737h0M767 785h0M799 700h0M855 745h0M927 918h0M885 748h0M829 742h0M826 790h0M790 735h0M743 801h0M740 787h0M785 825h0M829 747h0M758 682h0M920 898h0M881 787h0M840 695h0M736 715h0M754 728h0M896 725h0M852 819h0M797 777h0M703 764h0M873 719h0M826 840h0M825 796h0M741 792h0M797 820h0M837 729h0M905 722h0M858 861h0M844 786h0M925 858h0M1035 918h0M827 813h0M910 688h0M834 787h0M882 782h0M828 739h0M852 670h0M844 828h0M796 702h0M755 775h0M817 726h0M719 780h0M892 690h0M870 751h0M846 738h0M855 634h0M792 772h0M883 767h0M905 710h0M909 856h0"/>
<path class="O" d="M1149 736h0M1168 810h0M992 577h0M1081 838h0M1078 661h0M871 686h0M1068 865h0M893 774h0M913 750h0M1119 769h0M995 597h0M1079 664h0M941 828h0M989 946h0M1139 816h0M931 834h0M995 851h0M876 711h0M938 785h0M1108 887h0M1105 784h0M904 855h0M853 818h0M1118 716h0M850 791h0M1006 937h0M1076 702h0M923 852h0M1095 681h0M1075 924h0M1014 931h0M960 770h0M1029 936h0M898 704h0M910 743h0M1164 838h0M1125 782h0M966 808h0M1127 814h0M872 653h0M875 799h0M1069 864h0M810 830h0M1105 810h0M879 635h0M1097 930h0M975 831h0M1139 719h0M998 942h0M1076 678h0M1070 691h0M820 711h0M881 718h0M945 910h0M1171 790h0M1017 899h0M869 660h0M977 559h0M910 843h0M957 745h0M936 732h0M1128 864h0M1155 854h0M848 655h0M1038 901h0M1038 603h0M882 775h0M1043 938h0M966 736h0M880 694h0M1117 663h0M942 789h0M1131 807h0M856 798h0M1095 913h0M1116 773h0M1110 800h0M1037 939h0M1069 844h0M1075 923h0M1125 897h0M1097 687h0M1008 587h0M1033 618h0M1093 918h0M1056 851h0M1079 864h0M1117 725h0M1128 714h0M1120 669h0M870 668h0M923 744h0M986 810h0M1011 861h0M923 891h0M1064 941h0M1112 709h0M923 891h0M1006 888h0M1121 888h0M898 704h0M802 830h0M925 861h0M1163 825h0M1003 914h0M932 840h0M1128 741h0M1053 923h0M1146 853h0M960 898h0M956 826h0M787 804h0M1036 605h0M1053 646h0M1092 671h0M1065 878h0M996 944h0M836 624h0M948 748h0M1106 786h0M1148 804h0M999 807h0M1071 684h0M969 933h0M1090 901h0M871 758h0M1024 848h0M1094 712h0M923 874h0M1158 740h0M1109 833h0M1101 666h0M1105 868h0M906 789h0M948 878h0M1028 859h0M1052 618h0M1017 591h0M1118 845h0M877 727h0M1174 811h0M783 678h0M991 833h0M1140 876h0M907 772h0M1036 622h0M1137 820h0M723 711h0M1146 822h0"/>
<path class="O" d="M985 845h0M1012 932h0M965 838h0M979 813h0M1044 635h0M820 808h0M1118 803h0M1159 804h0M1018 904h0M948 769h0M961 897h0M1133 705h0M1070 933h0M886 885h0M989 577h0M1033 907h0M1055 905h0M1078 920h0M958 812h0M1056 915h0M1157 881h0M1047 621h0M1152 792h0M1026 866h0M842 730h0M1012 925h0M947 786h0M1150 829h0M1004 913h0M1104 694h0M996 810h0M1132 692h0M1118 689h0M939 828h0M987 832h0M1111 788h0M1148 866h0M1116 666h0M1168 835h0M878 623h0M971 905h0M1086 863h0M1110 678h0M979 865h0M1177 835h0M1124 686h0M878 689h0M1073 889h0M920 713h0M1090 694h0M1068 912h0M1138 864h0M1142 894h0M1009 575h0M1002 867h0M1025 606h0M993 901h0M884 687h0M1108 824h0M1119 819h0M1096 741h0M966 823h0M926 825h0M1084 644h0M994 588h0M1079 877h0M936 812h0M1075 700h0M1110 713h0M1126 691h0M877 759h0M917 905h0M981 945h0M1117 754h0M1011 887h0M934 871h0M1166 765h0M872 694h0M909 755h0M1114 774h0M1133 789h0M871 636h0M1103 785h0M1046 879h0M952 723h0M1106 687h0M920 716h0M946 832h0M1108 754h0M1092 861h0M986 889h0M1164 856h0M1121 855h0M905 793h0M995 880h0M897 770h0M1169 867h0M915 788h0M957 873h0M961 854h0M1171 831h0M1156 814h0M1078 644h0M1044 910h0M865 763h0M1094 921h0M974 798h0M1167 846h0M1111 883h0M1117 742h0M1111 780h0M772 774h0M920 840h0M1045 894h0M1085 692h0M982 923h0M823 676h0M936 806h0M974 939h0M1171 809h0M1024 941h0M1105 885h0M1082 670h0M952 770h0M1016 850h0M1125 680h0M1026 603h0M926 719h0M948 748h0M987 848h0M1159 818h0M1016 912h0M1003 941h0M1090 698h0M1087 816h0M1004 854h0M869 771h0M1112 657h0M1166 802h0M1114 694h0M983 785h0M1132 693h0M1123 672h0M1033 902h0M877 798h0M1108 675h0M1081 926h0M947 844h0M1118 895h0M1128 844h0M1138 697h0M872 767h0M989 910h0M1043 623h0M868 657h0M1170 781h0M1104 867h0M983 941h0"/>
<path class="B" d="M792 767h0M764 719h0M796 774h0M798 785h0M751 816h0M822 682h0M749 747h0M826 748h0M910 706h0M749 736h0M874 627h0M867 660h0M772 724h0M767 709h0M782 735h0M868 625h0M839 773h0M887 759h0M872 669h0M745 761h0M804 704h0M940 867h0M794 713h0M768 770h0M768 760h0M760 639h0M885 681h0M867 860h0M847 800h0M884 831h0M747 653h0M846 789h0M886 723h0M916 862h0M883 775h0M768 788h0M916 749h0M877 826h0M913 883h0M780 768h0M751 809h0M855 814h0M897 765h0M920 709h0M764 772h0M823 716h0M762 700h0M873 886h0M889 688h0M859 692h0"/>
<path class="G" d="M706 735h0M720 655h0M772 651h0M811 665h0M765 677h0M736 794h0M756 720h0M802 692h0M795 713h0M743 767h0M720 660h0M709 685h0M827 625h0M772 711h0M758 639h0M714 771h0M706 700h0M809 720h0M731 710h0M691 728h0M702 751h0M775 665h0M799 708h0M736 664h0M751 597h0M739 614h0M735 678h0M697 706h0M786 678h0M722 692h0M838 831h0M700 736h0M778 726h0M771 587h0M779 677h0M688 730h0M789 582h0M816 623h0M768 614h0M780 611h0M813 687h0M830 589h0"/>
<path class="B" d="M775 754h0M836 694h0M821 746h0M820 794h0M808 708h0M779 793h0M847 715h0M866 751h0M741 753h0M945 729h0M752 748h0M1132 853h0M871 766h0M761 750h0M835 763h0M844 739h0M886 895h0M784 777h0M793 758h0M871 797h0M809 794h0M923 887h0M843 742h0M830 816h0M791 835h0M801 740h0M798 723h0M760 710h0M732 727h0M827 763h0M1056 911h0M881 874h0M747 810h0M767 833h0M752 724h0M877 779h0M747 807h0M843 607h0M873 687h0M761 765h0M718 740h0M844 746h0M956 888h0M880 757h0M859 723h0M902 869h0M831 707h0M792 771h0M840 792h0M756 763h0M794 773h0M773 823h0M748 692h0M828 770h0M914 900h0M912 700h0M740 763h0M875 800h0M870 885h0M743 816h0M871 735h0M809 679h0M960 803h0M807 620h0M916 696h0M903 708h0M757 736h0M802 650h0M746 808h0"/>
<path class="O" d="M987 575h0M935 798h0M1058 887h0M986 908h0M956 776h0M874 885h0M1156 806h0M848 839h0M1022 939h0M1049 903h0M1093 750h0M1077 686h0M931 898h0M1080 876h0M892 837h0M1113 922h0M1114 807h0M1095 800h0M914 726h0M923 790h0M972 822h0M1051 866h0M1096 919h0M1130 839h0M1068 842h0M1015 870h0M1039 911h0M917 730h0M1081 887h0M1090 867h0M1112 826h0M1021 932h0M901 889h0M975 778h0M902 730h0M858 858h0M959 866h0M999 576h0M1112 772h0M1125 887h0M855 683h0M1071 641h0M919 710h0M1109 816h0M931 788h0M964 742h0M816 822h0M1091 728h0M1035 627h0M923 702h0M1128 769h0M868 821h0M1016 619h0M937 723h0M1149 867h0M1083 703h0M945 762h0M1059 628h0M953 783h0M1042 905h0M1108 706h0M920 816h0M959 937h0M1125 778h0M1052 950h0M1040 625h0M815 646h0M959 871h0M1053 614h0M945 740h0M927 775h0M963 745h0M1032 920h0M1108 681h0M938 881h0M1132 758h0M1120 825h0M853 777h0M1115 770h0M991 557h0M1061 907h0M952 809h0M852 836h0M1020 609h0M984 835h0M1135 801h0M949 768h0M1130 833h0M1102 866h0M884 785h0M850 807h0M1053 930h0M1122 720h0M905 800h0M999 942h0M884 773h0M1021 883h0M877 823h0M1120 852h0M1016 926h0M1138 829h0M860 692h0M1002 935h0M840 779h0M994 872h0M1108 838h0M836 840h0M964 767h0M1134 695h0M947 923h0M929 753h0M998 803h0M944 794h0M1118 807h0M810 812h0M1091 930h0M907 744h0M994 811h0M990 941h0M884 725h0M948 788h0M901 752h0M907 821h0M1103 783h0M1139 700h0M924 728h0M851 636h0M907 798h0M979 558h0M865 653h0M1113 900h0M903 889h0M1167 840h0M958 741h0M863 659h0M1166 766h0M927 713h0M941 748h0M1168 782h0M1110 758h0M815 703h0M1126 791h0M1141 796h0M1064 854h0M1080 707h0M1076 860h0M1099 885h0M932 812h0M1119 880h0M1167 865h0M1132 750h0M944 797h0"/>
<path class="G" d="M824 637h0M753 638h0M728 680h0M736 719h0M745 718h0M720 710h0M786 594h0M744 723h0M800 620h0M725 716h0M824 680h0M728 713h0M721 738h0M775 666h0M785 597h0M816 687h0M688 719h0M740 758h0M690 712h0M733 754h0M740 620h0M738 703h0M781 767h0M810 625h0M820 625h0M745 752h0M811 622h0M805 594h0M747 658h0"/>
<path class="O" d="M1059 878h0M1018 880h0M869 726h0M1136 912h0M890 865h0M926 738h0M1061 944h0M886 657h0M944 869h0M1131 836h0M1100 901h0M1161 827h0M900 753h0M957 819h0M986 823h0M917 759h0M1071 669h0M985 944h0M1078 883h0M1132 844h0M949 899h0M962 923h0M984 864h0M1076 673h0M1087 647h0M992 792h0M863 754h0M1128 911h0M881 800h0M1141 765h0M934 897h0M1137 794h0M1126 819h0M932 718h0M1049 883h0M1011 867h0M954 938h0M1131 835h0M1176 828h0M1059 944h0M1139 805h0M1028 591h0M975 834h0M1082 877h0M872 647h0M846 826h0M1073 691h0M975 883h0M1040 638h0M1082 937h0M991 861h0M991 852h0M968 945h0M1029 594h0M1166 747h0M1008 914h0M1094 655h0M1055 917h0M1135 707h0M1117 682h0M1164 835h0M1150 727h0M1092 701h0M1104 739h0M1080 930h0M1038 943h0M875 668h0M1038 942h0M989 571h0M1154 828h0M1025 609h0M729 779h0M908 823h0M1122 873h0M998 894h0M856 831h0M882 843h0M1026 927h0M1023 883h0M1118 718h0M827 794h0M969 894h0M1123 725h0M999 576h0M1162 883h0M966 810h0M939 799h0M935 750h0M1020 908h0M934 787h0M1142 695h0M1116 760h0M918 745h0M1073 877h0M914 907h0M955 807h0M1064 863h0M1094 921h0M1013 585h0M979 775h0M875 726h0M921 702h0M929 870h0M890 859h0M918 902h0M1144 772h0M914 768h0M1026 899h0M1122 801h0M929 879h0M1026 928h0M944 723h0M1098 918h0M1120 906h0M743 752h0M1152 766h0M1071 638h0M931 839h0M903 721h0M973 879h0M1152 869h0M885 723h0M1062 841h0M976 792h0M808 749h0M923 702h0M964 914h0M917 780h0M1163 765h0M907 730h0M891 821h0M940 845h0M1110 802h0M988 854h0M1027 608h0M845 753h0M884 877h0M1140 791h0M987 883h0M1023 597h0M832 790h0M902 823h0M943 763h0M905 853h0M964 803h0M1126 760h0M1088 698h0M1029 616h0"/>
<path class="G" d="M830 632h0M799 728h0M711 715h0M798 644h0M835 645h0M732 664h0M738 774h0M813 699h0M781 618h0M809 670h0M812 677h0M752 633h0M781 649h0M836 657h0M686 734h0M796 641h0M755 716h0M740 763h0M790 607h0M855 620h0M758 640h0M812 633h0M849 610h0M796 741h0M824 596h0M759 631h0M690 729h0M837 627h0M783 629h0M812 578h0M734 635h0M818 637h0M768 819h0M747 757h0M815 599h0M733 632h0M749 639h0"/>
<path class="B" d="M826 691h0M898 730h0M886 853h0M747 823h0M858 810h0M855 655h0M806 596h0M905 667h0M862 751h0M823 717h0M1127 673h0M754 794h0M802 771h0M931 908h0M855 820h0M852 838h0M971 812h0M829 715h0M839 738h0M798 683h0M886 905h0M857 658h0M862 799h0M861 674h0M770 797h0M726 751h0M802 790h0M759 635h0M856 827h0M873 734h0M819 756h0M847 645h0M845 701h0M823 779h0M892 863h0M932 919h0M743 756h0M745 737h0M800 712h0M849 814h0M889 657h0M842 834h0M830 778h0M779 778h0M822 640h0M888 752h0M855 800h0M791 753h0M849 787h0M884 898h0M799 745h0M986 835h0M775 746h0M792 725h0M715 707h0M904 797h0M745 779h0M850 776h0M736 688h0M765 827h0M902 802h0M933 913h0M836 610h0M867 648h0M748 727h0"/>
<path class="G" d="M724 696h0M727 632h0M869 692h0M834 639h0M745 738h0M747 640h0M757 596h0M786 576h0M720 683h0M784 586h0M711 750h0M829 632h0M747 676h0M816 614h0M810 678h0M773 609h0M787 659h0M721 756h0M744 665h0M807 612h0M740 679h0M754 658h0M722 776h0M782 582h0M750 690h0M757 677h0M736 670h0M768 737h0M700 739h0M864 664h0M766 611h0M806 605h0"/>
<path class="O" d="M1107 853h0M942 910h0M965 737h0M983 821h0M980 796h0M949 779h0M908 830h0M1010 601h0M1117 688h0M1067 628h0M1089 650h0M1092 885h0M879 804h0M914 717h0M1143 870h0M1172 844h0M886 769h0M932 714h0M1114 871h0M856 817h0M994 576h0M966 919h0M962 938h0M1091 815h0M763 791h0M1066 936h0M1019 931h0M1065 923h0M1144 819h0M1132 766h0M1137 854h0M1012 917h0M1137 739h0M982 811h0M954 781h0M1167 775h0M975 806h0M883 738h0M1036 887h0M1022 896h0M1083 675h0M819 752h0M935 785h0M1016 909h0M916 894h0M1159 755h0M891 831h0M1139 726h0M951 762h0M868 836h0M1071 905h0M1092 659h0M866 806h0M1005 866h0M1079 701h0M866 848h0M1047 911h0M861 835h0M1056 886h0M910 704h0M795 760h0M1062 944h0M921 793h0M988 560h0M1118 796h0M937 735h0M919 904h0M1015 864h0M1072 667h0M1020 925h0M1055 906h0M1009 589h0M839 830h0M1115 888h0M1035 877h0M888 699h0M1034 621h0M1157 840h0M1125 723h0M933 704h0M934 899h0M1076 872h0M912 733h0M865 731h0M1055 853h0M1149 869h0M1167 811h0M745 798h0M1115 920h0M905 867h0M1071 883h0M953 814h0M1135 713h0M1058 623h0M1109 799h0M1131 751h0M1120 827h0M933 709h0M916 836h0M917 763h0M1169 791h0M939 737h0M978 917h0M1072 653h0M1112 844h0M890 878h0M1156 790h0M1164 834h0M881 806h0M978 553h0M1018 882h0M1047 648h0M901 857h0M1103 758h0M1071 893h0M1088 905h0M1168 784h0M1146 832h0M841 820h0M1135 764h0M1004 597h0M924 770h0M1118 701h0M986 818h0M800 745h0M1142 818h0M895 898h0M1154 779h0M901 736h0M892 836h0M1089 661h0M1104 888h0M1133 797h0M741 718h0M979 875h0M985 939h0M940 856h0M1013 928h0M1152 851h0M1066 649h0M936 819h0M961 779h0M962 794h0M1076 684h0M1056 878h0M1101 700h0M836 837h0M1051 939h0M1108 661h0"/>
<path class="B" d="M776 833h0M923 782h0M765 832h0M867 862h0M839 731h0M812 779h0M787 809h0M899 854h0M1014 603h0M785 804h0M753 789h0M861 775h0M883 658h0M882 807h0M884 802h0M767 663h0M868 885h0M897 862h0M769 815h0M810 825h0M822 787h0M793 744h0M767 710h0M756 813h0M865 668h0M890 757h0M808 595h0M745 753h0M739 769h0M829 673h0M896 766h0M962 868h0M831 724h0M748 661h0M796 722h0M832 822h0M854 691h0M870 814h0M870 655h0M847 675h0M865 743h0M847 723h0M864 817h0M899 677h0M923 905h0M790 655h0M768 636h0M861 717h0M711 773h0M812 752h0M774 681h0M859 683h0M884 659h0M877 673h0M793 764h0M813 820h0M831 790h0M862 763h0M825 791h0M812 701h0M749 760h0M743 728h0M805 833h0M814 768h0M776 836h0M810 833h0M901 689h0M896 644h0M748 783h0"/>
<path class="G" d="M764 699h0M761 620h0M782 621h0M727 669h0M761 688h0M830 740h0M809 747h0M772 691h0M856 612h0M738 689h0M719 684h0M726 701h0M710 712h0M775 669h0M781 643h0M816 592h0M863 624h0M764 618h0M778 582h0M758 697h0M844 666h0M744 647h0M788 616h0M823 640h0M736 636h0M735 684h0M796 598h0M759 699h0M776 665h0M806 713h0M697 743h0M737 649h0M756 620h0M790 707h0M755 728h0M874 671h0M740 709h0M742 752h0M788 650h0M791 690h0M823 601h0M829 678h0M782 716h0M734 768h0M772 585h0"/>
<path class="B" d="M886 626h0M1033 910h0M833 726h0M850 665h0M859 843h0M797 768h0M824 733h0M836 775h0M930 908h0M906 763h0M780 795h0M779 724h0M818 730h0M819 762h0M901 726h0M834 727h0M908 885h0M774 633h0M1101 750h0M902 661h0M887 847h0M769 818h0M917 698h0M865 843h0M787 734h0M760 735h0M848 792h0M998 813h0M957 776h0M810 808h0M796 768h0M956 766h0M1123 860h0M879 655h0M729 766h0M843 827h0M886 898h0M777 730h0M828 718h0M1022 911h0M951 777h0M830 751h0M862 650h0M989 909h0M832 825h0M894 894h0M834 783h0M885 783h0M784 809h0M875 740h0M724 769h0M741 703h0M853 731h0M770 776h0M848 699h0M799 828h0M890 851h0M848 681h0M759 688h0M817 768h0M765 721h0M805 747h0M822 832h0M944 729h0M762 801h0M899 884h0M768 744h0M858 779h0"/>
<path class="O" d="M1004 883h0M758 820h0M999 881h0M809 827h0M1089 680h0M1105 740h0M965 932h0M964 892h0M944 792h0M979 841h0M957 843h0M1083 836h0M1101 900h0M811 662h0M963 866h0M877 739h0M1032 907h0M1074 918h0M996 874h0M852 808h0M1025 585h0M931 907h0M970 787h0M1147 741h0M1045 651h0M1156 771h0M1059 882h0M926 795h0M1058 902h0M1156 760h0M982 556h0M1084 918h0M921 850h0M993 576h0M1056 631h0M1030 938h0M1021 625h0M1083 841h0M1127 867h0M1155 766h0M934 918h0M794 763h0M952 848h0M1121 768h0M1099 875h0M1003 919h0M977 880h0M865 747h0M999 875h0M791 755h0M959 912h0M1101 919h0M950 740h0M881 831h0M927 835h0M905 796h0M1039 866h0M819 782h0M1075 668h0M840 781h0M1078 833h0M938 906h0M1112 890h0M945 781h0M828 785h0M873 759h0M942 897h0M945 830h0M920 736h0M1102 932h0M1146 792h0M873 713h0M959 814h0M1063 648h0M1067 645h0M1068 884h0M886 772h0M1062 623h0M991 583h0M1070 666h0M1134 824h0M902 658h0M1066 938h0M980 558h0M1100 757h0M1102 871h0M1049 647h0M958 751h0M1167 819h0M1007 861h0M1070 914h0M1041 609h0M922 914h0M1061 666h0M927 878h0M824 671h0M936 910h0M1109 826h0M888 889h0M940 923h0M875 783h0M1094 807h0M1052 629h0M1095 680h0M1158 862h0M882 795h0M1073 638h0M1110 908h0M1124 899h0M815 827h0M1154 802h0M954 870h0M1017 615h0M1132 793h0M802 764h0M944 722h0M1126 837h0M890 745h0M1128 669h0M1161 756h0M1114 716h0M969 768h0M980 773h0M953 804h0M1114 715h0M1020 929h0M912 745h0M852 793h0M1066 925h0M965 797h0M954 765h0M1154 807h0M1093 668h0M986 925h0M933 843h0M1118 858h0M944 870h0"/>
<path class="G" d="M785 654h0M859 631h0M746 727h0M813 692h0M800 606h0M749 654h0M747 640h0M779 595h0M751 600h0M737 611h0M701 726h0M753 758h0M853 653h0M774 610h0M746 751h0M746 620h0M744 620h0M741 693h0M826 587h0M756 620h0M810 578h0M826 679h0M815 615h0M833 689h0M826 611h0M830 591h0M781 666h0M826 632h0M788 649h0M844 620h0M839 605h0M763 721h0M709 697h0M771 627h0M725 679h0M781 652h0M832 627h0M791 635h0"/>
<path class="B" d="M761 645h0M805 694h0M785 772h0M860 661h0M846 838h0M753 718h0M921 907h0M733 666h0M811 750h0M882 721h0M816 744h0M894 858h0M847 745h0M775 789h0M1040 898h0M792 808h0M824 801h0M896 652h0M875 777h0M871 824h0M864 784h0M861 739h0M786 719h0M769 769h0M851 795h0M838 785h0M700 739h0M866 700h0M920 908h0M938 751h0M862 848h0M804 836h0M828 773h0M726 729h0M909 696h0M793 805h0M881 846h0M866 749h0M768 696h0M827 736h0M909 863h0M899 692h0M887 817h0M712 689h0M732 783h0M869 824h0M882 829h0M733 639h0M707 752h0M802 744h0M876 652h0M789 812h0M891 873h0M779 752h0M741 646h0M878 858h0M884 890h0M872 707h0M884 854h0M775 740h0M854 841h0M905 858h0M757 740h0M693 735h0M893 782h0M859 693h0M876 619h0M854 793h0M748 740h0M763 817h0"/>
<path class="O" d="M1015 872h0M1172 822h0M991 578h0M1124 700h0M1128 755h0M1116 757h0M1172 826h0M1106 786h0M1058 934h0M1019 600h0M1077 888h0M1049 864h0M1075 673h0M1059 666h0M945 730h0M937 800h0M887 653h0M1098 674h0M1105 845h0M1143 726h0M1000 877h0M834 729h0M1133 755h0M1116 884h0M1098 655h0M1022 891h0M960 771h0M1080 877h0M783 805h0M1125 805h0M995 903h0M979 908h0M968 856h0M874 835h0M1055 893h0M1168 810h0M862 710h0M1088 851h0M1121 686h0M1098 875h0M914 701h0M954 907h0M980 767h0M1022 944h0M1142 690h0M1057 875h0M1101 823h0M1106 693h0M935 719h0M1121 854h0M1114 910h0M980 796h0M954 760h0M899 740h0M859 852h0M1100 893h0M774 789h0M1097 729h0M949 787h0M954 922h0M1035 641h0M909 840h0M1079 832h0M1067 901h0M868 764h0M1081 938h0M861 719h0M1146 724h0M875 737h0M904 726h0M1034 868h0M932 870h0M1146 720h0M972 906h0M1086 669h0M978 946h0M968 811h0M1128 721h0M1095 664h0M1137 802h0M1084 682h0M963 764h0M858 683h0M985 574h0M1085 877h0M1081 879h0M1110 677h0M913 765h0M996 898h0M1116 696h0M1013 582h0M998 596h0M840 827h0M908 685h0M1139 830h0M1162 773h0M859 685h0M962 894h0M1062 896h0M831 763h0M1057 664h0M1032 599h0M1045 899h0M904 780h0M879 792h0M887 821h0M1109 705h0M946 838h0M924 895h0M929 867h0M968 936h0M996 918h0M974 768h0M964 799h0M992 579h0M919 875h0M948 892h0M915 782h0M1150 824h0M900 707h0M909 906h0M1121 722h0M1034 912h0M941 724h0M908 759h0M897 710h0M1130 876h0M1076 695h0M1063 846h0M1002 894h0M862 683h0M1117 856h0M1003 938h0M944 877h0M988 950h0M1136 807h0M1049 870h0M1100 735h0M793 810h0M1075 828h0M876 630h0M1011 584h0"/>
<path class="B" d="M770 797h0M908 806h0M837 811h0M887 861h0M739 765h0M804 676h0M887 697h0M936 746h0M931 759h0M807 699h0M844 775h0M1099 716h0M764 833h0M876 836h0M829 771h0M849 732h0M897 669h0M855 784h0M769 781h0M845 724h0M929 804h0M769 655h0M879 819h0M757 811h0M877 736h0M798 738h0M825 783h0M893 819h0M860 830h0M749 762h0M875 689h0M797 643h0M786 738h0M936 729h0M832 781h0M766 795h0M747 733h0M837 781h0M990 884h0M719 650h0M776 772h0M792 719h0M785 775h0M872 849h0M829 675h0M821 750h0M859 850h0M834 771h0M840 673h0M823 805h0M814 809h0M866 747h0M870 643h0M790 766h0M734 797h0M1069 916h0M761 705h0M881 747h0M811 759h0M767 679h0M839 664h0M908 735h0M728 758h0M859 709h0M770 608h0M909 900h0M769 751h0M950 784h0M891 775h0M773 728h0"/>
<path class="G" d="M775 626h0M754 663h0M838 622h0M781 598h0M713 700h0M778 778h0M753 597h0M774 612h0M752 602h0M701 687h0M759 737h0M792 672h0M837 665h0M707 715h0M730 695h0M698 758h0M767 631h0M763 655h0M794 662h0M723 652h0M817 689h0M759 659h0M777 585h0M789 602h0M719 733h0M683 720h0M750 609h0M745 704h0M724 654h0M763 612h0M728 738h0M737 674h0M792 656h0M749 802h0M772 694h0M848 637h0M799 721h0M777 665h0"/>
<path class="O" d="M1117 803h0M1007 874h0M964 853h0M968 918h0M1169 844h0M905 840h0M1023 891h0M1146 741h0M937 889h0M1083 699h0M915 754h0M1098 886h0M977 944h0M1031 889h0M1078 842h0M927 775h0M841 813h0M1113 711h0M1155 867h0M889 851h0M913 851h0M1042 605h0M901 831h0M908 863h0M966 904h0M932 704h0M912 777h0M929 838h0M1002 569h0M1055 640h0M868 659h0M943 905h0M870 737h0M1120 714h0M878 822h0M899 664h0M936 842h0M982 880h0M1084 839h0M918 782h0M898 875h0M1056 661h0M1095 760h0M1109 866h0M869 662h0M1145 713h0M997 575h0M1171 800h0M867 877h0M1100 770h0M1008 938h0M1005 851h0M982 948h0M978 875h0M882 884h0M812 581h0M926 829h0M899 809h0M953 871h0M1029 932h0M1083 661h0M1007 602h0M1032 860h0M1004 953h0M950 933h0M1096 672h0M1136 773h0M1029 593h0M1140 784h0M984 923h0M968 940h0M842 743h0M875 731h0M924 908h0M1121 689h0M988 561h0M1059 672h0M1042 944h0M956 825h0M825 810h0M945 804h0M1014 913h0M922 741h0M1009 860h0M1066 649h0M943 733h0M1099 872h0M1146 754h0M1015 617h0M1109 764h0M1147 799h0M1084 850h0M1068 885h0M991 943h0M987 781h0M1054 899h0M919 913h0M1008 885h0M916 789h0M1064 854h0M943 812h0M1118 798h0M1144 810h0M1099 667h0M1149 837h0M876 694h0M1155 881h0M870 758h0M787 732h0M1137 748h0M1010 866h0M909 688h0M846 748h0M1031 624h0M960 844h0M1136 875h0M889 805h0M949 878h0M1124 866h0M1031 874h0M773 710h0M821 836h0M1088 847h0M1001 896h0M1019 868h0M1076 696h0M1105 823h0M997 575h0M1071 910h0M857 851h0M995 937h0M1147 896h0M1153 862h0M1025 898h0M1123 880h0M1093 907h0M1147 707h0M999 905h0M888 776h0M1012 894h0M924 786h0M1087 823h0"/>
<path class="O" d="M1031 602h0M887 664h0M1015 902h0M1105 775h0M1125 683h0M904 834h0M1125 865h0M916 827h0M1111 906h0M1121 731h0M1105 671h0M981 553h0M1105 926h0M928 821h0M1081 920h0M804 743h0M1139 902h0M1042 890h0M969 857h0M1055 858h0M1130 912h0M925 751h0M1153 767h0M1098 661h0M935 779h0M1119 718h0M1126 743h0M1145 813h0M1072 940h0M1068 867h0M927 758h0M903 708h0M814 835h0M960 761h0M1101 874h0M990 585h0M1012 932h0M978 798h0M1122 756h0M1111 793h0M1107 727h0M1109 869h0M943 819h0M1118 761h0M1143 697h0M1025 601h0M964 764h0M1024 916h0M1015 946h0M924 920h0M909 723h0M975 798h0M1142 714h0M991 588h0M1072 688h0M917 879h0M969 809h0M943 931h0M1003 884h0M1148 789h0M1105 930h0M987 854h0M855 667h0M955 733h0M1054 667h0M1030 938h0M1119 692h0M993 949h0M974 767h0M1117 862h0M916 706h0M973 825h0M1110 872h0M1065 874h0M932 737h0M990 584h0M851 708h0M935 736h0M890 860h0M955 813h0M1157 855h0M835 787h0M1127 833h0M905 764h0M884 822h0M931 804h0M1158 851h0M981 803h0M983 879h0M1069 891h0M1147 881h0M895 660h0M877 712h0M1052 623h0M768 828h0M1167 845h0M939 872h0M956 737h0M1104 788h0M962 829h0M1086 686h0M954 902h0M1159 776h0M1103 737h0M1068 658h0M1015 927h0M1168 863h0M1154 752h0M891 661h0M985 937h0M891 757h0M1068 893h0M1086 897h0M858 621h0M974 912h0M818 627h0M1134 772h0M1043 891h0M995 937h0M1165 813h0M1093 919h0M932 796h0M887 743h0M1150 727h0M1082 650h0M965 905h0M886 799h0M1146 891h0M947 788h0M936 826h0M1000 836h0M941 843h0M1084 924h0M896 881h0M1068 836h0M977 953h0M1026 880h0M995 569h0M1075 636h0M956 817h0M1110 772h0"/>
<path class="G" d="M789 668h0M841 606h0M746 716h0M839 641h0M809 636h0M750 766h0M710 767h0M758 601h0M799 654h0M707 711h0M825 599h0M821 661h0M691 711h0M812 666h0M828 627h0M754 600h0M788 771h0M694 759h0M735 710h0M852 675h0M767 687h0M843 851h0M732 619h0M833 632h0M781 678h0M760 600h0M748 612h0M773 591h0M769 763h0M754 738h0M771 790h0M751 653h0M765 714h0M756 646h0M723 677h0M747 736h0M700 752h0M772 596h0M850 660h0M720 730h0M828 693h0M762 619h0M760 609h0M778 677h0"/>
<path class="B" d="M898 660h0M811 704h0M794 713h0M747 774h0M884 693h0M814 777h0M844 736h0M956 756h0M934 916h0M889 884h0M896 690h0M947 844h0M940 720h0M876 867h0M825 713h0M891 777h0M832 830h0M890 815h0M888 851h0M913 702h0M828 822h0M853 726h0M799 602h0M871 784h0M768 670h0M816 678h0M871 854h0M783 739h0M1126 881h0M768 632h0M864 752h0M751 673h0M757 695h0M837 667h0M778 775h0M838 839h0M857 773h0M749 784h0M732 766h0M931 819h0M828 729h0M793 799h0M833 772h0M761 687h0M854 779h0M822 704h0M858 867h0M860 816h0M752 826h0M943 900h0M860 754h0M875 695h0M774 739h0M808 749h0M816 744h0M890 698h0M890 841h0M795 686h0M754 761h0M810 802h0M951 732h0M906 737h0M803 758h0M869 803h0M905 696h0"/>
<path class="B" d="M966 851h0M825 635h0M782 705h0M903 871h0M904 790h0M770 709h0M870 807h0M869 697h0M872 703h0M817 781h0M792 599h0M843 781h0M1049 909h0M761 738h0M851 708h0M801 662h0M860 767h0M829 745h0M719 727h0M755 818h0M815 755h0M876 671h0M827 710h0M888 846h0M785 756h0M806 769h0M699 760h0M855 617h0M687 720h0M877 706h0M918 752h0M758 811h0M707 734h0M750 787h0M767 618h0M867 708h0M828 684h0M845 758h0M830 686h0M817 772h0M781 784h0M783 730h0M850 633h0M778 685h0M916 706h0M742 660h0M923 921h0M821 750h0M863 855h0M902 706h0M754 763h0M779 757h0M913 706h0M773 807h0M884 784h0M833 746h0M788 709h0"/>
<path class="G" d="M824 636h0M759 775h0M762 602h0M794 702h0M810 597h0M694 716h0M810 616h0M790 653h0M708 759h0M774 718h0M741 648h0M753 610h0M771 657h0M811 666h0M688 727h0M709 759h0M776 584h0M824 706h0M766 695h0M778 608h0M822 621h0M718 708h0M769 603h0M777 624h0M781 572h0M851 609h0M867 619h0M833 602h0M734 699h0M745 780h0M723 767h0M764 660h0M751 649h0M762 615h0M857 611h0M771 650h0M785 618h0"/>
<path class="O" d="M941 723h0M988 863h0M1021 602h0M1012 922h0M802 801h0M1038 633h0M941 752h0M1126 835h0M936 814h0M928 919h0M1108 829h0M1087 901h0M841 790h0M1158 873h0M1069 926h0M1111 739h0M1064 884h0M877 667h0M1005 596h0M1064 907h0M997 953h0M1091 680h0M1122 730h0M1071 908h0M871 684h0M1043 923h0M936 731h0M948 858h0M972 934h0M1137 775h0M958 916h0M1129 860h0M902 833h0M951 918h0M961 848h0M1025 868h0M1064 640h0M941 921h0M1146 761h0M969 836h0M1127 791h0M953 833h0M1065 888h0M921 837h0M963 858h0M959 740h0M1092 662h0M969 781h0M1062 947h0M1017 868h0M1144 713h0M973 784h0M920 702h0M900 758h0M775 811h0M993 816h0M1113 728h0M905 856h0M1134 890h0M1069 689h0M1067 681h0M1006 593h0M1045 901h0M1103 907h0M958 916h0M861 868h0M1038 595h0M928 847h0M1111 807h0M891 654h0M1165 800h0M1010 869h0M1117 896h0M1082 931h0M1081 876h0M965 869h0M1153 781h0M1105 697h0M1118 740h0M896 863h0M967 755h0M1077 882h0M953 746h0M951 914h0M1081 692h0M899 822h0M1118 727h0M912 887h0M983 811h0M899 676h0M1068 644h0M1008 905h0M967 747h0M991 854h0M1042 651h0M1003 932h0M975 784h0M1090 655h0M906 879h0M1129 802h0M866 769h0M1131 749h0M947 766h0M882 847h0M1126 831h0M1160 783h0M1133 756h0M1080 823h0M927 740h0M934 773h0M869 673h0M1095 833h0M1149 861h0M1044 619h0M946 785h0M921 712h0M1117 898h0M963 838h0M969 944h0M1032 598h0M1083 668h0M982 794h0M1032 921h0M1172 814h0M923 864h0M920 738h0M1008 583h0M994 951h0M956 819h0M932 819h0M964 837h0M1007 928h0M1168 799h0M874 900h0M856 739h0M1144 872h0M1096 651h0M966 784h0M828 646h0M962 791h0M1072 689h0M994 874h0M870 863h0M935 756h0M1013 607h0M1165 807h0M1115 750h0M865 752h0M800 836h0M881 724h0M1113 833h0M774 777h0M954 728h0M982 896h0M1072 679h0M1139 869h0"/>
<path class="G" d="M776 647h0M798 611h0M799 626h0M828 659h0M695 722h0M805 644h0M837 634h0M703 716h0M731 665h0M763 674h0M752 765h0M828 628h0M745 668h0M818 630h0M752 676h0M808 616h0M733 657h0M757 604h0M764 762h0M719 760h0M793 597h0M705 723h0M741 733h0M757 716h0M826 705h0M706 752h0M800 702h0M755 670h0M831 730h0M761 671h0M822 586h0M756 591h0M797 661h0M704 764h0M828 715h0M778 740h0M743 784h0M789 634h0"/>
<path class="O" d="M1111 835h0M1134 682h0M1045 627h0M1022 603h0M869 724h0M919 859h0M997 805h0M1062 889h0M1037 868h0M887 786h0M955 826h0M1021 858h0M1069 661h0M816 835h0M1097 650h0M996 858h0M1152 759h0M865 648h0M1040 937h0M863 848h0M1038 611h0M1105 705h0M1045 614h0M940 771h0M1137 859h0M1003 872h0M906 852h0M828 835h0M1067 888h0M844 859h0M1157 827h0M1154 745h0M885 693h0M1064 897h0M1138 891h0M1095 888h0M1003 868h0M1116 864h0M825 837h0M775 795h0M879 617h0M1073 860h0M903 845h0M1004 855h0M1161 773h0M969 933h0M896 685h0M1147 855h0M1044 865h0M1020 863h0M1048 616h0M998 595h0M1017 916h0M912 707h0M798 719h0M921 845h0M954 802h0M1133 832h0M828 839h0M1079 711h0M1016 612h0M1071 926h0M897 702h0M1048 895h0M1053 859h0M1070 649h0M1125 893h0M1020 951h0M1104 800h0M1108 912h0M930 791h0M1024 909h0M1102 741h0M858 642h0M1089 921h0M973 841h0M922 852h0M1040 621h0M861 685h0M1032 588h0M1076 668h0M1134 688h0M931 740h0M915 839h0M1096 886h0M1115 911h0M1158 830h0M1127 818h0M888 698h0M879 884h0M1019 609h0M1134 868h0M983 552h0M1113 756h0M1154 845h0M1057 879h0M1087 888h0M824 772h0M1049 648h0M894 647h0M982 564h0M1118 723h0M964 736h0M1084 881h0M957 824h0M845 711h0M984 859h0M1130 798h0M1069 898h0M959 848h0M1142 837h0M1100 691h0M1150 781h0M894 636h0M1156 847h0M1142 821h0M963 941h0M1047 901h0M901 808h0M904 827h0M949 870h0M1116 865h0M1017 905h0M1040 940h0M838 806h0M1004 580h0M1000 846h0M1071 667h0M858 857h0M1130 761h0M1071 840h0M938 931h0M1101 842h0M1091 814h0M1158 763h0M1083 684h0M866 742h0M869 655h0M929 840h0M1035 925h0M1061 666h0M825 715h0M893 875h0M945 872h0M1030 914h0M896 842h0M1097 754h0M1112 783h0M960 870h0M1058 623h0M1060 884h0M1112 923h0M1022 603h0M1114 695h0M893 671h0M1119 796h0M916 794h0M1161 742h0M1106 703h0"/>
<path class="B" d="M885 845h0M857 788h0M770 733h0M892 888h0M896 825h0M862 685h0M891 753h0M893 735h0M884 702h0M800 736h0M890 892h0M819 607h0M781 779h0M892 668h0M891 850h0M737 793h0M835 837h0M793 828h0M864 852h0M769 809h0M874 757h0M776 699h0M769 831h0M972 924h0M885 806h0M778 765h0M858 736h0M836 614h0M835 632h0M746 786h0M783 766h0M881 809h0M852 792h0M802 687h0M840 855h0M974 878h0M770 794h0M897 657h0M896 776h0M977 788h0M760 787h0M947 723h0M857 856h0M776 786h0M700 703h0M796 740h0M781 789h0M782 780h0M884 878h0M900 770h0M1159 832h0M937 844h0M854 819h0"/>
<path class="B" d="M809 782h0M868 638h0M744 817h0M810 731h0M896 769h0M791 609h0M880 853h0M738 811h0M876 794h0M741 778h0M1077 686h0M833 746h0M783 819h0M920 820h0M865 731h0M777 718h0M928 717h0M895 727h0M777 748h0M890 858h0M801 807h0M727 713h0M871 837h0M859 835h0M787 673h0M815 821h0M866 850h0M892 708h0M767 725h0M816 723h0M875 710h0M791 781h0M945 767h0M894 671h0M830 822h0M799 743h0M711 761h0M966 774h0M879 653h0M887 636h0M781 831h0M784 759h0M823 839h0M811 652h0M896 664h0M807 743h0M915 737h0M780 832h0M735 706h0M883 894h0M826 739h0M822 602h0M742 818h0M885 887h0M800 769h0M842 738h0M945 903h0M799 825h0M840 823h0M920 854h0M753 752h0"/>
<path class="O" d="M1048 910h0M1048 939h0M971 933h0M947 770h0M986 808h0M939 728h0M1044 915h0M1154 839h0M1083 711h0M1074 899h0M945 899h0M856 721h0M888 837h0M783 714h0M924 765h0M860 763h0M1108 725h0M992 805h0M1082 898h0M1146 857h0M1060 897h0M852 841h0M1001 948h0M1135 870h0M1132 759h0M879 803h0M1077 899h0M934 787h0M820 653h0M987 802h0M921 783h0M776 832h0M1117 857h0M1151 840h0M911 687h0M996 863h0M1066 846h0M1106 915h0M914 885h0M1101 804h0M944 797h0M899 815h0M936 789h0M1089 689h0M986 866h0M789 761h0M1068 689h0M969 913h0M1067 919h0M948 893h0M1176 824h0M958 905h0M1118 807h0M1072 940h0M896 840h0M1110 756h0M1101 659h0M1019 916h0M1060 893h0M962 860h0M976 549h0M1162 784h0M941 932h0M941 930h0M983 567h0M950 812h0M1118 857h0M1144 773h0M1124 768h0M852 724h0M941 727h0M1002 863h0M1148 748h0M1002 883h0M849 618h0M964 901h0M1142 726h0M1103 737h0M1114 784h0M1122 856h0M843 746h0M967 761h0M1126 767h0M1005 931h0M983 868h0M800 794h0M878 663h0M988 840h0M822 798h0M899 791h0M1107 734h0M1160 866h0M1079 638h0M1064 883h0M974 816h0M1002 891h0M910 839h0M1111 667h0M894 838h0M851 792h0M846 854h0M1076 682h0M909 886h0M855 762h0M998 578h0M900 705h0M1008 915h0M1157 754h0M990 784h0M1106 904h0M818 795h0M1122 795h0M1115 923h0M904 814h0M1040 884h0M869 882h0M1041 629h0M898 718h0M990 792h0M1011 593h0M970 874h0M925 777h0M928 844h0M1156 854h0M829 770h0M1004 575h0M787 777h0M1003 857h0M910 900h0M819 768h0M1046 912h0M887 769h0M1139 760h0M1114 738h0M955 849h0M786 650h0M867 758h0M1047 648h0M1120 805h0M1016 908h0M1095 845h0M1136 835h0M971 936h0M1150 716h0M873 630h0M1039 934h0M1135 680h0M861 654h0M935 826h0M957 901h0"/>
<path class="G" d="M705 763h0M817 671h0M818 693h0M697 734h0M717 699h0M705 742h0M800 683h0M711 742h0M742 683h0M785 586h0M745 608h0M784 738h0M837 609h0M741 647h0M719 658h0M736 682h0M781 704h0M773 637h0M803 651h0M799 650h0M807 597h0M783 666h0M738 720h0M750 603h0M871 624h0M807 655h0M856 745h0M687 729h0M790 630h0M746 727h0M737 751h0M751 790h0M730 687h0M843 654h0M808 678h0M786 740h0M732 732h0M739 773h0M728 638h0"/>
<path class="G" d="M721 703h0M831 641h0M798 641h0M787 700h0M798 625h0M732 700h0M773 574h0M836 604h0M794 599h0M815 668h0M720 735h0M791 655h0M776 588h0M712 758h0M688 756h0M755 616h0M781 651h0M762 677h0M786 719h0M771 662h0M748 650h0M830 615h0M709 738h0M728 712h0M805 619h0M826 600h0M724 736h0M687 749h0M794 679h0M727 626h0M815 655h0M799 613h0M800 619h0M799 593h0M782 600h0M762 668h0M796 699h0M740 688h0M752 603h0M756 592h0M804 671h0M846 629h0M806 639h0M809 582h0M791 644h0M813 621h0M797 693h0M818 642h0"/>
<path class="O" d="M970 783h0M906 720h0M958 912h0M1092 724h0M1080 635h0M1160 743h0M908 747h0M1104 655h0M1132 703h0M794 654h0M984 906h0M973 793h0M1168 813h0M961 783h0M1133 796h0M923 889h0M1147 863h0M1085 710h0M1148 738h0M939 843h0M777 708h0M946 788h0M1135 717h0M936 924h0M1088 831h0M922 716h0M830 716h0M846 839h0M990 785h0M958 793h0M858 666h0M997 859h0M1155 741h0M909 799h0M1074 855h0M1154 717h0M813 787h0M970 849h0M868 745h0M900 873h0M878 656h0M1117 830h0M1141 743h0M946 817h0M1109 757h0M939 766h0M1162 749h0M1119 688h0M929 871h0M1004 862h0M938 886h0M1124 767h0M1121 903h0M1152 728h0M925 844h0M1076 644h0M864 628h0M861 690h0M843 834h0M859 674h0M1089 914h0M1111 893h0M991 803h0M1168 802h0M1108 874h0M1150 709h0M1053 644h0M1122 879h0M1052 620h0M1136 858h0M843 694h0M1135 853h0M1154 865h0M932 727h0M942 792h0M1129 835h0M915 855h0M864 788h0M1087 870h0M922 820h0M1048 872h0M876 705h0M1115 748h0M1108 739h0M935 925h0M1141 783h0M897 785h0M941 762h0M897 726h0M1071 666h0M930 792h0M1092 702h0M971 874h0M1008 589h0M891 667h0M781 790h0M1071 850h0M1026 889h0M1115 717h0M1022 606h0M1157 740h0M986 799h0M886 781h0M961 767h0M1059 930h0M945 762h0M724 633h0M1172 849h0M951 846h0M1016 896h0M851 646h0M1031 934h0M929 791h0M931 704h0M908 717h0M1011 908h0M1040 638h0M1053 884h0M1092 875h0M1056 660h0M1122 847h0M889 859h0M1120 847h0M1121 855h0M907 775h0M966 896h0M1051 894h0M998 856h0M947 800h0M919 842h0M1112 665h0M1063 658h0M1076 854h0M1104 649h0M927 794h0M967 880h0M1142 791h0M844 806h0M1124 811h0M1051 904h0M982 935h0"/>
<path class="B" d="M921 732h0M867 720h0M982 829h0M794 753h0M886 693h0M830 817h0M842 734h0M843 849h0M1097 887h0M702 736h0M752 748h0M808 811h0M872 640h0M870 658h0M808 762h0M862 692h0M741 721h0M799 787h0M890 691h0M784 717h0M746 792h0M768 762h0M817 793h0M803 815h0M784 756h0M889 878h0M852 762h0M820 750h0M905 894h0M916 763h0M966 741h0M897 777h0M783 805h0M797 705h0M804 757h0M833 734h0M783 709h0M847 837h0M892 758h0M954 734h0M870 622h0M748 784h0M772 742h0M819 811h0M923 719h0M879 688h0M869 664h0M873 851h0M841 782h0M925 889h0M831 753h0M841 658h0M829 724h0M891 875h0M782 827h0M834 640h0M773 787h0M799 583h0M818 783h0M947 810h0M845 652h0"/>
<path class="B" d="M795 817h0M763 672h0M832 702h0M756 725h0M769 725h0M845 770h0M859 852h0M731 678h0M894 838h0M840 848h0M872 807h0M797 693h0M829 806h0M855 805h0M939 860h0M896 742h0M815 695h0M783 756h0M970 761h0M780 776h0M903 869h0M993 853h0M819 765h0M864 698h0M824 763h0M905 663h0M880 619h0M844 858h0M811 825h0M730 710h0M726 660h0M806 806h0M960 745h0M773 655h0M831 724h0M802 692h0M730 696h0M871 864h0M822 813h0M897 890h0M773 775h0M784 802h0M895 872h0M952 833h0M811 762h0M878 837h0M774 705h0M924 898h0M851 724h0M865 879h0M917 848h0M925 921h0M886 825h0M763 760h0M854 657h0M808 826h0M995 862h0M791 743h0"/>
<path class="G" d="M764 632h0M818 643h0M719 752h0M761 682h0M691 745h0M815 618h0M747 743h0M809 709h0M788 629h0M759 590h0M728 667h0M744 791h0M771 635h0M763 689h0M768 622h0M872 625h0M759 747h0M761 642h0M775 602h0M723 658h0M740 625h0M778 705h0M793 711h0M797 587h0M713 707h0M808 602h0M731 764h0M801 592h0M727 709h0M692 726h0M820 612h0M847 644h0M712 696h0M708 724h0M734 742h0M816 624h0M782 612h0M692 738h0M804 624h0M827 777h0M799 677h0"/>
<path class="O" d="M1033 626h0M1142 754h0M1002 953h0M934 888h0M1033 878h0M1066 874h0M1120 810h0M840 725h0M1128 690h0M920 816h0M931 813h0M998 579h0M1071 857h0M1070 858h0M825 788h0M1123 675h0M1165 857h0M1083 856h0M1151 733h0M997 908h0M1106 727h0M920 848h0M1076 690h0M840 705h0M1112 880h0M1086 660h0M1143 710h0M1009 571h0M1122 767h0M1051 857h0M1091 916h0M1021 954h0M1007 892h0M932 840h0M1120 869h0M1027 932h0M937 861h0M1125 852h0M1153 726h0M984 831h0M1048 911h0M1147 849h0M1034 609h0M769 746h0M1098 903h0M1009 909h0M1113 681h0M974 834h0M1139 808h0M1141 770h0M962 901h0M922 878h0M990 562h0M963 921h0M975 778h0M1109 720h0M964 807h0M933 735h0M939 752h0M1117 728h0M1098 791h0M1093 875h0M1061 656h0M1002 573h0M1150 780h0M908 830h0M916 732h0M953 894h0M929 862h0M989 565h0M1126 913h0M869 873h0M924 688h0M1085 832h0M834 781h0M1119 847h0M822 792h0M1052 623h0M1164 857h0M1033 633h0M952 750h0M1034 942h0M966 802h0M1023 604h0M1093 726h0M892 799h0M939 816h0M1107 655h0M914 859h0M966 903h0M1098 737h0M1070 842h0M1041 865h0M915 860h0M806 660h0M900 727h0M878 678h0M1070 916h0M981 948h0M1091 860h0M944 846h0M957 759h0M1023 598h0M875 874h0M1035 598h0M967 941h0M792 698h0M1083 885h0M1017 617h0M1119 825h0M842 739h0M1057 886h0M942 879h0M773 652h0M1117 872h0M926 762h0M1095 834h0M1015 905h0M1145 819h0M1114 818h0M1109 738h0M920 751h0M1093 722h0M1054 648h0M1091 705h0M1067 920h0M1111 823h0M921 763h0M1032 613h0M1123 766h0M878 666h0M1034 875h0M1107 890h0M993 886h0M867 722h0M762 831h0M1121 737h0M834 757h0M1160 805h0M1043 934h0M1134 793h0M984 838h0M926 722h0M1120 699h0M1118 696h0M935 796h0M1007 844h0M983 834h0M1128 893h0M884 703h0M1168 788h0"/>
<path class="O" d="M917 903h0M919 804h0M947 825h0M946 747h0M1133 836h0M898 793h0M863 814h0M1003 940h0M935 798h0M1131 773h0M838 791h0M1071 892h0M1071 645h0M957 771h0M870 714h0M1090 889h0M901 816h0M1040 905h0M1109 657h0M1120 918h0M1090 690h0M1010 926h0M1054 954h0M939 908h0M996 592h0M978 863h0M898 833h0M955 905h0M1091 731h0M992 842h0M913 807h0M950 877h0M919 867h0M964 941h0M947 757h0M969 782h0M1074 642h0M1062 672h0M1074 906h0M1027 626h0M1045 909h0M1009 902h0M1130 875h0M1004 894h0M921 892h0M1152 878h0M1078 702h0M805 690h0M1057 855h0M940 766h0M909 802h0M1133 898h0M1149 779h0M858 746h0M882 767h0M1124 672h0M1131 872h0M857 654h0M1131 679h0M977 912h0M1040 610h0M1153 733h0M1112 713h0M955 758h0M976 932h0M1018 895h0M1128 876h0M948 901h0M1113 663h0M941 751h0M1007 933h0M1022 920h0M836 733h0M861 781h0M898 842h0M995 587h0M1002 930h0M1111 681h0M1025 596h0M768 815h0M997 888h0M1065 647h0M959 884h0M1030 630h0M926 787h0M1047 901h0M834 697h0M965 820h0M942 832h0M939 803h0M954 737h0M1077 646h0M842 618h0M953 894h0M896 891h0M939 757h0M883 792h0M1037 892h0M937 786h0M1102 774h0M993 851h0M1107 678h0M1057 880h0M1110 716h0M1067 683h0M1084 900h0M925 895h0M1099 669h0M1076 901h0M1150 768h0M987 916h0M850 773h0M1131 884h0M1112 873h0M1142 830h0M1017 950h0M930 837h0M900 779h0M1101 770h0M1028 869h0M1037 922h0M946 844h0M1074 881h0M850 748h0M973 939h0M996 857h0M1098 792h0M919 867h0M749 802h0M866 738h0M924 887h0M1098 808h0M952 757h0M1129 681h0M1080 675h0M1112 681h0M1099 842h0M1097 646h0M976 869h0M919 752h0M1023 592h0M917 834h0M968 872h0M1082 936h0M1029 936h0M1100 919h0M1050 929h0M842 767h0"/>
<path class="G" d="M797 722h0M708 719h0M716 739h0M751 610h0M823 625h0M795 660h0M720 717h0M764 655h0M731 759h0M763 646h0M803 615h0M756 821h0M712 757h0M779 659h0M740 618h0M732 681h0M802 592h0M770 599h0M773 664h0M696 717h0M816 758h0M804 650h0M829 724h0M753 632h0M779 733h0M854 625h0M746 765h0M755 707h0M749 730h0M750 713h0M787 711h0M753 655h0M851 632h0M803 588h0M734 730h0M729 737h0M769 643h0"/>
<path class="B" d="M815 756h0M905 776h0M739 691h0M852 848h0M840 753h0M807 721h0M844 843h0M818 811h0M960 860h0M957 897h0M845 721h0M850 812h0M858 681h0M799 761h0M766 832h0M832 744h0M790 760h0M920 917h0M811 625h0M727 694h0M726 712h0M763 783h0M769 796h0M763 650h0M862 859h0M761 718h0M813 735h0M765 782h0M896 861h0M863 775h0M876 858h0M857 696h0M884 760h0M941 708h0M865 768h0M762 722h0M764 801h0M875 848h0M785 697h0M784 627h0M813 692h0M952 792h0M856 808h0M783 790h0M763 708h0M865 861h0M896 896h0M867 732h0M889 729h0M842 755h0M837 805h0M1000 903h0M915 792h0M857 760h0M916 719h0M906 900h0M792 807h0M836 710h0M899 651h0M802 831h0M831 639h0M786 786h0M759 784h0M895 642h0M724 717h0"/>
<path class="B" d="M807 775h0M809 788h0"/>
<path class="O" d="M1154 861h0M1033 888h0M1025 882h0M1082 652h0M889 870h0"/>
</g></svg><svg width="685" height="500" style="position:absolute;left:0;top:0;will-change:transform"><style>.t{font:8.3px "Liberation Sans",sans-serif;fill:#111;stroke:#111;stroke-width:0.15px}.ti{font:14px "Liberation Sans",sans-serif;fill:#111}.cb{font:10.6px "Liberation Sans",sans-serif;fill:#2a2a2a;stroke:#2a2a2a;stroke-width:0.35px}</style><rect x="22" y="18.5" width="272.3" height="224.8" fill="none" stroke="#6a6a6a" stroke-width="1"/><line x1="52.1" y1="243.3" x2="52.1" y2="245.5" stroke="#444" stroke-width="0.8"/><text x="45.15" y="252.7" class="t" textLength="13.9" lengthAdjust="spacingAndGlyphs">−60</text><line x1="86.9" y1="243.3" x2="86.9" y2="245.5" stroke="#444" stroke-width="0.8"/><text x="79.95" y="252.7" class="t" textLength="13.9" lengthAdjust="spacingAndGlyphs">−40</text><line x1="121.7" y1="243.3" x2="121.7" y2="245.5" stroke="#444" stroke-width="0.8"/><text x="114.75" y="252.7" class="t" textLength="13.9" lengthAdjust="spacingAndGlyphs">−20</text><line x1="156.5" y1="243.3" x2="156.5" y2="245.5" stroke="#444" stroke-width="0.8"/><text x="154.4" y="252.7" class="t" textLength="4.2" lengthAdjust="spacingAndGlyphs">0</text><line x1="191.3" y1="243.3" x2="191.3" y2="245.5" stroke="#444" stroke-width="0.8"/><text x="187.15" y="252.7" class="t" textLength="8.3" lengthAdjust="spacingAndGlyphs">20</text><line x1="226.1" y1="243.3" x2="226.1" y2="245.5" stroke="#444" stroke-width="0.8"/><text x="221.95" y="252.7" class="t" textLength="8.3" lengthAdjust="spacingAndGlyphs">40</text><line x1="260.9" y1="243.3" x2="260.9" y2="245.5" stroke="#444" stroke-width="0.8"/><text x="256.75" y="252.7" class="t" textLength="8.3" lengthAdjust="spacingAndGlyphs">60</text><line x1="19.8" y1="212.6" x2="22" y2="212.6" stroke="#444" stroke-width="0.8"/><text x="4.3" y="215.6" class="t" textLength="13.9" lengthAdjust="spacingAndGlyphs">−40</text><line x1="19.8" y1="172.6" x2="22" y2="172.6" stroke="#444" stroke-width="0.8"/><text x="4.3" y="175.6" class="t" textLength="13.9" lengthAdjust="spacingAndGlyphs">−20</text><line x1="19.8" y1="132.6" x2="22" y2="132.6" stroke="#444" stroke-width="0.8"/><text x="14" y="135.6" class="t" textLength="4.2" lengthAdjust="spacingAndGlyphs">0</text><line x1="19.8" y1="92.6" x2="22" y2="92.6" stroke="#444" stroke-width="0.8"/><text x="9.9" y="95.6" class="t" textLength="8.3" lengthAdjust="spacingAndGlyphs">20</text><line x1="19.8" y1="52.6" x2="22" y2="52.6" stroke="#444" stroke-width="0.8"/><text x="9.9" y="55.6" class="t" textLength="8.3" lengthAdjust="spacingAndGlyphs">40</text><rect x="328.3" y="18.6" width="272.2" height="224.8" fill="none" stroke="#6a6a6a" stroke-width="1"/><line x1="335.31" y1="243.4" x2="335.31" y2="245.6" stroke="#444" stroke-width="0.8"/><text x="328.36" y="252.8" class="t" textLength="13.9" lengthAdjust="spacingAndGlyphs">−60</text><line x1="376.49" y1="243.4" x2="376.49" y2="245.6" stroke="#444" stroke-width="0.8"/><text x="369.54" y="252.8" class="t" textLength="13.9" lengthAdjust="spacingAndGlyphs">−40</text><line x1="417.67" y1="243.4" x2="417.67" y2="245.6" stroke="#444" stroke-width="0.8"/><text x="410.72" y="252.8" class="t" textLength="13.9" lengthAdjust="spacingAndGlyphs">−20</text><line x1="458.85" y1="243.4" x2="458.85" y2="245.6" stroke="#444" stroke-width="0.8"/><text x="456.75" y="252.8" class="t" textLength="4.2" lengthAdjust="spacingAndGlyphs">0</text><line x1="500.03" y1="243.4" x2="500.03" y2="245.6" stroke="#444" stroke-width="0.8"/><text x="495.88" y="252.8" class="t" textLength="8.3" lengthAdjust="spacingAndGlyphs">20</text><line x1="541.21" y1="243.4" x2="541.21" y2="245.6" stroke="#444" stroke-width="0.8"/><text x="537.06" y="252.8" class="t" textLength="8.3" lengthAdjust="spacingAndGlyphs">40</text><line x1="582.39" y1="243.4" x2="582.39" y2="245.6" stroke="#444" stroke-width="0.8"/><text x="578.24" y="252.8" class="t" textLength="8.3" lengthAdjust="spacingAndGlyphs">60</text><line x1="326.1" y1="221.1" x2="328.3" y2="221.1" stroke="#444" stroke-width="0.8"/><text x="310.6" y="224.1" class="t" textLength="13.9" lengthAdjust="spacingAndGlyphs">−60</text><line x1="326.1" y1="190.4" x2="328.3" y2="190.4" stroke="#444" stroke-width="0.8"/><text x="310.6" y="193.4" class="t" textLength="13.9" lengthAdjust="spacingAndGlyphs">−40</text><line x1="326.1" y1="159.7" x2="328.3" y2="159.7" stroke="#444" stroke-width="0.8"/><text x="310.6" y="162.7" class="t" textLength="13.9" lengthAdjust="spacingAndGlyphs">−20</text><line x1="326.1" y1="129" x2="328.3" y2="129" stroke="#444" stroke-width="0.8"/><text x="320.3" y="132" class="t" textLength="4.2" lengthAdjust="spacingAndGlyphs">0</text><line x1="326.1" y1="98.3" x2="328.3" y2="98.3" stroke="#444" stroke-width="0.8"/><text x="316.2" y="101.3" class="t" textLength="8.3" lengthAdjust="spacingAndGlyphs">20</text><line x1="326.1" y1="67.6" x2="328.3" y2="67.6" stroke="#444" stroke-width="0.8"/><text x="316.2" y="70.6" class="t" textLength="8.3" lengthAdjust="spacingAndGlyphs">40</text><line x1="326.1" y1="36.9" x2="328.3" y2="36.9" stroke="#444" stroke-width="0.8"/><text x="316.2" y="39.9" class="t" textLength="8.3" lengthAdjust="spacingAndGlyphs">60</text><rect x="23.5" y="263.2" width="271.9" height="225.2" fill="none" stroke="#6a6a6a" stroke-width="1"/><line x1="24.18" y1="488.4" x2="24.18" y2="490.6" stroke="#444" stroke-width="0.8"/><text x="17.23" y="497.8" class="t" textLength="13.9" lengthAdjust="spacingAndGlyphs">−80</text><line x1="57.46" y1="488.4" x2="57.46" y2="490.6" stroke="#444" stroke-width="0.8"/><text x="50.51" y="497.8" class="t" textLength="13.9" lengthAdjust="spacingAndGlyphs">−60</text><line x1="90.74" y1="488.4" x2="90.74" y2="490.6" stroke="#444" stroke-width="0.8"/><text x="83.79" y="497.8" class="t" textLength="13.9" lengthAdjust="spacingAndGlyphs">−40</text><line x1="124.02" y1="488.4" x2="124.02" y2="490.6" stroke="#444" stroke-width="0.8"/><text x="117.07" y="497.8" class="t" textLength="13.9" lengthAdjust="spacingAndGlyphs">−20</text><line x1="157.3" y1="488.4" x2="157.3" y2="490.6" stroke="#444" stroke-width="0.8"/><text x="155.2" y="497.8" class="t" textLength="4.2" lengthAdjust="spacingAndGlyphs">0</text><line x1="190.58" y1="488.4" x2="190.58" y2="490.6" stroke="#444" stroke-width="0.8"/><text x="186.43" y="497.8" class="t" textLength="8.3" lengthAdjust="spacingAndGlyphs">20</text><line x1="223.86" y1="488.4" x2="223.86" y2="490.6" stroke="#444" stroke-width="0.8"/><text x="219.71" y="497.8" class="t" textLength="8.3" lengthAdjust="spacingAndGlyphs">40</text><line x1="257.14" y1="488.4" x2="257.14" y2="490.6" stroke="#444" stroke-width="0.8"/><text x="252.99" y="497.8" class="t" textLength="8.3" lengthAdjust="spacingAndGlyphs">60</text><line x1="290.42" y1="488.4" x2="290.42" y2="490.6" stroke="#444" stroke-width="0.8"/><text x="286.27" y="497.8" class="t" textLength="8.3" lengthAdjust="spacingAndGlyphs">80</text><line x1="21.3" y1="472.3" x2="23.5" y2="472.3" stroke="#444" stroke-width="0.8"/><text x="5.8" y="475.3" class="t" textLength="13.9" lengthAdjust="spacingAndGlyphs">−40</text><line x1="21.3" y1="428.5" x2="23.5" y2="428.5" stroke="#444" stroke-width="0.8"/><text x="5.8" y="431.5" class="t" textLength="13.9" lengthAdjust="spacingAndGlyphs">−20</text><line x1="21.3" y1="384.7" x2="23.5" y2="384.7" stroke="#444" stroke-width="0.8"/><text x="15.5" y="387.7" class="t" textLength="4.2" lengthAdjust="spacingAndGlyphs">0</text><line x1="21.3" y1="340.9" x2="23.5" y2="340.9" stroke="#444" stroke-width="0.8"/><text x="11.4" y="343.9" class="t" textLength="8.3" lengthAdjust="spacingAndGlyphs">20</text><line x1="21.3" y1="297.1" x2="23.5" y2="297.1" stroke="#444" stroke-width="0.8"/><text x="11.4" y="300.1" class="t" textLength="8.3" lengthAdjust="spacingAndGlyphs">40</text><rect x="328.8" y="264" width="271.8" height="225.4" fill="none" stroke="#6a6a6a" stroke-width="1"/><line x1="358.5" y1="489.4" x2="358.5" y2="491.6" stroke="#444" stroke-width="0.8"/><text x="351.55" y="498.8" class="t" textLength="13.9" lengthAdjust="spacingAndGlyphs">−60</text><line x1="394.95" y1="489.4" x2="394.95" y2="491.6" stroke="#444" stroke-width="0.8"/><text x="388" y="498.8" class="t" textLength="13.9" lengthAdjust="spacingAndGlyphs">−40</text><line x1="431.4" y1="489.4" x2="431.4" y2="491.6" stroke="#444" stroke-width="0.8"/><text x="424.45" y="498.8" class="t" textLength="13.9" lengthAdjust="spacingAndGlyphs">−20</text><line x1="467.85" y1="489.4" x2="467.85" y2="491.6" stroke="#444" stroke-width="0.8"/><text x="465.75" y="498.8" class="t" textLength="4.2" lengthAdjust="spacingAndGlyphs">0</text><line x1="504.3" y1="489.4" x2="504.3" y2="491.6" stroke="#444" stroke-width="0.8"/><text x="500.15" y="498.8" class="t" textLength="8.3" lengthAdjust="spacingAndGlyphs">20</text><line x1="540.75" y1="489.4" x2="540.75" y2="491.6" stroke="#444" stroke-width="0.8"/><text x="536.6" y="498.8" class="t" textLength="8.3" lengthAdjust="spacingAndGlyphs">40</text><line x1="577.2" y1="489.4" x2="577.2" y2="491.6" stroke="#444" stroke-width="0.8"/><text x="573.05" y="498.8" class="t" textLength="8.3" lengthAdjust="spacingAndGlyphs">60</text><line x1="326.6" y1="455.3" x2="328.8" y2="455.3" stroke="#444" stroke-width="0.8"/><text x="311.1" y="458.3" class="t" textLength="13.9" lengthAdjust="spacingAndGlyphs">−40</text><line x1="326.6" y1="419.7" x2="328.8" y2="419.7" stroke="#444" stroke-width="0.8"/><text x="311.1" y="422.7" class="t" textLength="13.9" lengthAdjust="spacingAndGlyphs">−20</text><line x1="326.6" y1="384.1" x2="328.8" y2="384.1" stroke="#444" stroke-width="0.8"/><text x="320.8" y="387.1" class="t" textLength="4.2" lengthAdjust="spacingAndGlyphs">0</text><line x1="326.6" y1="348.5" x2="328.8" y2="348.5" stroke="#444" stroke-width="0.8"/><text x="316.7" y="351.5" class="t" textLength="8.3" lengthAdjust="spacingAndGlyphs">20</text><line x1="326.6" y1="312.9" x2="328.8" y2="312.9" stroke="#444" stroke-width="0.8"/><text x="316.7" y="315.9" class="t" textLength="8.3" lengthAdjust="spacingAndGlyphs">40</text><line x1="326.6" y1="277.3" x2="328.8" y2="277.3" stroke="#444" stroke-width="0.8"/><text x="316.7" y="280.3" class="t" textLength="8.3" lengthAdjust="spacingAndGlyphs">60</text><text x="39.2" y="12.5" class="ti" textLength="246.8" lengthAdjust="spacingAndGlyphs">Standard SSL (unsupervised pretraining)</text><text x="372.6" y="12.5" class="ti" textLength="188.7" lengthAdjust="spacingAndGlyphs">SPMat (supervised pretraining)</text><rect x="620" y="38.3" width="21.5" height="144" fill="#98ef8c"/><rect x="620" y="182.3" width="21.5" height="144" fill="#6aafea"/><rect x="620" y="326.3" width="21.5" height="144" fill="#e4b462"/><rect x="620" y="38.3" width="21.5" height="432" fill="none" stroke="#333" stroke-width="0.8"/><line x1="641.5" y1="38.3" x2="645.3" y2="38.3" stroke="#333" stroke-width="0.8"/><text x="648" y="42.1" class="cb" textLength="34.6" lengthAdjust="spacingAndGlyphs">Class C</text><line x1="641.5" y1="254.3" x2="645.3" y2="254.3" stroke="#333" stroke-width="0.8"/><text x="648" y="258.1" class="cb" textLength="34.6" lengthAdjust="spacingAndGlyphs">Class B</text><line x1="641.5" y1="470.3" x2="645.3" y2="470.3" stroke="#333" stroke-width="0.8"/><text x="648" y="474.1" class="cb" textLength="34.6" lengthAdjust="spacingAndGlyphs">Class A</text></svg></div></body></html>
